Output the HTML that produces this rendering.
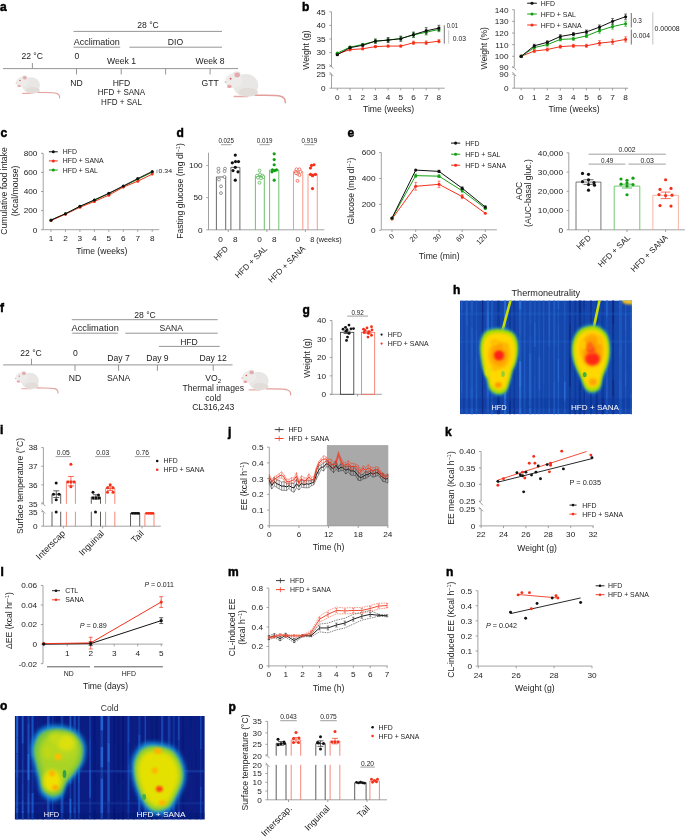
<!DOCTYPE html>
<html><head><meta charset="utf-8"><style>
html,body{margin:0;padding:0;background:#fff;}
svg{display:block;will-change:transform;filter:blur(0.3px);}
text{font-family:"Liberation Sans",sans-serif;}
</style></head><body>
<svg width="685" height="840" viewBox="0 0 685 840" fill="#222">
<defs><filter id="b06" x="-20%" y="-20%" width="140%" height="140%"><feGaussianBlur stdDeviation="0.6"/></filter><filter id="b1" x="-30%" y="-30%" width="160%" height="160%"><feGaussianBlur stdDeviation="1"/></filter><filter id="b15" x="-30%" y="-30%" width="160%" height="160%"><feGaussianBlur stdDeviation="1.5"/></filter><filter id="b2" x="-40%" y="-40%" width="180%" height="180%"><feGaussianBlur stdDeviation="2"/></filter><filter id="b3" x="-50%" y="-50%" width="200%" height="200%"><feGaussianBlur stdDeviation="3"/></filter><clipPath id="cph"><rect x="460.0" y="300.4" width="172.0" height="113.8"/></clipPath><clipPath id="cpo"><rect x="14.7" y="716.0" width="190.1" height="103.6"/></clipPath></defs>
<text x="0.00" y="10.60" font-size="12" font-weight="bold" fill="#000" stroke="#000" stroke-width="0.5">a</text>
<g transform="translate(15.8,75.1) scale(1.0,1.0)">
<path d="M22,17.4 C30,17.6 37,17.2 40.5,18.2 C43,19 44,20.8 43.8,22.8" fill="none" stroke="#e39e9a" stroke-width="1.1" stroke-linecap="round"/>
<path d="M6.8,18.3 L16.5,18.3" stroke="#e6aaa6" stroke-width="1.1" stroke-linecap="round"/>
<ellipse cx="15.2" cy="10.2" rx="9" ry="8.1" fill="#e9e7e5"/>
<ellipse cx="17" cy="15.2" rx="7" ry="3.2" fill="#e2ddd9"/>
<ellipse cx="6.6" cy="6.8" rx="6.4" ry="5.3" fill="#eeecea" transform="rotate(-12 6.6 6.8)"/>
<ellipse cx="8.6" cy="2.5" rx="2.9" ry="2.4" fill="#ecebea"/>
<ellipse cx="9.0" cy="2.7" rx="2.0" ry="1.7" fill="#e3acac"/>
<circle cx="4.2" cy="5.4" r="0.65" fill="#d04848"/>
<circle cx="0.4" cy="7.9" r="0.6" fill="#e8a8a8"/>
<ellipse cx="3.3" cy="11.0" rx="1.7" ry="1.1" fill="#e9a4a4"/>
</g>
<g transform="translate(224.8,71.2) scale(1.38,1.38)">
<path d="M22,17.4 C30,17.6 37,17.2 40.5,18.2 C43,19 44,20.8 43.8,22.8" fill="none" stroke="#e39e9a" stroke-width="1.1" stroke-linecap="round"/>
<path d="M6.8,18.3 L16.5,18.3" stroke="#e6aaa6" stroke-width="1.1" stroke-linecap="round"/>
<ellipse cx="15.2" cy="10.2" rx="9" ry="8.1" fill="#e9e7e5"/>
<ellipse cx="17" cy="15.2" rx="7" ry="3.2" fill="#e2ddd9"/>
<ellipse cx="6.6" cy="6.8" rx="6.4" ry="5.3" fill="#eeecea" transform="rotate(-12 6.6 6.8)"/>
<ellipse cx="8.6" cy="2.5" rx="2.9" ry="2.4" fill="#ecebea"/>
<ellipse cx="9.0" cy="2.7" rx="2.0" ry="1.7" fill="#e3acac"/>
<circle cx="4.2" cy="5.4" r="0.65" fill="#d04848"/>
<circle cx="0.4" cy="7.9" r="0.6" fill="#e8a8a8"/>
<ellipse cx="3.3" cy="11.0" rx="1.7" ry="1.1" fill="#e9a4a4"/>
</g>
<line x1="3.00" y1="68.60" x2="238.00" y2="68.60" stroke="#8a8a8a" stroke-width="0.9"/>
<line x1="32.40" y1="63.00" x2="32.40" y2="68.60" stroke="#8a8a8a" stroke-width="0.9"/>
<line x1="76.50" y1="68.60" x2="76.50" y2="74.50" stroke="#8a8a8a" stroke-width="0.9"/>
<line x1="121.20" y1="68.60" x2="121.20" y2="74.50" stroke="#8a8a8a" stroke-width="0.9"/>
<line x1="165.60" y1="68.60" x2="165.60" y2="74.50" stroke="#8a8a8a" stroke-width="0.9"/>
<line x1="210.10" y1="68.60" x2="210.10" y2="74.50" stroke="#8a8a8a" stroke-width="0.9"/>
<line x1="73.50" y1="31.40" x2="222.00" y2="31.40" stroke="#8a8a8a" stroke-width="0.9"/>
<line x1="73.50" y1="47.20" x2="120.20" y2="47.20" stroke="#8a8a8a" stroke-width="0.9"/>
<line x1="129.40" y1="47.20" x2="222.00" y2="47.20" stroke="#8a8a8a" stroke-width="0.9"/>
<text x="148.00" y="27.80" font-size="8.6" text-anchor="middle">28 °C</text>
<text x="73.80" y="44.50" font-size="8.6" textLength="46" lengthAdjust="spacingAndGlyphs">Acclimation</text>
<text x="175.50" y="44.50" font-size="8.6" text-anchor="middle">DIO</text>
<text x="32.20" y="59.30" font-size="8.6" text-anchor="middle">22 °C</text>
<text x="76.80" y="59.30" font-size="8.6" text-anchor="middle">0</text>
<text x="121.50" y="64.30" font-size="8.6" text-anchor="middle">Week 1</text>
<text x="210.10" y="64.30" font-size="8.6" text-anchor="middle">Week 8</text>
<text x="76.50" y="85.60" font-size="8.6" text-anchor="middle">ND</text>
<text x="121.50" y="85.60" font-size="8.6" text-anchor="middle">HFD</text>
<text x="121.50" y="95.40" font-size="8.6" text-anchor="middle" textLength="47.4" lengthAdjust="spacingAndGlyphs">HFD + SANA</text>
<text x="121.50" y="105.20" font-size="8.6" text-anchor="middle" textLength="40.8" lengthAdjust="spacingAndGlyphs">HFD + SAL</text>
<text x="210.10" y="85.60" font-size="8.6" text-anchor="middle">GTT</text>
<text x="302.00" y="10.90" font-size="12" font-weight="bold" fill="#000" stroke="#000" stroke-width="0.5">b</text>
<line x1="331.50" y1="11.80" x2="331.50" y2="66.80" stroke="#8c8c8c" stroke-width="0.8"/>
<line x1="331.50" y1="74.80" x2="331.50" y2="88.20" stroke="#8c8c8c" stroke-width="0.8"/>
<line x1="329.60" y1="64.50" x2="333.40" y2="68.70" stroke="#8c8c8c" stroke-width="0.8"/>
<line x1="329.60" y1="72.00" x2="333.40" y2="76.20" stroke="#8c8c8c" stroke-width="0.8"/>
<line x1="329.30" y1="11.80" x2="331.50" y2="11.80" stroke="#8c8c8c" stroke-width="0.8"/>
<text x="325.70" y="14.68" font-size="8.0" text-anchor="end" textLength="9.16" lengthAdjust="spacingAndGlyphs">45</text>
<line x1="329.30" y1="25.40" x2="331.50" y2="25.40" stroke="#8c8c8c" stroke-width="0.8"/>
<text x="325.70" y="28.28" font-size="8.0" text-anchor="end" textLength="9.16" lengthAdjust="spacingAndGlyphs">40</text>
<line x1="329.30" y1="39.00" x2="331.50" y2="39.00" stroke="#8c8c8c" stroke-width="0.8"/>
<text x="325.70" y="41.88" font-size="8.0" text-anchor="end" textLength="9.16" lengthAdjust="spacingAndGlyphs">35</text>
<line x1="329.30" y1="52.60" x2="331.50" y2="52.60" stroke="#8c8c8c" stroke-width="0.8"/>
<text x="325.70" y="55.48" font-size="8.0" text-anchor="end" textLength="9.16" lengthAdjust="spacingAndGlyphs">30</text>
<line x1="329.30" y1="66.20" x2="331.50" y2="66.20" stroke="#8c8c8c" stroke-width="0.8"/>
<text x="325.70" y="69.08" font-size="8.0" text-anchor="end" textLength="9.16" lengthAdjust="spacingAndGlyphs">25</text>
<line x1="329.30" y1="74.20" x2="331.50" y2="74.20" stroke="#8c8c8c" stroke-width="0.8"/>
<text x="325.70" y="77.08" font-size="8.0" text-anchor="end" textLength="9.16" lengthAdjust="spacingAndGlyphs">25</text>
<line x1="329.30" y1="88.20" x2="331.50" y2="88.20" stroke="#8c8c8c" stroke-width="0.8"/>
<text x="325.70" y="91.08" font-size="8.0" text-anchor="end" textLength="4.58" lengthAdjust="spacingAndGlyphs">0</text>
<line x1="331.50" y1="88.20" x2="444.70" y2="88.20" stroke="#8c8c8c" stroke-width="0.8"/>
<line x1="337.30" y1="88.20" x2="337.30" y2="90.40" stroke="#8c8c8c" stroke-width="0.8"/>
<text x="337.30" y="99.66" font-size="8.0" text-anchor="middle" textLength="4.58" lengthAdjust="spacingAndGlyphs">0</text>
<line x1="350.00" y1="88.20" x2="350.00" y2="90.40" stroke="#8c8c8c" stroke-width="0.8"/>
<text x="350.00" y="99.66" font-size="8.0" text-anchor="middle" textLength="4.58" lengthAdjust="spacingAndGlyphs">1</text>
<line x1="362.70" y1="88.20" x2="362.70" y2="90.40" stroke="#8c8c8c" stroke-width="0.8"/>
<text x="362.70" y="99.66" font-size="8.0" text-anchor="middle" textLength="4.58" lengthAdjust="spacingAndGlyphs">2</text>
<line x1="375.40" y1="88.20" x2="375.40" y2="90.40" stroke="#8c8c8c" stroke-width="0.8"/>
<text x="375.40" y="99.66" font-size="8.0" text-anchor="middle" textLength="4.58" lengthAdjust="spacingAndGlyphs">3</text>
<line x1="388.10" y1="88.20" x2="388.10" y2="90.40" stroke="#8c8c8c" stroke-width="0.8"/>
<text x="388.10" y="99.66" font-size="8.0" text-anchor="middle" textLength="4.58" lengthAdjust="spacingAndGlyphs">4</text>
<line x1="400.80" y1="88.20" x2="400.80" y2="90.40" stroke="#8c8c8c" stroke-width="0.8"/>
<text x="400.80" y="99.66" font-size="8.0" text-anchor="middle" textLength="4.58" lengthAdjust="spacingAndGlyphs">5</text>
<line x1="413.50" y1="88.20" x2="413.50" y2="90.40" stroke="#8c8c8c" stroke-width="0.8"/>
<text x="413.50" y="99.66" font-size="8.0" text-anchor="middle" textLength="4.58" lengthAdjust="spacingAndGlyphs">6</text>
<line x1="426.20" y1="88.20" x2="426.20" y2="90.40" stroke="#8c8c8c" stroke-width="0.8"/>
<text x="426.20" y="99.66" font-size="8.0" text-anchor="middle" textLength="4.58" lengthAdjust="spacingAndGlyphs">7</text>
<line x1="438.90" y1="88.20" x2="438.90" y2="90.40" stroke="#8c8c8c" stroke-width="0.8"/>
<text x="438.90" y="99.66" font-size="8.0" text-anchor="middle" textLength="4.58" lengthAdjust="spacingAndGlyphs">8</text>
<text x="388.60" y="112.00" font-size="8.6" text-anchor="middle">Time (weeks)</text>
<text x="308.60" y="50.00" font-size="8.6" text-anchor="middle" transform="rotate(-90 308.60 50.00)">Weight (g)</text>
<line x1="337.30" y1="53.16" x2="337.30" y2="54.76" stroke="#f4301a" stroke-width="0.6"/>
<line x1="335.90" y1="53.16" x2="338.70" y2="53.16" stroke="#f4301a" stroke-width="0.6"/>
<line x1="335.90" y1="54.76" x2="338.70" y2="54.76" stroke="#f4301a" stroke-width="0.6"/>
<line x1="350.00" y1="48.41" x2="350.00" y2="50.81" stroke="#f4301a" stroke-width="0.6"/>
<line x1="348.60" y1="48.41" x2="351.40" y2="48.41" stroke="#f4301a" stroke-width="0.6"/>
<line x1="348.60" y1="50.81" x2="351.40" y2="50.81" stroke="#f4301a" stroke-width="0.6"/>
<line x1="362.70" y1="47.79" x2="362.70" y2="49.79" stroke="#f4301a" stroke-width="0.6"/>
<line x1="361.30" y1="47.79" x2="364.10" y2="47.79" stroke="#f4301a" stroke-width="0.6"/>
<line x1="361.30" y1="49.79" x2="364.10" y2="49.79" stroke="#f4301a" stroke-width="0.6"/>
<line x1="375.40" y1="45.62" x2="375.40" y2="47.62" stroke="#f4301a" stroke-width="0.6"/>
<line x1="374.00" y1="45.62" x2="376.80" y2="45.62" stroke="#f4301a" stroke-width="0.6"/>
<line x1="374.00" y1="47.62" x2="376.80" y2="47.62" stroke="#f4301a" stroke-width="0.6"/>
<line x1="388.10" y1="45.07" x2="388.10" y2="47.07" stroke="#f4301a" stroke-width="0.6"/>
<line x1="386.70" y1="45.07" x2="389.50" y2="45.07" stroke="#f4301a" stroke-width="0.6"/>
<line x1="386.70" y1="47.07" x2="389.50" y2="47.07" stroke="#f4301a" stroke-width="0.6"/>
<line x1="400.80" y1="45.07" x2="400.80" y2="47.07" stroke="#f4301a" stroke-width="0.6"/>
<line x1="399.40" y1="45.07" x2="402.20" y2="45.07" stroke="#f4301a" stroke-width="0.6"/>
<line x1="399.40" y1="47.07" x2="402.20" y2="47.07" stroke="#f4301a" stroke-width="0.6"/>
<line x1="413.50" y1="41.21" x2="413.50" y2="44.41" stroke="#f4301a" stroke-width="0.6"/>
<line x1="412.10" y1="41.21" x2="414.90" y2="41.21" stroke="#f4301a" stroke-width="0.6"/>
<line x1="412.10" y1="44.41" x2="414.90" y2="44.41" stroke="#f4301a" stroke-width="0.6"/>
<line x1="426.20" y1="41.01" x2="426.20" y2="44.61" stroke="#f4301a" stroke-width="0.6"/>
<line x1="424.80" y1="41.01" x2="427.60" y2="41.01" stroke="#f4301a" stroke-width="0.6"/>
<line x1="424.80" y1="44.61" x2="427.60" y2="44.61" stroke="#f4301a" stroke-width="0.6"/>
<line x1="438.90" y1="39.58" x2="438.90" y2="42.78" stroke="#f4301a" stroke-width="0.6"/>
<line x1="437.50" y1="39.58" x2="440.30" y2="39.58" stroke="#f4301a" stroke-width="0.6"/>
<line x1="437.50" y1="42.78" x2="440.30" y2="42.78" stroke="#f4301a" stroke-width="0.6"/>
<polyline points="337.30,53.96 350.00,49.61 362.70,48.79 375.40,46.62 388.10,46.07 400.80,46.07 413.50,42.81 426.20,42.81 438.90,41.18" fill="none" stroke="#f4301a" stroke-width="1.0" stroke-linejoin="round"/>
<circle cx="337.30" cy="53.96" r="1.55" fill="#f4301a"/>
<circle cx="350.00" cy="49.61" r="1.55" fill="#f4301a"/>
<circle cx="362.70" cy="48.79" r="1.55" fill="#f4301a"/>
<circle cx="375.40" cy="46.62" r="1.55" fill="#f4301a"/>
<circle cx="388.10" cy="46.07" r="1.55" fill="#f4301a"/>
<circle cx="400.80" cy="46.07" r="1.55" fill="#f4301a"/>
<circle cx="413.50" cy="42.81" r="1.55" fill="#f4301a"/>
<circle cx="426.20" cy="42.81" r="1.55" fill="#f4301a"/>
<circle cx="438.90" cy="41.18" r="1.55" fill="#f4301a"/>
<line x1="337.30" y1="52.54" x2="337.30" y2="53.74" stroke="#13a013" stroke-width="0.6"/>
<line x1="335.90" y1="52.54" x2="338.70" y2="52.54" stroke="#13a013" stroke-width="0.6"/>
<line x1="335.90" y1="53.74" x2="338.70" y2="53.74" stroke="#13a013" stroke-width="0.6"/>
<line x1="350.00" y1="46.16" x2="350.00" y2="48.16" stroke="#13a013" stroke-width="0.6"/>
<line x1="348.60" y1="46.16" x2="351.40" y2="46.16" stroke="#13a013" stroke-width="0.6"/>
<line x1="348.60" y1="48.16" x2="351.40" y2="48.16" stroke="#13a013" stroke-width="0.6"/>
<line x1="362.70" y1="43.44" x2="362.70" y2="45.44" stroke="#13a013" stroke-width="0.6"/>
<line x1="361.30" y1="43.44" x2="364.10" y2="43.44" stroke="#13a013" stroke-width="0.6"/>
<line x1="361.30" y1="45.44" x2="364.10" y2="45.44" stroke="#13a013" stroke-width="0.6"/>
<line x1="375.40" y1="39.68" x2="375.40" y2="42.68" stroke="#13a013" stroke-width="0.6"/>
<line x1="374.00" y1="39.68" x2="376.80" y2="39.68" stroke="#13a013" stroke-width="0.6"/>
<line x1="374.00" y1="42.68" x2="376.80" y2="42.68" stroke="#13a013" stroke-width="0.6"/>
<line x1="388.10" y1="38.29" x2="388.10" y2="41.89" stroke="#13a013" stroke-width="0.6"/>
<line x1="386.70" y1="38.29" x2="389.50" y2="38.29" stroke="#13a013" stroke-width="0.6"/>
<line x1="386.70" y1="41.89" x2="389.50" y2="41.89" stroke="#13a013" stroke-width="0.6"/>
<line x1="400.80" y1="36.66" x2="400.80" y2="40.26" stroke="#13a013" stroke-width="0.6"/>
<line x1="399.40" y1="36.66" x2="402.20" y2="36.66" stroke="#13a013" stroke-width="0.6"/>
<line x1="399.40" y1="40.26" x2="402.20" y2="40.26" stroke="#13a013" stroke-width="0.6"/>
<line x1="413.50" y1="32.72" x2="413.50" y2="37.12" stroke="#13a013" stroke-width="0.6"/>
<line x1="412.10" y1="32.72" x2="414.90" y2="32.72" stroke="#13a013" stroke-width="0.6"/>
<line x1="412.10" y1="37.12" x2="414.90" y2="37.12" stroke="#13a013" stroke-width="0.6"/>
<line x1="426.20" y1="29.40" x2="426.20" y2="35.00" stroke="#13a013" stroke-width="0.6"/>
<line x1="424.80" y1="29.40" x2="427.60" y2="29.40" stroke="#13a013" stroke-width="0.6"/>
<line x1="424.80" y1="35.00" x2="427.60" y2="35.00" stroke="#13a013" stroke-width="0.6"/>
<line x1="438.90" y1="27.28" x2="438.90" y2="31.68" stroke="#13a013" stroke-width="0.6"/>
<line x1="437.50" y1="27.28" x2="440.30" y2="27.28" stroke="#13a013" stroke-width="0.6"/>
<line x1="437.50" y1="31.68" x2="440.30" y2="31.68" stroke="#13a013" stroke-width="0.6"/>
<polyline points="337.30,53.14 350.00,47.16 362.70,44.44 375.40,41.18 388.10,40.09 400.80,38.46 413.50,34.92 426.20,32.20 438.90,29.48" fill="none" stroke="#13a013" stroke-width="1.0" stroke-linejoin="round"/>
<circle cx="337.30" cy="53.14" r="1.55" fill="#13a013"/>
<circle cx="350.00" cy="47.16" r="1.55" fill="#13a013"/>
<circle cx="362.70" cy="44.44" r="1.55" fill="#13a013"/>
<circle cx="375.40" cy="41.18" r="1.55" fill="#13a013"/>
<circle cx="388.10" cy="40.09" r="1.55" fill="#13a013"/>
<circle cx="400.80" cy="38.46" r="1.55" fill="#13a013"/>
<circle cx="413.50" cy="34.92" r="1.55" fill="#13a013"/>
<circle cx="426.20" cy="32.20" r="1.55" fill="#13a013"/>
<circle cx="438.90" cy="29.48" r="1.55" fill="#13a013"/>
<line x1="337.30" y1="54.18" x2="337.30" y2="55.38" stroke="#111" stroke-width="0.6"/>
<line x1="335.90" y1="54.18" x2="338.70" y2="54.18" stroke="#111" stroke-width="0.6"/>
<line x1="335.90" y1="55.38" x2="338.70" y2="55.38" stroke="#111" stroke-width="0.6"/>
<line x1="350.00" y1="46.70" x2="350.00" y2="48.70" stroke="#111" stroke-width="0.6"/>
<line x1="348.60" y1="46.70" x2="351.40" y2="46.70" stroke="#111" stroke-width="0.6"/>
<line x1="348.60" y1="48.70" x2="351.40" y2="48.70" stroke="#111" stroke-width="0.6"/>
<line x1="362.70" y1="44.06" x2="362.70" y2="46.46" stroke="#111" stroke-width="0.6"/>
<line x1="361.30" y1="44.06" x2="364.10" y2="44.06" stroke="#111" stroke-width="0.6"/>
<line x1="361.30" y1="46.46" x2="364.10" y2="46.46" stroke="#111" stroke-width="0.6"/>
<line x1="375.40" y1="38.98" x2="375.40" y2="43.38" stroke="#111" stroke-width="0.6"/>
<line x1="374.00" y1="38.98" x2="376.80" y2="38.98" stroke="#111" stroke-width="0.6"/>
<line x1="374.00" y1="43.38" x2="376.80" y2="43.38" stroke="#111" stroke-width="0.6"/>
<line x1="388.10" y1="37.59" x2="388.10" y2="42.59" stroke="#111" stroke-width="0.6"/>
<line x1="386.70" y1="37.59" x2="389.50" y2="37.59" stroke="#111" stroke-width="0.6"/>
<line x1="386.70" y1="42.59" x2="389.50" y2="42.59" stroke="#111" stroke-width="0.6"/>
<line x1="400.80" y1="36.13" x2="400.80" y2="41.33" stroke="#111" stroke-width="0.6"/>
<line x1="399.40" y1="36.13" x2="402.20" y2="36.13" stroke="#111" stroke-width="0.6"/>
<line x1="399.40" y1="41.33" x2="402.20" y2="41.33" stroke="#111" stroke-width="0.6"/>
<line x1="413.50" y1="32.05" x2="413.50" y2="37.25" stroke="#111" stroke-width="0.6"/>
<line x1="412.10" y1="32.05" x2="414.90" y2="32.05" stroke="#111" stroke-width="0.6"/>
<line x1="412.10" y1="37.25" x2="414.90" y2="37.25" stroke="#111" stroke-width="0.6"/>
<line x1="426.20" y1="27.64" x2="426.20" y2="34.04" stroke="#111" stroke-width="0.6"/>
<line x1="424.80" y1="27.64" x2="427.60" y2="27.64" stroke="#111" stroke-width="0.6"/>
<line x1="424.80" y1="34.04" x2="427.60" y2="34.04" stroke="#111" stroke-width="0.6"/>
<line x1="438.90" y1="25.32" x2="438.90" y2="30.92" stroke="#111" stroke-width="0.6"/>
<line x1="437.50" y1="25.32" x2="440.30" y2="25.32" stroke="#111" stroke-width="0.6"/>
<line x1="437.50" y1="30.92" x2="440.30" y2="30.92" stroke="#111" stroke-width="0.6"/>
<polyline points="337.30,54.78 350.00,47.70 362.70,45.26 375.40,41.18 388.10,40.09 400.80,38.73 413.50,34.65 426.20,30.84 438.90,28.12" fill="none" stroke="#111" stroke-width="1.0" stroke-linejoin="round"/>
<circle cx="337.30" cy="54.78" r="1.55" fill="#111"/>
<circle cx="350.00" cy="47.70" r="1.55" fill="#111"/>
<circle cx="362.70" cy="45.26" r="1.55" fill="#111"/>
<circle cx="375.40" cy="41.18" r="1.55" fill="#111"/>
<circle cx="388.10" cy="40.09" r="1.55" fill="#111"/>
<circle cx="400.80" cy="38.73" r="1.55" fill="#111"/>
<circle cx="413.50" cy="34.65" r="1.55" fill="#111"/>
<circle cx="426.20" cy="30.84" r="1.55" fill="#111"/>
<circle cx="438.90" cy="28.12" r="1.55" fill="#111"/>
<line x1="444.30" y1="25.30" x2="444.30" y2="43.70" stroke="#555" stroke-width="0.8"/>
<line x1="448.70" y1="30.30" x2="448.70" y2="43.70" stroke="#bbb" stroke-width="0.8"/>
<text x="446.70" y="27.60" font-size="6.4" textLength="11.4" lengthAdjust="spacingAndGlyphs">0.01</text>
<text x="452.80" y="41.40" font-size="6.4" textLength="13.2" lengthAdjust="spacingAndGlyphs">0.03</text>
<line x1="514.30" y1="9.70" x2="514.30" y2="66.80" stroke="#8c8c8c" stroke-width="0.8"/>
<line x1="514.30" y1="75.00" x2="514.30" y2="88.20" stroke="#8c8c8c" stroke-width="0.8"/>
<line x1="512.40" y1="66.00" x2="516.20" y2="70.20" stroke="#8c8c8c" stroke-width="0.8"/>
<line x1="512.40" y1="72.00" x2="516.20" y2="76.20" stroke="#8c8c8c" stroke-width="0.8"/>
<line x1="512.10" y1="9.70" x2="514.30" y2="9.70" stroke="#8c8c8c" stroke-width="0.8"/>
<text x="508.50" y="12.58" font-size="8.0" text-anchor="end" textLength="13.75" lengthAdjust="spacingAndGlyphs">140</text>
<line x1="512.10" y1="21.35" x2="514.30" y2="21.35" stroke="#8c8c8c" stroke-width="0.8"/>
<text x="508.50" y="24.23" font-size="8.0" text-anchor="end" textLength="13.75" lengthAdjust="spacingAndGlyphs">130</text>
<line x1="512.10" y1="33.00" x2="514.30" y2="33.00" stroke="#8c8c8c" stroke-width="0.8"/>
<text x="508.50" y="35.88" font-size="8.0" text-anchor="end" textLength="13.75" lengthAdjust="spacingAndGlyphs">120</text>
<line x1="512.10" y1="44.65" x2="514.30" y2="44.65" stroke="#8c8c8c" stroke-width="0.8"/>
<text x="508.50" y="47.53" font-size="8.0" text-anchor="end" textLength="13.14" lengthAdjust="spacingAndGlyphs">110</text>
<line x1="512.10" y1="56.30" x2="514.30" y2="56.30" stroke="#8c8c8c" stroke-width="0.8"/>
<text x="508.50" y="59.18" font-size="8.0" text-anchor="end" textLength="13.75" lengthAdjust="spacingAndGlyphs">100</text>
<line x1="512.10" y1="67.40" x2="514.30" y2="67.40" stroke="#8c8c8c" stroke-width="0.8"/>
<text x="508.50" y="70.28" font-size="8.0" text-anchor="end" textLength="9.16" lengthAdjust="spacingAndGlyphs">90</text>
<line x1="512.10" y1="74.20" x2="514.30" y2="74.20" stroke="#8c8c8c" stroke-width="0.8"/>
<text x="508.50" y="77.08" font-size="8.0" text-anchor="end" textLength="9.16" lengthAdjust="spacingAndGlyphs">90</text>
<line x1="512.10" y1="88.20" x2="514.30" y2="88.20" stroke="#8c8c8c" stroke-width="0.8"/>
<text x="508.50" y="91.08" font-size="8.0" text-anchor="end" textLength="4.58" lengthAdjust="spacingAndGlyphs">0</text>
<line x1="514.30" y1="88.20" x2="628.20" y2="88.20" stroke="#8c8c8c" stroke-width="0.8"/>
<line x1="521.20" y1="88.20" x2="521.20" y2="90.40" stroke="#8c8c8c" stroke-width="0.8"/>
<text x="521.20" y="99.66" font-size="8.0" text-anchor="middle" textLength="4.58" lengthAdjust="spacingAndGlyphs">0</text>
<line x1="534.25" y1="88.20" x2="534.25" y2="90.40" stroke="#8c8c8c" stroke-width="0.8"/>
<text x="534.25" y="99.66" font-size="8.0" text-anchor="middle" textLength="4.58" lengthAdjust="spacingAndGlyphs">1</text>
<line x1="547.30" y1="88.20" x2="547.30" y2="90.40" stroke="#8c8c8c" stroke-width="0.8"/>
<text x="547.30" y="99.66" font-size="8.0" text-anchor="middle" textLength="4.58" lengthAdjust="spacingAndGlyphs">2</text>
<line x1="560.35" y1="88.20" x2="560.35" y2="90.40" stroke="#8c8c8c" stroke-width="0.8"/>
<text x="560.35" y="99.66" font-size="8.0" text-anchor="middle" textLength="4.58" lengthAdjust="spacingAndGlyphs">3</text>
<line x1="573.40" y1="88.20" x2="573.40" y2="90.40" stroke="#8c8c8c" stroke-width="0.8"/>
<text x="573.40" y="99.66" font-size="8.0" text-anchor="middle" textLength="4.58" lengthAdjust="spacingAndGlyphs">4</text>
<line x1="586.45" y1="88.20" x2="586.45" y2="90.40" stroke="#8c8c8c" stroke-width="0.8"/>
<text x="586.45" y="99.66" font-size="8.0" text-anchor="middle" textLength="4.58" lengthAdjust="spacingAndGlyphs">5</text>
<line x1="599.50" y1="88.20" x2="599.50" y2="90.40" stroke="#8c8c8c" stroke-width="0.8"/>
<text x="599.50" y="99.66" font-size="8.0" text-anchor="middle" textLength="4.58" lengthAdjust="spacingAndGlyphs">6</text>
<line x1="612.55" y1="88.20" x2="612.55" y2="90.40" stroke="#8c8c8c" stroke-width="0.8"/>
<text x="612.55" y="99.66" font-size="8.0" text-anchor="middle" textLength="4.58" lengthAdjust="spacingAndGlyphs">7</text>
<line x1="625.60" y1="88.20" x2="625.60" y2="90.40" stroke="#8c8c8c" stroke-width="0.8"/>
<text x="625.60" y="99.66" font-size="8.0" text-anchor="middle" textLength="4.58" lengthAdjust="spacingAndGlyphs">8</text>
<text x="574.00" y="112.00" font-size="8.6" text-anchor="middle">Time (weeks)</text>
<text x="486.80" y="48.20" font-size="8.6" text-anchor="middle" transform="rotate(-90 486.80 48.20)">Weight (%)</text>
<line x1="521.20" y1="55.30" x2="521.20" y2="57.30" stroke="#f4301a" stroke-width="0.6"/>
<line x1="519.80" y1="55.30" x2="522.60" y2="55.30" stroke="#f4301a" stroke-width="0.6"/>
<line x1="519.80" y1="57.30" x2="522.60" y2="57.30" stroke="#f4301a" stroke-width="0.6"/>
<line x1="534.25" y1="49.56" x2="534.25" y2="52.56" stroke="#f4301a" stroke-width="0.6"/>
<line x1="532.85" y1="49.56" x2="535.65" y2="49.56" stroke="#f4301a" stroke-width="0.6"/>
<line x1="532.85" y1="52.56" x2="535.65" y2="52.56" stroke="#f4301a" stroke-width="0.6"/>
<line x1="547.30" y1="48.04" x2="547.30" y2="51.04" stroke="#f4301a" stroke-width="0.6"/>
<line x1="545.90" y1="48.04" x2="548.70" y2="48.04" stroke="#f4301a" stroke-width="0.6"/>
<line x1="545.90" y1="51.04" x2="548.70" y2="51.04" stroke="#f4301a" stroke-width="0.6"/>
<line x1="560.35" y1="45.13" x2="560.35" y2="48.13" stroke="#f4301a" stroke-width="0.6"/>
<line x1="558.95" y1="45.13" x2="561.75" y2="45.13" stroke="#f4301a" stroke-width="0.6"/>
<line x1="558.95" y1="48.13" x2="561.75" y2="48.13" stroke="#f4301a" stroke-width="0.6"/>
<line x1="573.40" y1="44.31" x2="573.40" y2="47.31" stroke="#f4301a" stroke-width="0.6"/>
<line x1="572.00" y1="44.31" x2="574.80" y2="44.31" stroke="#f4301a" stroke-width="0.6"/>
<line x1="572.00" y1="47.31" x2="574.80" y2="47.31" stroke="#f4301a" stroke-width="0.6"/>
<line x1="586.45" y1="44.31" x2="586.45" y2="47.31" stroke="#f4301a" stroke-width="0.6"/>
<line x1="585.05" y1="44.31" x2="587.85" y2="44.31" stroke="#f4301a" stroke-width="0.6"/>
<line x1="585.05" y1="47.31" x2="587.85" y2="47.31" stroke="#f4301a" stroke-width="0.6"/>
<line x1="599.50" y1="40.64" x2="599.50" y2="45.64" stroke="#f4301a" stroke-width="0.6"/>
<line x1="598.10" y1="40.64" x2="600.90" y2="40.64" stroke="#f4301a" stroke-width="0.6"/>
<line x1="598.10" y1="45.64" x2="600.90" y2="45.64" stroke="#f4301a" stroke-width="0.6"/>
<line x1="612.55" y1="39.24" x2="612.55" y2="44.24" stroke="#f4301a" stroke-width="0.6"/>
<line x1="611.15" y1="39.24" x2="613.95" y2="39.24" stroke="#f4301a" stroke-width="0.6"/>
<line x1="611.15" y1="44.24" x2="613.95" y2="44.24" stroke="#f4301a" stroke-width="0.6"/>
<line x1="625.60" y1="36.81" x2="625.60" y2="42.01" stroke="#f4301a" stroke-width="0.6"/>
<line x1="624.20" y1="36.81" x2="627.00" y2="36.81" stroke="#f4301a" stroke-width="0.6"/>
<line x1="624.20" y1="42.01" x2="627.00" y2="42.01" stroke="#f4301a" stroke-width="0.6"/>
<polyline points="521.20,56.30 534.25,51.06 547.30,49.54 560.35,46.63 573.40,45.81 586.45,45.81 599.50,43.14 612.55,41.74 625.60,39.41" fill="none" stroke="#f4301a" stroke-width="1.0" stroke-linejoin="round"/>
<circle cx="521.20" cy="56.30" r="1.55" fill="#f4301a"/>
<circle cx="534.25" cy="51.06" r="1.55" fill="#f4301a"/>
<circle cx="547.30" cy="49.54" r="1.55" fill="#f4301a"/>
<circle cx="560.35" cy="46.63" r="1.55" fill="#f4301a"/>
<circle cx="573.40" cy="45.81" r="1.55" fill="#f4301a"/>
<circle cx="586.45" cy="45.81" r="1.55" fill="#f4301a"/>
<circle cx="599.50" cy="43.14" r="1.55" fill="#f4301a"/>
<circle cx="612.55" cy="41.74" r="1.55" fill="#f4301a"/>
<circle cx="625.60" cy="39.41" r="1.55" fill="#f4301a"/>
<line x1="521.20" y1="55.30" x2="521.20" y2="57.30" stroke="#13a013" stroke-width="0.6"/>
<line x1="519.80" y1="55.30" x2="522.60" y2="55.30" stroke="#13a013" stroke-width="0.6"/>
<line x1="519.80" y1="57.30" x2="522.60" y2="57.30" stroke="#13a013" stroke-width="0.6"/>
<line x1="534.25" y1="46.06" x2="534.25" y2="49.06" stroke="#13a013" stroke-width="0.6"/>
<line x1="532.85" y1="46.06" x2="535.65" y2="46.06" stroke="#13a013" stroke-width="0.6"/>
<line x1="532.85" y1="49.06" x2="535.65" y2="49.06" stroke="#13a013" stroke-width="0.6"/>
<line x1="547.30" y1="43.15" x2="547.30" y2="46.15" stroke="#13a013" stroke-width="0.6"/>
<line x1="545.90" y1="43.15" x2="548.70" y2="43.15" stroke="#13a013" stroke-width="0.6"/>
<line x1="545.90" y1="46.15" x2="548.70" y2="46.15" stroke="#13a013" stroke-width="0.6"/>
<line x1="560.35" y1="37.91" x2="560.35" y2="40.91" stroke="#13a013" stroke-width="0.6"/>
<line x1="558.95" y1="37.91" x2="561.75" y2="37.91" stroke="#13a013" stroke-width="0.6"/>
<line x1="558.95" y1="40.91" x2="561.75" y2="40.91" stroke="#13a013" stroke-width="0.6"/>
<line x1="573.40" y1="37.32" x2="573.40" y2="40.32" stroke="#13a013" stroke-width="0.6"/>
<line x1="572.00" y1="37.32" x2="574.80" y2="37.32" stroke="#13a013" stroke-width="0.6"/>
<line x1="572.00" y1="40.32" x2="574.80" y2="40.32" stroke="#13a013" stroke-width="0.6"/>
<line x1="586.45" y1="34.41" x2="586.45" y2="37.41" stroke="#13a013" stroke-width="0.6"/>
<line x1="585.05" y1="34.41" x2="587.85" y2="34.41" stroke="#13a013" stroke-width="0.6"/>
<line x1="585.05" y1="37.41" x2="587.85" y2="37.41" stroke="#13a013" stroke-width="0.6"/>
<line x1="599.50" y1="28.17" x2="599.50" y2="33.17" stroke="#13a013" stroke-width="0.6"/>
<line x1="598.10" y1="28.17" x2="600.90" y2="28.17" stroke="#13a013" stroke-width="0.6"/>
<line x1="598.10" y1="33.17" x2="600.90" y2="33.17" stroke="#13a013" stroke-width="0.6"/>
<line x1="612.55" y1="24.09" x2="612.55" y2="29.09" stroke="#13a013" stroke-width="0.6"/>
<line x1="611.15" y1="24.09" x2="613.95" y2="24.09" stroke="#13a013" stroke-width="0.6"/>
<line x1="611.15" y1="29.09" x2="613.95" y2="29.09" stroke="#13a013" stroke-width="0.6"/>
<line x1="625.60" y1="21.08" x2="625.60" y2="26.28" stroke="#13a013" stroke-width="0.6"/>
<line x1="624.20" y1="21.08" x2="627.00" y2="21.08" stroke="#13a013" stroke-width="0.6"/>
<line x1="624.20" y1="26.28" x2="627.00" y2="26.28" stroke="#13a013" stroke-width="0.6"/>
<polyline points="521.20,56.30 534.25,47.56 547.30,44.65 560.35,39.41 573.40,38.82 586.45,35.91 599.50,30.67 612.55,26.59 625.60,23.68" fill="none" stroke="#13a013" stroke-width="1.0" stroke-linejoin="round"/>
<circle cx="521.20" cy="56.30" r="1.55" fill="#13a013"/>
<circle cx="534.25" cy="47.56" r="1.55" fill="#13a013"/>
<circle cx="547.30" cy="44.65" r="1.55" fill="#13a013"/>
<circle cx="560.35" cy="39.41" r="1.55" fill="#13a013"/>
<circle cx="573.40" cy="38.82" r="1.55" fill="#13a013"/>
<circle cx="586.45" cy="35.91" r="1.55" fill="#13a013"/>
<circle cx="599.50" cy="30.67" r="1.55" fill="#13a013"/>
<circle cx="612.55" cy="26.59" r="1.55" fill="#13a013"/>
<circle cx="625.60" cy="23.68" r="1.55" fill="#13a013"/>
<line x1="521.20" y1="55.30" x2="521.20" y2="57.30" stroke="#111" stroke-width="0.6"/>
<line x1="519.80" y1="55.30" x2="522.60" y2="55.30" stroke="#111" stroke-width="0.6"/>
<line x1="519.80" y1="57.30" x2="522.60" y2="57.30" stroke="#111" stroke-width="0.6"/>
<line x1="534.25" y1="44.31" x2="534.25" y2="47.31" stroke="#111" stroke-width="0.6"/>
<line x1="532.85" y1="44.31" x2="535.65" y2="44.31" stroke="#111" stroke-width="0.6"/>
<line x1="532.85" y1="47.31" x2="535.65" y2="47.31" stroke="#111" stroke-width="0.6"/>
<line x1="547.30" y1="40.82" x2="547.30" y2="43.82" stroke="#111" stroke-width="0.6"/>
<line x1="545.90" y1="40.82" x2="548.70" y2="40.82" stroke="#111" stroke-width="0.6"/>
<line x1="545.90" y1="43.82" x2="548.70" y2="43.82" stroke="#111" stroke-width="0.6"/>
<line x1="560.35" y1="34.70" x2="560.35" y2="38.29" stroke="#111" stroke-width="0.6"/>
<line x1="558.95" y1="34.70" x2="561.75" y2="34.70" stroke="#111" stroke-width="0.6"/>
<line x1="558.95" y1="38.29" x2="561.75" y2="38.29" stroke="#111" stroke-width="0.6"/>
<line x1="573.40" y1="32.66" x2="573.40" y2="35.66" stroke="#111" stroke-width="0.6"/>
<line x1="572.00" y1="32.66" x2="574.80" y2="32.66" stroke="#111" stroke-width="0.6"/>
<line x1="572.00" y1="35.66" x2="574.80" y2="35.66" stroke="#111" stroke-width="0.6"/>
<line x1="586.45" y1="30.03" x2="586.45" y2="33.63" stroke="#111" stroke-width="0.6"/>
<line x1="585.05" y1="30.03" x2="587.85" y2="30.03" stroke="#111" stroke-width="0.6"/>
<line x1="585.05" y1="33.63" x2="587.85" y2="33.63" stroke="#111" stroke-width="0.6"/>
<line x1="599.50" y1="24.97" x2="599.50" y2="29.37" stroke="#111" stroke-width="0.6"/>
<line x1="598.10" y1="24.97" x2="600.90" y2="24.97" stroke="#111" stroke-width="0.6"/>
<line x1="598.10" y1="29.37" x2="600.90" y2="29.37" stroke="#111" stroke-width="0.6"/>
<line x1="612.55" y1="18.55" x2="612.55" y2="24.15" stroke="#111" stroke-width="0.6"/>
<line x1="611.15" y1="18.55" x2="613.95" y2="18.55" stroke="#111" stroke-width="0.6"/>
<line x1="611.15" y1="24.15" x2="613.95" y2="24.15" stroke="#111" stroke-width="0.6"/>
<line x1="625.60" y1="14.09" x2="625.60" y2="19.29" stroke="#111" stroke-width="0.6"/>
<line x1="624.20" y1="14.09" x2="627.00" y2="14.09" stroke="#111" stroke-width="0.6"/>
<line x1="624.20" y1="19.29" x2="627.00" y2="19.29" stroke="#111" stroke-width="0.6"/>
<polyline points="521.20,56.30 534.25,45.81 547.30,42.32 560.35,36.49 573.40,34.16 586.45,31.83 599.50,27.17 612.55,21.35 625.60,16.69" fill="none" stroke="#111" stroke-width="1.0" stroke-linejoin="round"/>
<circle cx="521.20" cy="56.30" r="1.55" fill="#111"/>
<circle cx="534.25" cy="45.81" r="1.55" fill="#111"/>
<circle cx="547.30" cy="42.32" r="1.55" fill="#111"/>
<circle cx="560.35" cy="36.49" r="1.55" fill="#111"/>
<circle cx="573.40" cy="34.16" r="1.55" fill="#111"/>
<circle cx="586.45" cy="31.83" r="1.55" fill="#111"/>
<circle cx="599.50" cy="27.17" r="1.55" fill="#111"/>
<circle cx="612.55" cy="21.35" r="1.55" fill="#111"/>
<circle cx="625.60" cy="16.69" r="1.55" fill="#111"/>
<line x1="527.20" y1="3.20" x2="536.80" y2="3.20" stroke="#111" stroke-width="1.0"/>
<circle cx="532.00" cy="3.20" r="1.55" fill="#111"/>
<text x="540.80" y="5.70" font-size="6.9">HFD</text>
<line x1="527.20" y1="14.00" x2="536.80" y2="14.00" stroke="#13a013" stroke-width="1.0"/>
<circle cx="532.00" cy="14.00" r="1.55" fill="#13a013"/>
<text x="540.80" y="16.50" font-size="6.9">HFD + SAL</text>
<line x1="527.20" y1="25.00" x2="536.80" y2="25.00" stroke="#f4301a" stroke-width="1.0"/>
<circle cx="532.00" cy="25.00" r="1.55" fill="#f4301a"/>
<text x="540.80" y="27.50" font-size="6.9">HFD + SANA</text>
<line x1="631.30" y1="13.00" x2="631.30" y2="27.50" stroke="#333" stroke-width="0.7"/>
<line x1="631.30" y1="29.50" x2="631.30" y2="44.50" stroke="#333" stroke-width="0.7"/>
<line x1="652.80" y1="12.30" x2="652.80" y2="44.50" stroke="#aaa" stroke-width="0.7"/>
<text x="632.90" y="22.70" font-size="6.4" textLength="9" lengthAdjust="spacingAndGlyphs">0.3</text>
<text x="633.00" y="38.00" font-size="6.4" textLength="17" lengthAdjust="spacingAndGlyphs">0.004</text>
<text x="654.60" y="31.00" font-size="6.4" textLength="25" lengthAdjust="spacingAndGlyphs">0.00008</text>
<text x="0.50" y="136.80" font-size="12" font-weight="bold" fill="#000" stroke="#000" stroke-width="0.5">c</text>
<line x1="43.20" y1="153.30" x2="43.20" y2="229.70" stroke="#8c8c8c" stroke-width="0.8"/>
<line x1="41.00" y1="153.30" x2="43.20" y2="153.30" stroke="#8c8c8c" stroke-width="0.8"/>
<text x="37.40" y="156.18" font-size="8.0" text-anchor="end" textLength="13.75" lengthAdjust="spacingAndGlyphs">800</text>
<line x1="41.00" y1="172.40" x2="43.20" y2="172.40" stroke="#8c8c8c" stroke-width="0.8"/>
<text x="37.40" y="175.28" font-size="8.0" text-anchor="end" textLength="13.75" lengthAdjust="spacingAndGlyphs">600</text>
<line x1="41.00" y1="191.50" x2="43.20" y2="191.50" stroke="#8c8c8c" stroke-width="0.8"/>
<text x="37.40" y="194.38" font-size="8.0" text-anchor="end" textLength="13.75" lengthAdjust="spacingAndGlyphs">400</text>
<line x1="41.00" y1="210.60" x2="43.20" y2="210.60" stroke="#8c8c8c" stroke-width="0.8"/>
<text x="37.40" y="213.48" font-size="8.0" text-anchor="end" textLength="13.75" lengthAdjust="spacingAndGlyphs">200</text>
<line x1="41.00" y1="229.70" x2="43.20" y2="229.70" stroke="#8c8c8c" stroke-width="0.8"/>
<text x="37.40" y="232.58" font-size="8.0" text-anchor="end" textLength="4.58" lengthAdjust="spacingAndGlyphs">0</text>
<line x1="43.20" y1="229.70" x2="159.20" y2="229.70" stroke="#8c8c8c" stroke-width="0.8"/>
<line x1="51.00" y1="229.70" x2="51.00" y2="231.90" stroke="#8c8c8c" stroke-width="0.8"/>
<text x="51.00" y="241.16" font-size="8.0" text-anchor="middle" textLength="4.58" lengthAdjust="spacingAndGlyphs">1</text>
<line x1="65.46" y1="229.70" x2="65.46" y2="231.90" stroke="#8c8c8c" stroke-width="0.8"/>
<text x="65.46" y="241.16" font-size="8.0" text-anchor="middle" textLength="4.58" lengthAdjust="spacingAndGlyphs">2</text>
<line x1="79.92" y1="229.70" x2="79.92" y2="231.90" stroke="#8c8c8c" stroke-width="0.8"/>
<text x="79.92" y="241.16" font-size="8.0" text-anchor="middle" textLength="4.58" lengthAdjust="spacingAndGlyphs">3</text>
<line x1="94.38" y1="229.70" x2="94.38" y2="231.90" stroke="#8c8c8c" stroke-width="0.8"/>
<text x="94.38" y="241.16" font-size="8.0" text-anchor="middle" textLength="4.58" lengthAdjust="spacingAndGlyphs">4</text>
<line x1="108.84" y1="229.70" x2="108.84" y2="231.90" stroke="#8c8c8c" stroke-width="0.8"/>
<text x="108.84" y="241.16" font-size="8.0" text-anchor="middle" textLength="4.58" lengthAdjust="spacingAndGlyphs">5</text>
<line x1="123.30" y1="229.70" x2="123.30" y2="231.90" stroke="#8c8c8c" stroke-width="0.8"/>
<text x="123.30" y="241.16" font-size="8.0" text-anchor="middle" textLength="4.58" lengthAdjust="spacingAndGlyphs">6</text>
<line x1="137.76" y1="229.70" x2="137.76" y2="231.90" stroke="#8c8c8c" stroke-width="0.8"/>
<text x="137.76" y="241.16" font-size="8.0" text-anchor="middle" textLength="4.58" lengthAdjust="spacingAndGlyphs">7</text>
<line x1="152.22" y1="229.70" x2="152.22" y2="231.90" stroke="#8c8c8c" stroke-width="0.8"/>
<text x="152.22" y="241.16" font-size="8.0" text-anchor="middle" textLength="4.58" lengthAdjust="spacingAndGlyphs">8</text>
<text x="101.80" y="254.30" font-size="8.6" text-anchor="middle">Time (weeks)</text>
<text x="7.00" y="191.00" font-size="8.6" text-anchor="middle" transform="rotate(-90 7.00 191.00)">Cumulative food intake</text>
<text x="17.80" y="191.00" font-size="8.6" text-anchor="middle" transform="rotate(-90 17.80 191.00)">(Kcal/mouse)</text>
<polyline points="51.00,219.96 65.46,213.85 79.92,206.49 94.38,200.29 108.84,193.60 123.30,186.53 137.76,179.28 152.22,172.21" fill="none" stroke="#13a013" stroke-width="1.0" stroke-linejoin="round"/>
<circle cx="51.00" cy="219.96" r="1.5" fill="#13a013"/>
<circle cx="65.46" cy="213.85" r="1.5" fill="#13a013"/>
<circle cx="79.92" cy="206.49" r="1.5" fill="#13a013"/>
<circle cx="94.38" cy="200.29" r="1.5" fill="#13a013"/>
<circle cx="108.84" cy="193.60" r="1.5" fill="#13a013"/>
<circle cx="123.30" cy="186.53" r="1.5" fill="#13a013"/>
<circle cx="137.76" cy="179.28" r="1.5" fill="#13a013"/>
<circle cx="152.22" cy="172.21" r="1.5" fill="#13a013"/>
<polyline points="51.00,220.53 65.46,214.23 79.92,207.26 94.38,201.43 108.84,195.13 123.30,187.11 137.76,181.19 152.22,174.12" fill="none" stroke="#f4301a" stroke-width="1.0" stroke-linejoin="round"/>
<circle cx="51.00" cy="220.53" r="1.5" fill="#f4301a"/>
<circle cx="65.46" cy="214.23" r="1.5" fill="#f4301a"/>
<circle cx="79.92" cy="207.26" r="1.5" fill="#f4301a"/>
<circle cx="94.38" cy="201.43" r="1.5" fill="#f4301a"/>
<circle cx="108.84" cy="195.13" r="1.5" fill="#f4301a"/>
<circle cx="123.30" cy="187.11" r="1.5" fill="#f4301a"/>
<circle cx="137.76" cy="181.19" r="1.5" fill="#f4301a"/>
<circle cx="152.22" cy="174.12" r="1.5" fill="#f4301a"/>
<polyline points="51.00,220.15 65.46,213.66 79.92,206.30 94.38,199.90 108.84,193.22 123.30,185.96 137.76,178.61 152.22,171.44" fill="none" stroke="#111" stroke-width="1.0" stroke-linejoin="round"/>
<circle cx="51.00" cy="220.15" r="1.5" fill="#111"/>
<circle cx="65.46" cy="213.66" r="1.5" fill="#111"/>
<circle cx="79.92" cy="206.30" r="1.5" fill="#111"/>
<circle cx="94.38" cy="199.90" r="1.5" fill="#111"/>
<circle cx="108.84" cy="193.22" r="1.5" fill="#111"/>
<circle cx="123.30" cy="185.96" r="1.5" fill="#111"/>
<circle cx="137.76" cy="178.61" r="1.5" fill="#111"/>
<circle cx="152.22" cy="171.44" r="1.5" fill="#111"/>
<line x1="48.90" y1="151.80" x2="57.70" y2="151.80" stroke="#111" stroke-width="1.0"/>
<circle cx="53.30" cy="151.80" r="1.5" fill="#111"/>
<text x="62.80" y="154.30" font-size="6.9">HFD</text>
<line x1="48.90" y1="160.90" x2="57.70" y2="160.90" stroke="#f4301a" stroke-width="1.0"/>
<circle cx="53.30" cy="160.90" r="1.5" fill="#f4301a"/>
<text x="62.80" y="163.40" font-size="6.9">HFD + SANA</text>
<line x1="48.90" y1="170.00" x2="57.70" y2="170.00" stroke="#13a013" stroke-width="1.0"/>
<circle cx="53.30" cy="170.00" r="1.5" fill="#13a013"/>
<text x="62.80" y="172.50" font-size="6.9">HFD + SAL</text>
<line x1="157.00" y1="169.60" x2="157.00" y2="173.40" stroke="#555" stroke-width="0.6"/>
<text x="158.50" y="173.30" font-size="5.8" textLength="13.6" lengthAdjust="spacingAndGlyphs">0.34</text>
<text x="176.40" y="137.40" font-size="12" font-weight="bold" fill="#000" stroke="#000" stroke-width="0.5">d</text>
<line x1="208.50" y1="152.70" x2="208.50" y2="229.80" stroke="#8c8c8c" stroke-width="0.8"/>
<line x1="206.30" y1="165.40" x2="208.50" y2="165.40" stroke="#8c8c8c" stroke-width="0.8"/>
<text x="202.70" y="168.28" font-size="8.0" text-anchor="end" textLength="13.75" lengthAdjust="spacingAndGlyphs">100</text>
<line x1="206.30" y1="197.60" x2="208.50" y2="197.60" stroke="#8c8c8c" stroke-width="0.8"/>
<text x="202.70" y="200.48" font-size="8.0" text-anchor="end" textLength="9.16" lengthAdjust="spacingAndGlyphs">50</text>
<line x1="206.30" y1="229.80" x2="208.50" y2="229.80" stroke="#8c8c8c" stroke-width="0.8"/>
<text x="202.70" y="232.68" font-size="8.0" text-anchor="end" textLength="4.58" lengthAdjust="spacingAndGlyphs">0</text>
<line x1="208.50" y1="229.80" x2="324.30" y2="229.80" stroke="#8c8c8c" stroke-width="0.8"/>
<line x1="228.30" y1="229.80" x2="228.30" y2="232.00" stroke="#8c8c8c" stroke-width="0.8"/>
<line x1="266.90" y1="229.80" x2="266.90" y2="232.00" stroke="#8c8c8c" stroke-width="0.8"/>
<line x1="305.40" y1="229.80" x2="305.40" y2="232.00" stroke="#8c8c8c" stroke-width="0.8"/>
<path d="M216.40,229.80 V176.99 H225.70 V229.8" fill="none" stroke="#444" stroke-width="0.8"/>
<path d="M230.90,229.80 V167.33 H239.90 V229.8" fill="none" stroke="#444" stroke-width="0.8"/>
<path d="M255.40,229.80 V176.35 H264.30 V229.8" fill="none" stroke="#48b248" stroke-width="0.8"/>
<path d="M269.60,229.80 V169.91 H278.80 V229.8" fill="none" stroke="#48b248" stroke-width="0.8"/>
<path d="M293.50,229.80 V171.84 H302.80 V229.8" fill="none" stroke="#f5806c" stroke-width="0.8"/>
<path d="M308.00,229.80 V174.42 H317.30 V229.8" fill="none" stroke="#f5806c" stroke-width="0.8"/>
<circle cx="218.50" cy="168.62" r="1.45" fill="#fff" stroke="#555" stroke-width="0.6"/>
<circle cx="225.00" cy="168.62" r="1.45" fill="#fff" stroke="#555" stroke-width="0.6"/>
<circle cx="218.50" cy="171.84" r="1.45" fill="#fff" stroke="#555" stroke-width="0.6"/>
<circle cx="224.50" cy="171.20" r="1.45" fill="#fff" stroke="#555" stroke-width="0.6"/>
<circle cx="224.50" cy="176.99" r="1.45" fill="#fff" stroke="#555" stroke-width="0.6"/>
<circle cx="219.00" cy="179.57" r="1.45" fill="#fff" stroke="#555" stroke-width="0.6"/>
<circle cx="221.00" cy="186.33" r="1.45" fill="#fff" stroke="#555" stroke-width="0.6"/>
<circle cx="221.00" cy="193.09" r="1.45" fill="#fff" stroke="#555" stroke-width="0.6"/>
<circle cx="235.30" cy="155.10" r="1.6" fill="#111"/>
<circle cx="232.30" cy="162.82" r="1.6" fill="#111"/>
<circle cx="235.50" cy="161.54" r="1.6" fill="#111"/>
<circle cx="238.50" cy="161.54" r="1.6" fill="#111"/>
<circle cx="235.30" cy="167.33" r="1.6" fill="#111"/>
<circle cx="233.00" cy="170.55" r="1.6" fill="#111"/>
<circle cx="238.00" cy="171.84" r="1.6" fill="#111"/>
<circle cx="235.30" cy="180.21" r="1.6" fill="#111"/>
<circle cx="259.50" cy="170.55" r="1.45" fill="#fff" stroke="#2aa52a" stroke-width="0.6"/>
<circle cx="257.00" cy="175.70" r="1.45" fill="#fff" stroke="#2aa52a" stroke-width="0.6"/>
<circle cx="260.00" cy="174.42" r="1.45" fill="#fff" stroke="#2aa52a" stroke-width="0.6"/>
<circle cx="262.50" cy="175.70" r="1.45" fill="#fff" stroke="#2aa52a" stroke-width="0.6"/>
<circle cx="258.00" cy="177.64" r="1.45" fill="#fff" stroke="#2aa52a" stroke-width="0.6"/>
<circle cx="261.00" cy="178.28" r="1.45" fill="#fff" stroke="#2aa52a" stroke-width="0.6"/>
<circle cx="263.50" cy="176.99" r="1.45" fill="#fff" stroke="#2aa52a" stroke-width="0.6"/>
<circle cx="259.50" cy="182.79" r="1.45" fill="#fff" stroke="#2aa52a" stroke-width="0.6"/>
<circle cx="274.20" cy="153.81" r="1.6" fill="#13a013"/>
<circle cx="274.20" cy="159.60" r="1.6" fill="#13a013"/>
<circle cx="274.20" cy="164.76" r="1.6" fill="#13a013"/>
<circle cx="272.50" cy="169.91" r="1.6" fill="#13a013"/>
<circle cx="274.50" cy="170.55" r="1.6" fill="#13a013"/>
<circle cx="276.50" cy="169.91" r="1.6" fill="#13a013"/>
<circle cx="274.20" cy="180.21" r="1.6" fill="#13a013"/>
<circle cx="272.00" cy="171.84" r="1.6" fill="#13a013"/>
<circle cx="296.50" cy="169.26" r="1.45" fill="#fff" stroke="#f4301a" stroke-width="0.6"/>
<circle cx="299.50" cy="169.26" r="1.45" fill="#fff" stroke="#f4301a" stroke-width="0.6"/>
<circle cx="295.50" cy="171.84" r="1.45" fill="#fff" stroke="#f4301a" stroke-width="0.6"/>
<circle cx="300.50" cy="171.84" r="1.45" fill="#fff" stroke="#f4301a" stroke-width="0.6"/>
<circle cx="297.50" cy="173.77" r="1.45" fill="#fff" stroke="#f4301a" stroke-width="0.6"/>
<circle cx="299.50" cy="175.06" r="1.45" fill="#fff" stroke="#f4301a" stroke-width="0.6"/>
<circle cx="297.50" cy="180.86" r="1.45" fill="#fff" stroke="#f4301a" stroke-width="0.6"/>
<circle cx="296.00" cy="173.13" r="1.45" fill="#fff" stroke="#f4301a" stroke-width="0.6"/>
<circle cx="311.50" cy="165.40" r="1.6" fill="#f4301a"/>
<circle cx="314.00" cy="164.76" r="1.6" fill="#f4301a"/>
<circle cx="310.50" cy="167.98" r="1.6" fill="#f4301a"/>
<circle cx="310.50" cy="174.42" r="1.6" fill="#f4301a"/>
<circle cx="313.00" cy="175.06" r="1.6" fill="#f4301a"/>
<circle cx="315.50" cy="174.42" r="1.6" fill="#f4301a"/>
<circle cx="312.50" cy="175.70" r="1.6" fill="#f4301a"/>
<circle cx="312.50" cy="188.58" r="1.6" fill="#f4301a"/>
<text x="226.20" y="142.50" font-size="6.4" text-anchor="middle" textLength="15.6" lengthAdjust="spacingAndGlyphs">0.025</text>
<line x1="221.00" y1="144.70" x2="231.40" y2="144.70" stroke="#777" stroke-width="0.7"/>
<text x="264.60" y="142.50" font-size="6.4" text-anchor="middle" textLength="15.6" lengthAdjust="spacingAndGlyphs">0.019</text>
<line x1="259.40" y1="144.70" x2="269.80" y2="144.70" stroke="#777" stroke-width="0.7"/>
<text x="309.30" y="142.50" font-size="6.4" text-anchor="middle" textLength="15.6" lengthAdjust="spacingAndGlyphs">0.919</text>
<line x1="304.10" y1="144.70" x2="314.50" y2="144.70" stroke="#777" stroke-width="0.7"/>
<text x="220.60" y="241.60" font-size="8.0" text-anchor="middle" textLength="4.58" lengthAdjust="spacingAndGlyphs">0</text>
<text x="235.20" y="241.60" font-size="8.0" text-anchor="middle" textLength="4.58" lengthAdjust="spacingAndGlyphs">8</text>
<text x="259.60" y="241.60" font-size="8.0" text-anchor="middle" textLength="4.58" lengthAdjust="spacingAndGlyphs">0</text>
<text x="274.30" y="241.60" font-size="8.0" text-anchor="middle" textLength="4.58" lengthAdjust="spacingAndGlyphs">8</text>
<text x="297.80" y="241.60" font-size="8.0" text-anchor="middle" textLength="4.58" lengthAdjust="spacingAndGlyphs">0</text>
<text x="310.30" y="241.60" font-size="8.0" textLength="31.5" lengthAdjust="spacingAndGlyphs">8 (weeks)</text>
<text x="228.80" y="249.20" font-size="8.2" text-anchor="end" transform="rotate(-45 228.80 249.20)">HFD</text>
<text x="267.80" y="249.20" font-size="8.2" text-anchor="end" transform="rotate(-45 267.80 249.20)">HFD + SAL</text>
<text x="305.90" y="249.00" font-size="8.2" text-anchor="end" transform="rotate(-45 305.90 249.00)">HFD + SANA</text>
<text x="183.30" y="191.00" font-size="8.6" text-anchor="middle" transform="rotate(-90 183.30 191.00)">Fasting glucose (mg dl<tspan dy="-3" font-size="5.5">−1</tspan><tspan dy="3">)</tspan></text>
<text x="347.60" y="137.40" font-size="12" font-weight="bold" fill="#000" stroke="#000" stroke-width="0.5">e</text>
<line x1="381.30" y1="152.60" x2="381.30" y2="229.80" stroke="#8c8c8c" stroke-width="0.8"/>
<line x1="379.10" y1="152.60" x2="381.30" y2="152.60" stroke="#8c8c8c" stroke-width="0.8"/>
<text x="375.50" y="155.48" font-size="8.0" text-anchor="end" textLength="13.75" lengthAdjust="spacingAndGlyphs">600</text>
<line x1="379.10" y1="178.50" x2="381.30" y2="178.50" stroke="#8c8c8c" stroke-width="0.8"/>
<text x="375.50" y="181.38" font-size="8.0" text-anchor="end" textLength="13.75" lengthAdjust="spacingAndGlyphs">400</text>
<line x1="379.10" y1="204.40" x2="381.30" y2="204.40" stroke="#8c8c8c" stroke-width="0.8"/>
<text x="375.50" y="207.28" font-size="8.0" text-anchor="end" textLength="13.75" lengthAdjust="spacingAndGlyphs">200</text>
<line x1="379.10" y1="230.30" x2="381.30" y2="230.30" stroke="#8c8c8c" stroke-width="0.8"/>
<text x="375.50" y="233.18" font-size="8.0" text-anchor="end" textLength="4.58" lengthAdjust="spacingAndGlyphs">0</text>
<line x1="381.30" y1="229.80" x2="496.90" y2="229.80" stroke="#8c8c8c" stroke-width="0.8"/>
<line x1="392.00" y1="229.80" x2="392.00" y2="232.00" stroke="#8c8c8c" stroke-width="0.8"/>
<line x1="415.70" y1="229.80" x2="415.70" y2="232.00" stroke="#8c8c8c" stroke-width="0.8"/>
<line x1="439.00" y1="229.80" x2="439.00" y2="232.00" stroke="#8c8c8c" stroke-width="0.8"/>
<line x1="462.20" y1="229.80" x2="462.20" y2="232.00" stroke="#8c8c8c" stroke-width="0.8"/>
<line x1="485.30" y1="229.80" x2="485.30" y2="232.00" stroke="#8c8c8c" stroke-width="0.8"/>
<text x="394.60" y="236.60" font-size="7.4" text-anchor="end" transform="rotate(-45 394.60 236.60)">0</text>
<text x="418.30" y="236.60" font-size="7.4" text-anchor="end" transform="rotate(-45 418.30 236.60)">20</text>
<text x="441.60" y="236.60" font-size="7.4" text-anchor="end" transform="rotate(-45 441.60 236.60)">30</text>
<text x="464.80" y="236.60" font-size="7.4" text-anchor="end" transform="rotate(-45 464.80 236.60)">60</text>
<text x="487.90" y="236.60" font-size="7.4" text-anchor="end" transform="rotate(-45 487.90 236.60)">120</text>
<text x="439.20" y="259.30" font-size="8.6" text-anchor="middle">Time (min)</text>
<text x="354.20" y="191.00" font-size="8.6" text-anchor="middle" transform="rotate(-90 354.20 191.00)">Glucose (mg dl<tspan dy="-3" font-size="5.5">−1</tspan><tspan dy="3">)</tspan></text>
<line x1="415.70" y1="182.39" x2="415.70" y2="190.16" stroke="#f4301a" stroke-width="0.6"/>
<line x1="414.30" y1="182.39" x2="417.10" y2="182.39" stroke="#f4301a" stroke-width="0.6"/>
<line x1="414.30" y1="190.16" x2="417.10" y2="190.16" stroke="#f4301a" stroke-width="0.6"/>
<line x1="439.00" y1="181.09" x2="439.00" y2="187.57" stroke="#f4301a" stroke-width="0.6"/>
<line x1="437.60" y1="181.09" x2="440.40" y2="181.09" stroke="#f4301a" stroke-width="0.6"/>
<line x1="437.60" y1="187.57" x2="440.40" y2="187.57" stroke="#f4301a" stroke-width="0.6"/>
<line x1="462.20" y1="194.69" x2="462.20" y2="198.57" stroke="#f4301a" stroke-width="0.6"/>
<line x1="460.80" y1="194.69" x2="463.60" y2="194.69" stroke="#f4301a" stroke-width="0.6"/>
<line x1="460.80" y1="198.57" x2="463.60" y2="198.57" stroke="#f4301a" stroke-width="0.6"/>
<polyline points="392.00,218.90 415.70,186.27 439.00,184.33 462.20,196.63 485.30,213.21" fill="none" stroke="#f4301a" stroke-width="1.0" stroke-linejoin="round"/>
<circle cx="392.00" cy="218.90" r="1.55" fill="#f4301a"/>
<circle cx="415.70" cy="186.27" r="1.55" fill="#f4301a"/>
<circle cx="439.00" cy="184.33" r="1.55" fill="#f4301a"/>
<circle cx="462.20" cy="196.63" r="1.55" fill="#f4301a"/>
<circle cx="485.30" cy="213.21" r="1.55" fill="#f4301a"/>
<line x1="415.70" y1="174.10" x2="415.70" y2="177.21" stroke="#13a013" stroke-width="0.6"/>
<line x1="414.30" y1="174.10" x2="417.10" y2="174.10" stroke="#13a013" stroke-width="0.6"/>
<line x1="414.30" y1="177.21" x2="417.10" y2="177.21" stroke="#13a013" stroke-width="0.6"/>
<line x1="439.00" y1="174.87" x2="439.00" y2="177.46" stroke="#13a013" stroke-width="0.6"/>
<line x1="437.60" y1="174.87" x2="440.40" y2="174.87" stroke="#13a013" stroke-width="0.6"/>
<line x1="437.60" y1="177.46" x2="440.40" y2="177.46" stroke="#13a013" stroke-width="0.6"/>
<line x1="462.20" y1="189.51" x2="462.20" y2="192.10" stroke="#13a013" stroke-width="0.6"/>
<line x1="460.80" y1="189.51" x2="463.60" y2="189.51" stroke="#13a013" stroke-width="0.6"/>
<line x1="460.80" y1="192.10" x2="463.60" y2="192.10" stroke="#13a013" stroke-width="0.6"/>
<line x1="485.30" y1="207.25" x2="485.30" y2="209.32" stroke="#13a013" stroke-width="0.6"/>
<line x1="483.90" y1="207.25" x2="486.70" y2="207.25" stroke="#13a013" stroke-width="0.6"/>
<line x1="483.90" y1="209.32" x2="486.70" y2="209.32" stroke="#13a013" stroke-width="0.6"/>
<polyline points="392.00,218.26 415.70,175.65 439.00,176.17 462.20,190.80 485.30,208.29" fill="none" stroke="#13a013" stroke-width="1.0" stroke-linejoin="round"/>
<circle cx="392.00" cy="218.26" r="1.55" fill="#13a013"/>
<circle cx="415.70" cy="175.65" r="1.55" fill="#13a013"/>
<circle cx="439.00" cy="176.17" r="1.55" fill="#13a013"/>
<circle cx="462.20" cy="190.80" r="1.55" fill="#13a013"/>
<circle cx="485.30" cy="208.29" r="1.55" fill="#13a013"/>
<line x1="439.00" y1="170.34" x2="439.00" y2="172.41" stroke="#111" stroke-width="0.6"/>
<line x1="437.60" y1="170.34" x2="440.40" y2="170.34" stroke="#111" stroke-width="0.6"/>
<line x1="437.60" y1="172.41" x2="440.40" y2="172.41" stroke="#111" stroke-width="0.6"/>
<line x1="462.20" y1="186.92" x2="462.20" y2="189.51" stroke="#111" stroke-width="0.6"/>
<line x1="460.80" y1="186.92" x2="463.60" y2="186.92" stroke="#111" stroke-width="0.6"/>
<line x1="460.80" y1="189.51" x2="463.60" y2="189.51" stroke="#111" stroke-width="0.6"/>
<line x1="485.30" y1="205.95" x2="485.30" y2="208.03" stroke="#111" stroke-width="0.6"/>
<line x1="483.90" y1="205.95" x2="486.70" y2="205.95" stroke="#111" stroke-width="0.6"/>
<line x1="483.90" y1="208.03" x2="486.70" y2="208.03" stroke="#111" stroke-width="0.6"/>
<polyline points="392.00,218.00 415.70,170.08 439.00,171.38 462.20,188.21 485.30,206.99" fill="none" stroke="#111" stroke-width="1.0" stroke-linejoin="round"/>
<circle cx="392.00" cy="218.00" r="1.55" fill="#111"/>
<circle cx="415.70" cy="170.08" r="1.55" fill="#111"/>
<circle cx="439.00" cy="171.38" r="1.55" fill="#111"/>
<circle cx="462.20" cy="188.21" r="1.55" fill="#111"/>
<circle cx="485.30" cy="206.99" r="1.55" fill="#111"/>
<line x1="451.00" y1="143.10" x2="460.20" y2="143.10" stroke="#111" stroke-width="1.0"/>
<circle cx="455.60" cy="143.10" r="1.55" fill="#111"/>
<text x="465.30" y="145.60" font-size="6.9">HFD</text>
<line x1="451.00" y1="154.20" x2="460.20" y2="154.20" stroke="#13a013" stroke-width="1.0"/>
<circle cx="455.60" cy="154.20" r="1.55" fill="#13a013"/>
<text x="465.30" y="156.70" font-size="6.9">HFD + SAL</text>
<line x1="451.00" y1="165.20" x2="460.20" y2="165.20" stroke="#f4301a" stroke-width="1.0"/>
<circle cx="455.60" cy="165.20" r="1.55" fill="#f4301a"/>
<text x="465.30" y="167.70" font-size="6.9">HFD + SANA</text>
<line x1="568.80" y1="152.80" x2="568.80" y2="229.80" stroke="#8c8c8c" stroke-width="0.8"/>
<line x1="566.60" y1="152.80" x2="568.80" y2="152.80" stroke="#8c8c8c" stroke-width="0.8"/>
<text x="563.00" y="155.68" font-size="8.0" text-anchor="end" textLength="25.2" lengthAdjust="spacingAndGlyphs">40,000</text>
<line x1="566.60" y1="172.05" x2="568.80" y2="172.05" stroke="#8c8c8c" stroke-width="0.8"/>
<text x="563.00" y="174.93" font-size="8.0" text-anchor="end" textLength="25.2" lengthAdjust="spacingAndGlyphs">30,000</text>
<line x1="566.60" y1="191.30" x2="568.80" y2="191.30" stroke="#8c8c8c" stroke-width="0.8"/>
<text x="563.00" y="194.18" font-size="8.0" text-anchor="end" textLength="25.2" lengthAdjust="spacingAndGlyphs">20,000</text>
<line x1="566.60" y1="210.55" x2="568.80" y2="210.55" stroke="#8c8c8c" stroke-width="0.8"/>
<text x="563.00" y="213.43" font-size="8.0" text-anchor="end" textLength="25.2" lengthAdjust="spacingAndGlyphs">10,000</text>
<line x1="566.60" y1="229.80" x2="568.80" y2="229.80" stroke="#8c8c8c" stroke-width="0.8"/>
<text x="563.00" y="232.68" font-size="8.0" text-anchor="end" textLength="4.58" lengthAdjust="spacingAndGlyphs">0</text>
<line x1="568.80" y1="229.80" x2="685.00" y2="229.80" stroke="#8c8c8c" stroke-width="0.8"/>
<line x1="588.50" y1="229.80" x2="588.50" y2="232.00" stroke="#8c8c8c" stroke-width="0.8"/>
<line x1="627.00" y1="229.80" x2="627.00" y2="232.00" stroke="#8c8c8c" stroke-width="0.8"/>
<line x1="665.60" y1="229.80" x2="665.60" y2="232.00" stroke="#8c8c8c" stroke-width="0.8"/>
<path d="M576.00,229.8 V182.06 H600.90 V229.8" fill="none" stroke="#555" stroke-width="0.8"/>
<path d="M614.20,229.8 V186.10 H639.80 V229.8" fill="none" stroke="#4cbc4c" stroke-width="0.8"/>
<path d="M652.90,229.8 V195.34 H678.40 V229.8" fill="none" stroke="#f7a090" stroke-width="0.8"/>
<line x1="588.50" y1="179.75" x2="588.50" y2="184.37" stroke="#222" stroke-width="0.7"/>
<line x1="583.50" y1="179.75" x2="593.50" y2="179.75" stroke="#222" stroke-width="0.7"/>
<line x1="583.50" y1="184.37" x2="593.50" y2="184.37" stroke="#222" stroke-width="0.7"/>
<line x1="627.00" y1="184.18" x2="627.00" y2="188.03" stroke="#13a013" stroke-width="0.7"/>
<line x1="622.00" y1="184.18" x2="632.00" y2="184.18" stroke="#13a013" stroke-width="0.7"/>
<line x1="622.00" y1="188.03" x2="632.00" y2="188.03" stroke="#13a013" stroke-width="0.7"/>
<line x1="665.60" y1="192.07" x2="665.60" y2="198.62" stroke="#f4301a" stroke-width="0.7"/>
<line x1="660.60" y1="192.07" x2="670.60" y2="192.07" stroke="#f4301a" stroke-width="0.7"/>
<line x1="660.60" y1="198.62" x2="670.60" y2="198.62" stroke="#f4301a" stroke-width="0.7"/>
<circle cx="582.50" cy="173.40" r="1.6" fill="#111"/>
<circle cx="588.50" cy="174.36" r="1.6" fill="#111"/>
<circle cx="588.50" cy="179.75" r="1.6" fill="#111"/>
<circle cx="582.50" cy="181.68" r="1.6" fill="#111"/>
<circle cx="594.00" cy="182.64" r="1.6" fill="#111"/>
<circle cx="588.50" cy="184.56" r="1.6" fill="#111"/>
<circle cx="594.50" cy="185.14" r="1.6" fill="#111"/>
<circle cx="588.50" cy="190.15" r="1.6" fill="#111"/>
<circle cx="621.00" cy="178.98" r="1.6" fill="#13a013"/>
<circle cx="627.00" cy="180.33" r="1.6" fill="#13a013"/>
<circle cx="633.00" cy="178.21" r="1.6" fill="#13a013"/>
<circle cx="621.00" cy="184.18" r="1.6" fill="#13a013"/>
<circle cx="627.00" cy="183.02" r="1.6" fill="#13a013"/>
<circle cx="633.00" cy="184.56" r="1.6" fill="#13a013"/>
<circle cx="627.00" cy="185.91" r="1.6" fill="#13a013"/>
<circle cx="627.00" cy="194.77" r="1.6" fill="#13a013"/>
<circle cx="665.60" cy="179.75" r="1.6" fill="#f4301a"/>
<circle cx="660.00" cy="189.38" r="1.6" fill="#f4301a"/>
<circle cx="671.00" cy="188.41" r="1.6" fill="#f4301a"/>
<circle cx="659.00" cy="194.57" r="1.6" fill="#f4301a"/>
<circle cx="665.60" cy="195.54" r="1.6" fill="#f4301a"/>
<circle cx="672.00" cy="195.15" r="1.6" fill="#f4301a"/>
<circle cx="660.00" cy="205.55" r="1.6" fill="#f4301a"/>
<circle cx="671.00" cy="206.12" r="1.6" fill="#f4301a"/>
<line x1="588.60" y1="154.20" x2="665.80" y2="154.20" stroke="#777" stroke-width="0.7"/>
<line x1="588.60" y1="164.10" x2="625.30" y2="164.10" stroke="#777" stroke-width="0.7"/>
<line x1="628.50" y1="164.10" x2="665.80" y2="164.10" stroke="#777" stroke-width="0.7"/>
<text x="627.00" y="152.00" font-size="6.4" text-anchor="middle" textLength="17" lengthAdjust="spacingAndGlyphs">0.002</text>
<text x="607.20" y="162.50" font-size="6.4" text-anchor="middle" textLength="12.4" lengthAdjust="spacingAndGlyphs">0.49</text>
<text x="647.20" y="162.50" font-size="6.4" text-anchor="middle" textLength="13.6" lengthAdjust="spacingAndGlyphs">0.03</text>
<text x="591.60" y="238.20" font-size="8.2" text-anchor="end" transform="rotate(-45 591.60 238.20)">HFD</text>
<text x="630.80" y="238.20" font-size="8.2" text-anchor="end" transform="rotate(-45 630.80 238.20)">HFD + SAL</text>
<text x="668.40" y="238.20" font-size="8.2" text-anchor="end" transform="rotate(-45 668.40 238.20)">HFD + SANA</text>
<text x="521.60" y="191.00" font-size="8.6" text-anchor="middle" transform="rotate(-90 521.60 191.00)">AOC</text>
<text x="530.60" y="193.00" font-size="8.6" text-anchor="middle" transform="rotate(-90 530.60 193.00)">(AUC-basal gluc.)</text>
<text x="0.00" y="311.90" font-size="12" font-weight="bold" fill="#000" stroke="#000" stroke-width="0.5">f</text>
<g transform="translate(15.1,370.8) scale(0.98,0.98)">
<path d="M22,17.4 C30,17.6 37,17.2 40.5,18.2 C43,19 44,20.8 43.8,22.8" fill="none" stroke="#e39e9a" stroke-width="1.1" stroke-linecap="round"/>
<path d="M6.8,18.3 L16.5,18.3" stroke="#e6aaa6" stroke-width="1.1" stroke-linecap="round"/>
<ellipse cx="15.2" cy="10.2" rx="9" ry="8.1" fill="#e9e7e5"/>
<ellipse cx="17" cy="15.2" rx="7" ry="3.2" fill="#e2ddd9"/>
<ellipse cx="6.6" cy="6.8" rx="6.4" ry="5.3" fill="#eeecea" transform="rotate(-12 6.6 6.8)"/>
<ellipse cx="8.6" cy="2.5" rx="2.9" ry="2.4" fill="#ecebea"/>
<ellipse cx="9.0" cy="2.7" rx="2.0" ry="1.7" fill="#e3acac"/>
<circle cx="4.2" cy="5.4" r="0.65" fill="#d04848"/>
<circle cx="0.4" cy="7.9" r="0.6" fill="#e8a8a8"/>
<ellipse cx="3.3" cy="11.0" rx="1.7" ry="1.1" fill="#e9a4a4"/>
</g>
<g transform="translate(241.6,369.4) scale(1.12,1.12)">
<path d="M22,17.4 C30,17.6 37,17.2 40.5,18.2 C43,19 44,20.8 43.8,22.8" fill="none" stroke="#e39e9a" stroke-width="1.1" stroke-linecap="round"/>
<path d="M6.8,18.3 L16.5,18.3" stroke="#e6aaa6" stroke-width="1.1" stroke-linecap="round"/>
<ellipse cx="15.2" cy="10.2" rx="9" ry="8.1" fill="#e9e7e5"/>
<ellipse cx="17" cy="15.2" rx="7" ry="3.2" fill="#e2ddd9"/>
<ellipse cx="6.6" cy="6.8" rx="6.4" ry="5.3" fill="#eeecea" transform="rotate(-12 6.6 6.8)"/>
<ellipse cx="8.6" cy="2.5" rx="2.9" ry="2.4" fill="#ecebea"/>
<ellipse cx="9.0" cy="2.7" rx="2.0" ry="1.7" fill="#e3acac"/>
<circle cx="4.2" cy="5.4" r="0.65" fill="#d04848"/>
<circle cx="0.4" cy="7.9" r="0.6" fill="#e8a8a8"/>
<ellipse cx="3.3" cy="11.0" rx="1.7" ry="1.1" fill="#e9a4a4"/>
</g>
<line x1="3.20" y1="364.90" x2="232.60" y2="364.90" stroke="#8a8a8a" stroke-width="0.9"/>
<line x1="31.50" y1="358.70" x2="31.50" y2="364.90" stroke="#8a8a8a" stroke-width="0.9"/>
<line x1="75.00" y1="364.90" x2="75.00" y2="370.80" stroke="#8a8a8a" stroke-width="0.9"/>
<line x1="118.60" y1="364.90" x2="118.60" y2="370.80" stroke="#8a8a8a" stroke-width="0.9"/>
<line x1="157.40" y1="364.90" x2="157.40" y2="370.80" stroke="#8a8a8a" stroke-width="0.9"/>
<line x1="213.20" y1="364.90" x2="213.20" y2="370.80" stroke="#8a8a8a" stroke-width="0.9"/>
<line x1="71.80" y1="319.70" x2="217.70" y2="319.70" stroke="#8a8a8a" stroke-width="0.9"/>
<line x1="72.20" y1="333.20" x2="117.80" y2="333.20" stroke="#8a8a8a" stroke-width="0.9"/>
<line x1="125.30" y1="333.20" x2="217.70" y2="333.20" stroke="#8a8a8a" stroke-width="0.9"/>
<line x1="159.00" y1="346.40" x2="219.70" y2="346.40" stroke="#8a8a8a" stroke-width="0.9"/>
<text x="145.00" y="318.00" font-size="8.6" text-anchor="middle">28 °C</text>
<text x="71.60" y="331.20" font-size="8.6" textLength="47.2" lengthAdjust="spacingAndGlyphs">Acclimation</text>
<text x="171.30" y="331.00" font-size="8.6" text-anchor="middle">SANA</text>
<text x="189.00" y="344.60" font-size="8.6" text-anchor="middle">HFD</text>
<text x="31.00" y="356.40" font-size="8.6" text-anchor="middle">22 °C</text>
<text x="75.30" y="356.40" font-size="8.6" text-anchor="middle">0</text>
<text x="118.60" y="360.90" font-size="8.6" text-anchor="middle">Day 7</text>
<text x="157.40" y="360.90" font-size="8.6" text-anchor="middle">Day 9</text>
<text x="213.20" y="360.90" font-size="8.6" text-anchor="middle">Day 12</text>
<text x="75.00" y="380.70" font-size="8.6" text-anchor="middle">ND</text>
<text x="118.60" y="380.70" font-size="8.6" text-anchor="middle">SANA</text>
<text x="213.20" y="380.70" font-size="8.6" text-anchor="middle">VO<tspan dy="2.2" font-size="6">2</tspan></text>
<text x="213.20" y="390.80" font-size="8.6" text-anchor="middle">Thermal images</text>
<text x="213.20" y="400.50" font-size="8.6" text-anchor="middle">cold</text>
<text x="213.20" y="409.90" font-size="8.6" text-anchor="middle">CL316,243</text>
<text x="302.60" y="314.20" font-size="12" font-weight="bold" fill="#000" stroke="#000" stroke-width="0.5">g</text>
<line x1="332.00" y1="320.50" x2="332.00" y2="394.30" stroke="#8c8c8c" stroke-width="0.8"/>
<line x1="329.80" y1="320.50" x2="332.00" y2="320.50" stroke="#8c8c8c" stroke-width="0.8"/>
<text x="326.20" y="323.38" font-size="8.0" text-anchor="end" textLength="9.16" lengthAdjust="spacingAndGlyphs">40</text>
<line x1="329.80" y1="338.95" x2="332.00" y2="338.95" stroke="#8c8c8c" stroke-width="0.8"/>
<text x="326.20" y="341.83" font-size="8.0" text-anchor="end" textLength="9.16" lengthAdjust="spacingAndGlyphs">30</text>
<line x1="329.80" y1="357.40" x2="332.00" y2="357.40" stroke="#8c8c8c" stroke-width="0.8"/>
<text x="326.20" y="360.28" font-size="8.0" text-anchor="end" textLength="9.16" lengthAdjust="spacingAndGlyphs">20</text>
<line x1="329.80" y1="375.85" x2="332.00" y2="375.85" stroke="#8c8c8c" stroke-width="0.8"/>
<text x="326.20" y="378.73" font-size="8.0" text-anchor="end" textLength="9.16" lengthAdjust="spacingAndGlyphs">10</text>
<line x1="329.80" y1="394.30" x2="332.00" y2="394.30" stroke="#8c8c8c" stroke-width="0.8"/>
<text x="326.20" y="397.18" font-size="8.0" text-anchor="end" textLength="4.58" lengthAdjust="spacingAndGlyphs">0</text>
<line x1="330.00" y1="394.30" x2="381.90" y2="394.30" stroke="#8c8c8c" stroke-width="0.8"/>
<line x1="357.60" y1="394.30" x2="357.60" y2="396.50" stroke="#8c8c8c" stroke-width="0.8"/>
<rect x="340.50" y="332.31" width="13.30" height="61.99" fill="none" stroke="#333" stroke-width="0.8"/>
<rect x="361.40" y="332.31" width="13.30" height="61.99" fill="none" stroke="#f46a58" stroke-width="0.8"/>
<line x1="347.10" y1="331.11" x2="347.10" y2="333.51" stroke="#222" stroke-width="0.7"/>
<line x1="343.60" y1="331.11" x2="350.60" y2="331.11" stroke="#222" stroke-width="0.7"/>
<line x1="343.60" y1="333.51" x2="350.60" y2="333.51" stroke="#222" stroke-width="0.7"/>
<line x1="368.00" y1="331.31" x2="368.00" y2="333.31" stroke="#f4301a" stroke-width="0.7"/>
<line x1="364.50" y1="331.31" x2="371.50" y2="331.31" stroke="#f4301a" stroke-width="0.7"/>
<line x1="364.50" y1="333.31" x2="371.50" y2="333.31" stroke="#f4301a" stroke-width="0.7"/>
<circle cx="345.50" cy="327.33" r="1.4" fill="#111"/>
<circle cx="349.00" cy="325.11" r="1.4" fill="#111"/>
<circle cx="343.00" cy="329.17" r="1.4" fill="#111"/>
<circle cx="347.00" cy="329.73" r="1.4" fill="#111"/>
<circle cx="351.00" cy="328.80" r="1.4" fill="#111"/>
<circle cx="353.50" cy="328.62" r="1.4" fill="#111"/>
<circle cx="346.00" cy="331.20" r="1.4" fill="#111"/>
<circle cx="349.00" cy="333.42" r="1.4" fill="#111"/>
<circle cx="347.50" cy="337.11" r="1.4" fill="#111"/>
<circle cx="346.50" cy="340.43" r="1.4" fill="#111"/>
<circle cx="363.50" cy="329.17" r="1.4" fill="#f4301a"/>
<circle cx="367.00" cy="327.88" r="1.4" fill="#f4301a"/>
<circle cx="371.50" cy="326.77" r="1.4" fill="#f4301a"/>
<circle cx="365.00" cy="330.28" r="1.4" fill="#f4301a"/>
<circle cx="369.00" cy="331.57" r="1.4" fill="#f4301a"/>
<circle cx="372.00" cy="329.91" r="1.4" fill="#f4301a"/>
<circle cx="364.00" cy="332.49" r="1.4" fill="#f4301a"/>
<circle cx="368.50" cy="333.42" r="1.4" fill="#f4301a"/>
<circle cx="371.50" cy="335.26" r="1.4" fill="#f4301a"/>
<circle cx="368.00" cy="337.11" r="1.4" fill="#f4301a"/>
<line x1="347.20" y1="316.10" x2="368.00" y2="316.10" stroke="#777" stroke-width="0.7"/>
<text x="357.60" y="314.60" font-size="6.4" text-anchor="middle" textLength="12.3" lengthAdjust="spacingAndGlyphs">0.92</text>
<circle cx="381.60" cy="334.60" r="1.1" fill="#111"/>
<text x="387.80" y="337.10" font-size="6.9">HFD</text>
<circle cx="381.60" cy="343.60" r="1.1" fill="#f4301a"/>
<text x="387.80" y="346.10" font-size="6.9">HFD + SANA</text>
<text x="309.60" y="358.00" font-size="8.6" text-anchor="middle" transform="rotate(-90 309.60 358.00)">Weight (g)</text>
<text x="453.00" y="294.00" font-size="12" font-weight="bold" fill="#000" stroke="#000" stroke-width="0.5">h</text>
<text x="545.80" y="296.00" font-size="8.4" text-anchor="middle" textLength="68.6" lengthAdjust="spacingAndGlyphs">Thermoneutrality</text>
<g clip-path="url(#cph)"><rect x="460.0" y="300.4" width="172.0" height="113.8" fill="#1546ac"/><g filter="url(#b06)"><rect x="461.0" y="298.4" width="1.4" height="12.2" fill="#2868d0" opacity="0.70"/><rect x="461.0" y="310.6" width="1.4" height="21.0" fill="#2868d0" opacity="0.39"/><rect x="461.0" y="331.5" width="1.4" height="25.2" fill="#2868d0" opacity="0.37"/><rect x="461.0" y="356.8" width="1.4" height="23.0" fill="#2868d0" opacity="0.40"/><rect x="461.0" y="379.8" width="1.4" height="12.7" fill="#2868d0" opacity="0.63"/><rect x="461.0" y="392.5" width="1.4" height="34.8" fill="#2868d0" opacity="0.43"/><rect x="465.6" y="298.4" width="2.2" height="27.3" fill="#2868d0" opacity="0.61"/><rect x="465.6" y="325.7" width="2.2" height="39.3" fill="#2868d0" opacity="0.38"/><rect x="465.6" y="365.0" width="2.2" height="35.8" fill="#2868d0" opacity="0.54"/><rect x="465.6" y="400.8" width="2.2" height="14.3" fill="#2868d0" opacity="0.43"/><rect x="470.6" y="298.4" width="2.5" height="13.1" fill="#2060c8" opacity="0.72"/><rect x="470.6" y="311.5" width="2.5" height="15.6" fill="#2060c8" opacity="0.41"/><rect x="470.6" y="327.1" width="2.5" height="31.4" fill="#2060c8" opacity="0.72"/><rect x="470.6" y="358.5" width="2.5" height="28.6" fill="#2060c8" opacity="0.67"/><rect x="470.6" y="387.1" width="2.5" height="26.0" fill="#2060c8" opacity="0.86"/><rect x="470.6" y="413.0" width="2.5" height="24.0" fill="#2060c8" opacity="0.95"/><rect x="475.7" y="298.4" width="1.6" height="31.0" fill="#2060c8" opacity="0.51"/><rect x="475.7" y="329.4" width="1.6" height="27.2" fill="#2060c8" opacity="0.69"/><rect x="475.7" y="356.6" width="1.6" height="36.3" fill="#2060c8" opacity="0.82"/><rect x="475.7" y="392.9" width="1.6" height="18.6" fill="#2060c8" opacity="0.99"/><rect x="475.7" y="411.5" width="1.6" height="13.5" fill="#2060c8" opacity="0.62"/><rect x="481.9" y="298.4" width="1.4" height="22.7" fill="#0a2a86" opacity="0.98"/><rect x="481.9" y="321.1" width="1.4" height="12.3" fill="#0a2a86" opacity="0.71"/><rect x="481.9" y="333.4" width="1.4" height="33.7" fill="#0a2a86" opacity="0.88"/><rect x="481.9" y="367.1" width="1.4" height="20.2" fill="#0a2a86" opacity="0.58"/><rect x="481.9" y="387.3" width="1.4" height="24.9" fill="#0a2a86" opacity="0.87"/><rect x="481.9" y="412.2" width="1.4" height="12.1" fill="#0a2a86" opacity="0.41"/><rect x="486.7" y="298.4" width="2.3" height="11.8" fill="#2868d0" opacity="0.81"/><rect x="486.7" y="310.2" width="2.3" height="29.4" fill="#2868d0" opacity="1.00"/><rect x="486.7" y="339.6" width="2.3" height="34.7" fill="#2868d0" opacity="0.53"/><rect x="486.7" y="374.3" width="2.3" height="21.6" fill="#2868d0" opacity="0.78"/><rect x="486.7" y="395.9" width="2.3" height="10.7" fill="#2868d0" opacity="0.65"/><rect x="486.7" y="406.5" width="2.3" height="15.0" fill="#2868d0" opacity="0.43"/><rect x="490.9" y="298.4" width="2.4" height="32.2" fill="#2060c8" opacity="0.61"/><rect x="490.9" y="330.6" width="2.4" height="37.5" fill="#2060c8" opacity="0.67"/><rect x="490.9" y="368.1" width="2.4" height="15.0" fill="#2060c8" opacity="0.61"/><rect x="490.9" y="383.0" width="2.4" height="18.3" fill="#2060c8" opacity="0.44"/><rect x="490.9" y="401.4" width="2.4" height="22.9" fill="#2060c8" opacity="0.71"/><rect x="497.0" y="298.4" width="2.8" height="38.7" fill="#0a2a86" opacity="0.45"/><rect x="497.0" y="337.1" width="2.8" height="15.3" fill="#0a2a86" opacity="0.50"/><rect x="497.0" y="352.4" width="2.8" height="17.0" fill="#0a2a86" opacity="0.67"/><rect x="497.0" y="369.4" width="2.8" height="27.7" fill="#0a2a86" opacity="0.52"/><rect x="497.0" y="397.1" width="2.8" height="10.1" fill="#0a2a86" opacity="0.62"/><rect x="497.0" y="407.2" width="2.8" height="21.1" fill="#0a2a86" opacity="0.72"/><rect x="503.9" y="298.4" width="2.3" height="38.5" fill="#2a70d8" opacity="0.78"/><rect x="503.9" y="336.9" width="2.3" height="32.2" fill="#2a70d8" opacity="0.65"/><rect x="503.9" y="369.1" width="2.3" height="36.1" fill="#2a70d8" opacity="0.97"/><rect x="503.9" y="405.2" width="2.3" height="30.4" fill="#2a70d8" opacity="0.71"/><rect x="509.1" y="298.4" width="1.8" height="29.0" fill="#0a2a86" opacity="0.39"/><rect x="509.1" y="327.4" width="1.8" height="12.0" fill="#0a2a86" opacity="0.49"/><rect x="509.1" y="339.4" width="1.8" height="14.9" fill="#0a2a86" opacity="0.57"/><rect x="509.1" y="354.3" width="1.8" height="11.6" fill="#0a2a86" opacity="0.35"/><rect x="509.1" y="365.9" width="1.8" height="14.5" fill="#0a2a86" opacity="0.42"/><rect x="509.1" y="380.4" width="1.8" height="20.9" fill="#0a2a86" opacity="0.37"/><rect x="509.1" y="401.3" width="1.8" height="36.2" fill="#0a2a86" opacity="0.75"/><rect x="513.5" y="298.4" width="1.6" height="28.1" fill="#0c2e90" opacity="0.66"/><rect x="513.5" y="326.5" width="1.6" height="13.5" fill="#0c2e90" opacity="0.67"/><rect x="513.5" y="339.9" width="1.6" height="39.3" fill="#0c2e90" opacity="0.66"/><rect x="513.5" y="379.3" width="1.6" height="19.4" fill="#0c2e90" opacity="0.44"/><rect x="513.5" y="398.6" width="1.6" height="32.5" fill="#0c2e90" opacity="0.83"/><rect x="519.0" y="298.4" width="2.3" height="10.7" fill="#2a70d8" opacity="0.97"/><rect x="519.0" y="309.1" width="2.3" height="25.8" fill="#2a70d8" opacity="0.45"/><rect x="519.0" y="334.9" width="2.3" height="26.3" fill="#2a70d8" opacity="0.37"/><rect x="519.0" y="361.2" width="2.3" height="25.8" fill="#2a70d8" opacity="0.99"/><rect x="519.0" y="387.1" width="2.3" height="35.9" fill="#2a70d8" opacity="0.80"/><rect x="523.7" y="298.4" width="1.8" height="20.7" fill="#2060c8" opacity="0.49"/><rect x="523.7" y="319.1" width="1.8" height="26.2" fill="#2060c8" opacity="0.68"/><rect x="523.7" y="345.3" width="1.8" height="29.1" fill="#2060c8" opacity="0.75"/><rect x="523.7" y="374.4" width="1.8" height="33.7" fill="#2060c8" opacity="0.84"/><rect x="523.7" y="408.1" width="1.8" height="15.9" fill="#2060c8" opacity="0.51"/><rect x="528.9" y="298.4" width="2.5" height="25.5" fill="#2060c8" opacity="0.58"/><rect x="528.9" y="323.9" width="2.5" height="10.9" fill="#2060c8" opacity="0.37"/><rect x="528.9" y="334.8" width="2.5" height="18.4" fill="#2060c8" opacity="0.52"/><rect x="528.9" y="353.2" width="2.5" height="30.8" fill="#2060c8" opacity="0.97"/><rect x="528.9" y="384.0" width="2.5" height="23.4" fill="#2060c8" opacity="0.96"/><rect x="528.9" y="407.4" width="2.5" height="39.6" fill="#2060c8" opacity="0.97"/><rect x="534.0" y="298.4" width="1.6" height="24.1" fill="#2060c8" opacity="0.57"/><rect x="534.0" y="322.5" width="1.6" height="24.5" fill="#2060c8" opacity="0.99"/><rect x="534.0" y="347.0" width="1.6" height="28.3" fill="#2060c8" opacity="0.35"/><rect x="534.0" y="375.3" width="1.6" height="37.3" fill="#2060c8" opacity="0.57"/><rect x="534.0" y="412.6" width="1.6" height="29.3" fill="#2060c8" opacity="0.89"/><rect x="538.4" y="298.4" width="1.8" height="24.3" fill="#2060c8" opacity="0.47"/><rect x="538.4" y="322.7" width="1.8" height="33.7" fill="#2060c8" opacity="0.57"/><rect x="538.4" y="356.4" width="1.8" height="34.0" fill="#2060c8" opacity="0.98"/><rect x="538.4" y="390.4" width="1.8" height="21.9" fill="#2060c8" opacity="0.61"/><rect x="538.4" y="412.3" width="1.8" height="38.4" fill="#2060c8" opacity="0.82"/><rect x="542.9" y="298.4" width="1.4" height="27.7" fill="#2060c8" opacity="0.65"/><rect x="542.9" y="326.1" width="1.4" height="29.7" fill="#2060c8" opacity="0.75"/><rect x="542.9" y="355.8" width="1.4" height="27.9" fill="#2060c8" opacity="0.66"/><rect x="542.9" y="383.7" width="1.4" height="38.1" fill="#2060c8" opacity="0.45"/><rect x="548.6" y="298.4" width="1.2" height="25.8" fill="#2868d0" opacity="0.96"/><rect x="548.6" y="324.2" width="1.2" height="23.0" fill="#2868d0" opacity="0.92"/><rect x="548.6" y="347.2" width="1.2" height="34.8" fill="#2868d0" opacity="0.49"/><rect x="548.6" y="382.0" width="1.2" height="17.6" fill="#2868d0" opacity="0.54"/><rect x="548.6" y="399.6" width="1.2" height="17.2" fill="#2868d0" opacity="0.73"/><rect x="553.3" y="298.4" width="1.9" height="11.8" fill="#2060c8" opacity="0.83"/><rect x="553.3" y="310.2" width="1.9" height="36.9" fill="#2060c8" opacity="0.78"/><rect x="553.3" y="347.2" width="1.9" height="34.5" fill="#2060c8" opacity="0.69"/><rect x="553.3" y="381.6" width="1.9" height="34.8" fill="#2060c8" opacity="0.92"/><rect x="557.7" y="298.4" width="1.4" height="10.6" fill="#2a70d8" opacity="0.64"/><rect x="557.7" y="309.0" width="1.4" height="15.5" fill="#2a70d8" opacity="0.35"/><rect x="557.7" y="324.5" width="1.4" height="34.0" fill="#2a70d8" opacity="0.46"/><rect x="557.7" y="358.4" width="1.4" height="24.2" fill="#2a70d8" opacity="0.82"/><rect x="557.7" y="382.6" width="1.4" height="26.7" fill="#2a70d8" opacity="0.56"/><rect x="557.7" y="409.3" width="1.4" height="25.6" fill="#2a70d8" opacity="0.71"/><rect x="564.1" y="298.4" width="1.4" height="11.7" fill="#2a70d8" opacity="0.47"/><rect x="564.1" y="310.1" width="1.4" height="11.3" fill="#2a70d8" opacity="0.41"/><rect x="564.1" y="321.4" width="1.4" height="23.6" fill="#2a70d8" opacity="0.37"/><rect x="564.1" y="344.9" width="1.4" height="36.8" fill="#2a70d8" opacity="0.39"/><rect x="564.1" y="381.8" width="1.4" height="19.8" fill="#2a70d8" opacity="0.98"/><rect x="564.1" y="401.5" width="1.4" height="28.2" fill="#2a70d8" opacity="0.48"/><rect x="568.9" y="298.4" width="2.0" height="25.2" fill="#0a2a86" opacity="0.51"/><rect x="568.9" y="323.6" width="2.0" height="25.7" fill="#0a2a86" opacity="0.92"/><rect x="568.9" y="349.3" width="2.0" height="37.8" fill="#0a2a86" opacity="0.95"/><rect x="568.9" y="387.2" width="2.0" height="36.8" fill="#0a2a86" opacity="0.48"/><rect x="574.3" y="298.4" width="1.9" height="23.3" fill="#0a2a86" opacity="0.40"/><rect x="574.3" y="321.7" width="1.9" height="17.2" fill="#0a2a86" opacity="0.40"/><rect x="574.3" y="338.9" width="1.9" height="30.1" fill="#0a2a86" opacity="0.86"/><rect x="574.3" y="369.0" width="1.9" height="36.9" fill="#0a2a86" opacity="0.45"/><rect x="574.3" y="405.9" width="1.9" height="31.5" fill="#0a2a86" opacity="0.78"/><rect x="578.7" y="298.4" width="2.6" height="16.6" fill="#0a2a86" opacity="0.97"/><rect x="578.7" y="315.0" width="2.6" height="21.9" fill="#0a2a86" opacity="0.67"/><rect x="578.7" y="336.9" width="2.6" height="39.7" fill="#0a2a86" opacity="0.89"/><rect x="578.7" y="376.6" width="2.6" height="14.8" fill="#0a2a86" opacity="0.63"/><rect x="578.7" y="391.5" width="2.6" height="25.5" fill="#0a2a86" opacity="0.57"/><rect x="583.3" y="298.4" width="1.7" height="10.6" fill="#0c2e90" opacity="0.71"/><rect x="583.3" y="309.0" width="1.7" height="23.2" fill="#0c2e90" opacity="0.36"/><rect x="583.3" y="332.2" width="1.7" height="19.9" fill="#0c2e90" opacity="0.76"/><rect x="583.3" y="352.1" width="1.7" height="25.4" fill="#0c2e90" opacity="0.39"/><rect x="583.3" y="377.5" width="1.7" height="39.6" fill="#0c2e90" opacity="0.86"/><rect x="590.2" y="298.4" width="1.4" height="18.2" fill="#0c2e90" opacity="0.94"/><rect x="590.2" y="316.6" width="1.4" height="15.4" fill="#0c2e90" opacity="0.84"/><rect x="590.2" y="332.0" width="1.4" height="34.6" fill="#0c2e90" opacity="0.90"/><rect x="590.2" y="366.6" width="1.4" height="30.3" fill="#0c2e90" opacity="0.96"/><rect x="590.2" y="396.9" width="1.4" height="22.2" fill="#0c2e90" opacity="0.70"/><rect x="595.7" y="298.4" width="2.0" height="12.7" fill="#0c2e90" opacity="0.39"/><rect x="595.7" y="311.1" width="2.0" height="30.6" fill="#0c2e90" opacity="0.63"/><rect x="595.7" y="341.7" width="2.0" height="12.2" fill="#0c2e90" opacity="0.96"/><rect x="595.7" y="353.9" width="2.0" height="29.0" fill="#0c2e90" opacity="0.87"/><rect x="595.7" y="382.9" width="2.0" height="12.5" fill="#0c2e90" opacity="0.91"/><rect x="595.7" y="395.4" width="2.0" height="12.0" fill="#0c2e90" opacity="0.91"/><rect x="595.7" y="407.4" width="2.0" height="23.6" fill="#0c2e90" opacity="0.57"/><rect x="601.4" y="298.4" width="2.7" height="28.7" fill="#0c2e90" opacity="0.38"/><rect x="601.4" y="327.1" width="2.7" height="31.3" fill="#0c2e90" opacity="0.96"/><rect x="601.4" y="358.3" width="2.7" height="39.1" fill="#0c2e90" opacity="0.52"/><rect x="601.4" y="397.4" width="2.7" height="15.4" fill="#0c2e90" opacity="0.96"/><rect x="601.4" y="412.8" width="2.7" height="28.9" fill="#0c2e90" opacity="0.70"/><rect x="606.0" y="298.4" width="1.9" height="18.1" fill="#2060c8" opacity="0.87"/><rect x="606.0" y="316.5" width="1.9" height="39.8" fill="#2060c8" opacity="0.37"/><rect x="606.0" y="356.4" width="1.9" height="10.6" fill="#2060c8" opacity="0.68"/><rect x="606.0" y="366.9" width="1.9" height="39.3" fill="#2060c8" opacity="0.68"/><rect x="606.0" y="406.2" width="1.9" height="17.4" fill="#2060c8" opacity="0.64"/><rect x="612.0" y="298.4" width="2.2" height="26.4" fill="#0a2a86" opacity="0.93"/><rect x="612.0" y="324.8" width="2.2" height="39.1" fill="#0a2a86" opacity="0.55"/><rect x="612.0" y="363.9" width="2.2" height="16.5" fill="#0a2a86" opacity="0.50"/><rect x="612.0" y="380.3" width="2.2" height="16.0" fill="#0a2a86" opacity="0.92"/><rect x="612.0" y="396.3" width="2.2" height="31.9" fill="#0a2a86" opacity="0.44"/><rect x="619.0" y="298.4" width="2.8" height="10.4" fill="#2060c8" opacity="0.76"/><rect x="619.0" y="308.8" width="2.8" height="36.4" fill="#2060c8" opacity="0.63"/><rect x="619.0" y="345.2" width="2.8" height="11.7" fill="#2060c8" opacity="0.78"/><rect x="619.0" y="356.9" width="2.8" height="21.4" fill="#2060c8" opacity="0.68"/><rect x="619.0" y="378.3" width="2.8" height="39.1" fill="#2060c8" opacity="0.74"/><rect x="625.0" y="298.4" width="1.3" height="14.7" fill="#2060c8" opacity="0.64"/><rect x="625.0" y="313.1" width="1.3" height="17.9" fill="#2060c8" opacity="0.98"/><rect x="625.0" y="331.0" width="1.3" height="39.2" fill="#2060c8" opacity="0.71"/><rect x="625.0" y="370.2" width="1.3" height="17.3" fill="#2060c8" opacity="0.98"/><rect x="625.0" y="387.5" width="1.3" height="19.3" fill="#2060c8" opacity="0.58"/><rect x="625.0" y="406.8" width="1.3" height="10.0" fill="#2060c8" opacity="0.60"/><rect x="630.5" y="298.4" width="2.0" height="17.4" fill="#2060c8" opacity="0.85"/><rect x="630.5" y="315.8" width="2.0" height="12.7" fill="#2060c8" opacity="0.88"/><rect x="630.5" y="328.6" width="2.0" height="14.3" fill="#2060c8" opacity="0.73"/><rect x="630.5" y="342.9" width="2.0" height="21.8" fill="#2060c8" opacity="0.54"/><rect x="630.5" y="364.7" width="2.0" height="28.9" fill="#2060c8" opacity="0.40"/><rect x="630.5" y="393.6" width="2.0" height="38.7" fill="#2060c8" opacity="0.90"/><rect x="460.0" y="312.4" width="172.0" height="3" fill="#2a6cd0" opacity="0.2"/><rect x="460.0" y="340.4" width="172.0" height="2.5" fill="#2a6cd0" opacity="0.2"/><rect x="460.0" y="398.4" width="172.0" height="10" fill="#0c2a8a" opacity="0.2"/></g><ellipse cx="630" cy="301" rx="8" ry="3.5" fill="#f0c020" filter="url(#b1)"/><path d="M511.2,298 L502,332" stroke="#c8e000" stroke-width="2.6" filter="url(#b06)"/><path d="M600,298 L593.5,329" stroke="#c8e000" stroke-width="2.6" filter="url(#b06)"/><path d="M501.12,327.56 C505.24,327.92 509.99,329.12 512.78,331.17 C515.57,333.22 516.90,336.47 517.87,339.86 C518.84,343.25 518.86,347.63 518.61,351.52 C518.36,355.41 517.36,359.79 516.38,363.18 C515.41,366.57 513.86,368.52 512.78,371.87 C511.70,375.23 511.12,379.70 509.92,383.32 C508.72,386.94 507.75,391.52 505.57,393.60 C503.40,395.69 499.57,396.31 496.88,395.83 C494.19,395.35 491.16,393.28 489.46,390.74 C487.76,388.20 487.76,383.71 486.70,380.56 C485.64,377.42 484.07,375.02 483.10,371.87 C482.13,368.73 481.49,365.79 480.87,361.70 C480.26,357.60 479.27,351.63 479.39,347.28 C479.51,342.93 480.17,338.66 481.62,335.62 C483.06,332.58 484.83,330.39 488.08,329.05 C491.33,327.71 497.00,327.21 501.12,327.56 Z" fill="#20a0c0" filter="url(#b15)" opacity="0.75"/><path d="M501.00,329.40 C504.88,329.73 509.37,330.87 512.00,332.80 C514.63,334.73 515.88,337.80 516.80,341.00 C517.72,344.20 517.73,348.33 517.50,352.00 C517.27,355.67 516.32,359.80 515.40,363.00 C514.48,366.20 513.02,368.03 512.00,371.20 C510.98,374.37 510.43,378.58 509.30,382.00 C508.17,385.42 507.25,389.73 505.20,391.70 C503.15,393.67 499.53,394.25 497.00,393.80 C494.47,393.35 491.60,391.40 490.00,389.00 C488.40,386.60 488.40,382.37 487.40,379.40 C486.40,376.43 484.92,374.17 484.00,371.20 C483.08,368.23 482.48,365.47 481.90,361.60 C481.32,357.73 480.38,352.10 480.50,348.00 C480.62,343.90 481.23,339.87 482.60,337.00 C483.97,334.13 485.63,332.07 488.70,330.80 C491.77,329.53 497.12,329.07 501.00,329.40 Z" fill="#a8dc00" filter="url(#b1)"/><path d="M500.76,333.07 C504.18,333.37 508.12,334.36 510.44,336.06 C512.76,337.77 513.86,340.46 514.66,343.28 C515.47,346.10 515.49,349.73 515.28,352.96 C515.07,356.19 514.24,359.82 513.43,362.64 C512.63,365.46 511.33,367.07 510.44,369.86 C509.55,372.64 509.06,376.35 508.06,379.36 C507.07,382.37 506.26,386.17 504.46,387.90 C502.65,389.63 499.47,390.14 497.24,389.74 C495.01,389.35 492.49,387.63 491.08,385.52 C489.67,383.41 489.67,379.68 488.79,377.07 C487.91,374.46 486.61,372.47 485.80,369.86 C484.99,367.25 484.47,364.81 483.95,361.41 C483.44,358.01 482.62,353.05 482.72,349.44 C482.82,345.83 483.37,342.28 484.57,339.76 C485.77,337.24 487.24,335.42 489.94,334.30 C492.63,333.19 497.34,332.78 500.76,333.07 Z" fill="#ffd800" filter="url(#b15)"/><path d="M593.12,324.08 C596.99,324.17 600.54,326.13 603.19,328.32 C605.84,330.51 607.80,333.34 609.02,337.22 C610.24,341.11 610.63,347.05 610.50,351.64 C610.38,356.23 609.50,360.42 608.28,364.78 C607.06,369.15 604.52,373.71 603.19,377.82 C601.87,381.94 602.01,386.81 600.33,389.48 C598.65,392.15 595.56,393.60 593.12,393.83 C590.68,394.06 587.89,393.53 585.70,390.86 C583.51,388.19 581.92,382.17 579.98,377.82 C578.03,373.48 575.49,369.15 574.04,364.78 C572.59,360.42 571.50,356.00 571.28,351.64 C571.07,347.28 571.32,342.58 572.77,338.60 C574.22,334.63 576.58,330.21 579.98,327.79 C583.37,325.37 589.25,323.99 593.12,324.08 Z" fill="#20a0c0" filter="url(#b15)" opacity="0.75"/><path d="M593.00,326.00 C596.65,326.08 600.00,327.93 602.50,330.00 C605.00,332.07 606.85,334.73 608.00,338.40 C609.15,342.07 609.52,347.67 609.40,352.00 C609.28,356.33 608.45,360.28 607.30,364.40 C606.15,368.52 603.75,372.82 602.50,376.70 C601.25,380.58 601.38,385.18 599.80,387.70 C598.22,390.22 595.30,391.58 593.00,391.80 C590.70,392.02 588.07,391.52 586.00,389.00 C583.93,386.48 582.43,380.80 580.60,376.70 C578.77,372.60 576.37,368.52 575.00,364.40 C573.63,360.28 572.60,356.12 572.40,352.00 C572.20,347.88 572.43,343.45 573.80,339.70 C575.17,335.95 577.40,331.78 580.60,329.50 C583.80,327.22 589.35,325.92 593.00,326.00 Z" fill="#a8dc00" filter="url(#b1)"/><path d="M592.76,329.84 C595.97,329.91 598.92,331.54 601.12,333.36 C603.32,335.18 604.95,337.53 605.96,340.75 C606.97,343.98 607.29,348.91 607.19,352.72 C607.09,356.53 606.36,360.01 605.34,363.63 C604.33,367.25 602.22,371.04 601.12,374.46 C600.02,377.87 600.14,381.92 598.74,384.14 C597.35,386.35 594.78,387.55 592.76,387.74 C590.74,387.93 588.42,387.49 586.60,385.28 C584.78,383.07 583.46,378.06 581.85,374.46 C580.23,370.85 578.12,367.25 576.92,363.63 C575.72,360.01 574.81,356.34 574.63,352.72 C574.46,349.10 574.66,345.20 575.86,341.90 C577.07,338.60 579.03,334.93 581.85,332.92 C584.66,330.91 589.55,329.77 592.76,329.84 Z" fill="#ffd800" filter="url(#b15)"/><ellipse cx="499" cy="355" rx="10" ry="13" fill="#ffa000" filter="url(#b2)"/><ellipse cx="499" cy="355.4" rx="5" ry="5" fill="#ff2418" filter="url(#b1)"/><ellipse cx="498.3" cy="385" rx="3.5" ry="2.8" fill="#ff9800" filter="url(#b1)"/><ellipse cx="503" cy="374" rx="1.8" ry="3" fill="#90d030" filter="url(#b06)"/><ellipse cx="494" cy="342" rx="4" ry="3" fill="#ffc000" filter="url(#b1)"/><ellipse cx="506" cy="347" rx="3" ry="4" fill="#ffb800" filter="url(#b1)"/><ellipse cx="488" cy="372" rx="3" ry="5" fill="#e8e000" filter="url(#b1)"/><ellipse cx="495" cy="368" rx="3" ry="3" fill="#ffbc00" filter="url(#b1)"/><ellipse cx="592" cy="350" rx="11" ry="16" fill="#ffa000" filter="url(#b2)"/><ellipse cx="600" cy="340" rx="3" ry="4" fill="#ffc000" filter="url(#b1)"/><ellipse cx="583" cy="345" rx="3" ry="5" fill="#ffc800" filter="url(#b1)"/><ellipse cx="592.5" cy="359" rx="7.5" ry="6.5" fill="#ff2818" filter="url(#b15)"/><ellipse cx="591" cy="350" rx="4" ry="4" fill="#ff4a14" filter="url(#b15)"/><ellipse cx="590" cy="346" rx="3" ry="4" fill="#ff6a10" filter="url(#b1)"/><ellipse cx="593" cy="382" rx="4" ry="3.5" fill="#ffa000" filter="url(#b15)"/><ellipse cx="584.7" cy="374.7" rx="2" ry="2.6" fill="#40b040" filter="url(#b06)"/></g>
<text x="499.00" y="410.20" font-size="7.4" text-anchor="middle" fill="#fff">HFD</text>
<text x="595.00" y="410.30" font-size="7.4" text-anchor="middle" textLength="48" lengthAdjust="spacingAndGlyphs" fill="#fff">HFD + SANA</text>
<text x="0.00" y="709.60" font-size="12" font-weight="bold" fill="#000" stroke="#000" stroke-width="0.5">o</text>
<text x="109.60" y="710.60" font-size="8.6" text-anchor="middle" fill="#333">Cold</text>
<g clip-path="url(#cpo)"><rect x="14.7" y="716.0" width="190.1" height="103.6" fill="#0b1d82"/><g filter="url(#b06)"><rect x="16.1" y="714.0" width="2.1" height="23.6" fill="#2266d4" opacity="0.91"/><rect x="16.1" y="737.6" width="2.1" height="15.7" fill="#2266d4" opacity="0.87"/><rect x="16.1" y="753.3" width="2.1" height="24.3" fill="#2266d4" opacity="0.75"/><rect x="16.1" y="777.5" width="2.1" height="15.6" fill="#2266d4" opacity="0.64"/><rect x="16.1" y="793.1" width="2.1" height="14.3" fill="#2266d4" opacity="0.70"/><rect x="16.1" y="807.4" width="2.1" height="36.7" fill="#2266d4" opacity="0.76"/><rect x="21.8" y="714.0" width="1.8" height="29.6" fill="#2266d4" opacity="0.75"/><rect x="21.8" y="743.6" width="1.8" height="14.7" fill="#2266d4" opacity="0.36"/><rect x="21.8" y="758.3" width="1.8" height="25.9" fill="#2266d4" opacity="0.39"/><rect x="21.8" y="784.2" width="1.8" height="15.7" fill="#2266d4" opacity="0.51"/><rect x="21.8" y="799.9" width="1.8" height="10.9" fill="#2266d4" opacity="0.65"/><rect x="21.8" y="810.8" width="1.8" height="23.2" fill="#2266d4" opacity="0.90"/><rect x="27.4" y="714.0" width="2.2" height="10.1" fill="#2266d4" opacity="0.41"/><rect x="27.4" y="724.1" width="2.2" height="29.6" fill="#2266d4" opacity="0.61"/><rect x="27.4" y="753.8" width="2.2" height="26.5" fill="#2266d4" opacity="0.96"/><rect x="27.4" y="780.3" width="2.2" height="12.5" fill="#2266d4" opacity="0.52"/><rect x="27.4" y="792.8" width="2.2" height="32.7" fill="#2266d4" opacity="0.68"/><rect x="31.5" y="714.0" width="2.1" height="22.0" fill="#1a56c8" opacity="0.90"/><rect x="31.5" y="736.0" width="2.1" height="21.6" fill="#1a56c8" opacity="0.97"/><rect x="31.5" y="757.6" width="2.1" height="35.4" fill="#1a56c8" opacity="0.35"/><rect x="31.5" y="793.0" width="2.1" height="16.3" fill="#1a56c8" opacity="0.94"/><rect x="31.5" y="809.3" width="2.1" height="24.1" fill="#1a56c8" opacity="0.99"/><rect x="36.7" y="714.0" width="1.3" height="16.0" fill="#0a1e84" opacity="0.79"/><rect x="36.7" y="730.0" width="1.3" height="20.1" fill="#0a1e84" opacity="0.55"/><rect x="36.7" y="750.1" width="1.3" height="10.5" fill="#0a1e84" opacity="0.62"/><rect x="36.7" y="760.5" width="1.3" height="37.7" fill="#0a1e84" opacity="0.44"/><rect x="36.7" y="798.2" width="1.3" height="31.2" fill="#0a1e84" opacity="0.36"/><rect x="42.1" y="714.0" width="2.0" height="26.8" fill="#0a1e84" opacity="0.64"/><rect x="42.1" y="740.8" width="2.0" height="15.7" fill="#0a1e84" opacity="0.83"/><rect x="42.1" y="756.5" width="2.0" height="13.9" fill="#0a1e84" opacity="0.77"/><rect x="42.1" y="770.4" width="2.0" height="13.5" fill="#0a1e84" opacity="0.62"/><rect x="42.1" y="783.9" width="2.0" height="16.4" fill="#0a1e84" opacity="0.53"/><rect x="42.1" y="800.3" width="2.0" height="39.1" fill="#0a1e84" opacity="0.87"/><rect x="47.0" y="714.0" width="2.6" height="15.6" fill="#1448b8" opacity="1.00"/><rect x="47.0" y="729.6" width="2.6" height="28.1" fill="#1448b8" opacity="0.73"/><rect x="47.0" y="757.7" width="2.6" height="11.3" fill="#1448b8" opacity="0.45"/><rect x="47.0" y="768.9" width="2.6" height="23.2" fill="#1448b8" opacity="0.36"/><rect x="47.0" y="792.2" width="2.6" height="28.3" fill="#1448b8" opacity="0.89"/><rect x="52.1" y="714.0" width="1.3" height="27.5" fill="#1448b8" opacity="0.51"/><rect x="52.1" y="741.5" width="1.3" height="28.0" fill="#1448b8" opacity="0.59"/><rect x="52.1" y="769.5" width="1.3" height="23.6" fill="#1448b8" opacity="0.97"/><rect x="52.1" y="793.1" width="1.3" height="24.5" fill="#1448b8" opacity="0.72"/><rect x="52.1" y="817.6" width="1.3" height="36.0" fill="#1448b8" opacity="0.47"/><rect x="56.6" y="714.0" width="2.7" height="17.5" fill="#08186e" opacity="0.47"/><rect x="56.6" y="731.5" width="2.7" height="32.2" fill="#08186e" opacity="0.96"/><rect x="56.6" y="763.7" width="2.7" height="15.9" fill="#08186e" opacity="0.97"/><rect x="56.6" y="779.6" width="2.7" height="36.5" fill="#08186e" opacity="0.74"/><rect x="56.6" y="816.0" width="2.7" height="22.6" fill="#08186e" opacity="0.42"/><rect x="60.7" y="714.0" width="2.7" height="32.2" fill="#1448b8" opacity="0.60"/><rect x="60.7" y="746.2" width="2.7" height="22.6" fill="#1448b8" opacity="0.94"/><rect x="60.7" y="768.8" width="2.7" height="24.7" fill="#1448b8" opacity="0.69"/><rect x="60.7" y="793.5" width="2.7" height="37.9" fill="#1448b8" opacity="0.99"/><rect x="65.1" y="714.0" width="2.0" height="35.6" fill="#0a1e84" opacity="0.75"/><rect x="65.1" y="749.6" width="2.0" height="18.4" fill="#0a1e84" opacity="0.95"/><rect x="65.1" y="768.0" width="2.0" height="16.1" fill="#0a1e84" opacity="0.36"/><rect x="65.1" y="784.1" width="2.0" height="18.1" fill="#0a1e84" opacity="0.64"/><rect x="65.1" y="802.2" width="2.0" height="11.8" fill="#0a1e84" opacity="0.46"/><rect x="65.1" y="814.0" width="2.0" height="21.1" fill="#0a1e84" opacity="0.72"/><rect x="69.5" y="714.0" width="1.8" height="39.4" fill="#2266d4" opacity="0.78"/><rect x="69.5" y="753.4" width="1.8" height="30.7" fill="#2266d4" opacity="0.73"/><rect x="69.5" y="784.2" width="1.8" height="14.2" fill="#2266d4" opacity="0.37"/><rect x="69.5" y="798.4" width="1.8" height="10.5" fill="#2266d4" opacity="0.94"/><rect x="69.5" y="808.9" width="1.8" height="31.0" fill="#2266d4" opacity="0.98"/><rect x="73.6" y="714.0" width="2.2" height="12.0" fill="#2266d4" opacity="0.55"/><rect x="73.6" y="726.0" width="2.2" height="14.1" fill="#2266d4" opacity="0.40"/><rect x="73.6" y="740.1" width="2.2" height="23.6" fill="#2266d4" opacity="0.59"/><rect x="73.6" y="763.7" width="2.2" height="11.3" fill="#2266d4" opacity="0.96"/><rect x="73.6" y="775.0" width="2.2" height="32.1" fill="#2266d4" opacity="0.43"/><rect x="73.6" y="807.2" width="2.2" height="38.9" fill="#2266d4" opacity="0.57"/><rect x="77.8" y="714.0" width="2.0" height="36.1" fill="#1a56c8" opacity="0.62"/><rect x="77.8" y="750.1" width="2.0" height="33.7" fill="#1a56c8" opacity="0.91"/><rect x="77.8" y="783.8" width="2.0" height="27.2" fill="#1a56c8" opacity="0.76"/><rect x="77.8" y="811.0" width="2.0" height="21.5" fill="#1a56c8" opacity="0.73"/><rect x="83.6" y="714.0" width="1.3" height="13.5" fill="#0a1e84" opacity="0.52"/><rect x="83.6" y="727.5" width="1.3" height="22.5" fill="#0a1e84" opacity="0.56"/><rect x="83.6" y="750.0" width="1.3" height="38.0" fill="#0a1e84" opacity="0.80"/><rect x="83.6" y="788.0" width="1.3" height="23.7" fill="#0a1e84" opacity="0.65"/><rect x="83.6" y="811.7" width="1.3" height="26.2" fill="#0a1e84" opacity="0.69"/><rect x="89.2" y="714.0" width="1.7" height="24.4" fill="#1a56c8" opacity="0.50"/><rect x="89.2" y="738.4" width="1.7" height="31.0" fill="#1a56c8" opacity="0.67"/><rect x="89.2" y="769.4" width="1.7" height="28.4" fill="#1a56c8" opacity="0.95"/><rect x="89.2" y="797.8" width="1.7" height="17.7" fill="#1a56c8" opacity="0.36"/><rect x="89.2" y="815.5" width="1.7" height="19.0" fill="#1a56c8" opacity="0.79"/><rect x="93.8" y="714.0" width="1.5" height="29.8" fill="#06167a" opacity="0.64"/><rect x="93.8" y="743.8" width="1.5" height="36.8" fill="#06167a" opacity="0.56"/><rect x="93.8" y="780.6" width="1.5" height="30.0" fill="#06167a" opacity="0.48"/><rect x="93.8" y="810.5" width="1.5" height="22.9" fill="#06167a" opacity="0.87"/><rect x="100.5" y="714.0" width="2.6" height="16.6" fill="#2266d4" opacity="0.95"/><rect x="100.5" y="730.6" width="2.6" height="16.3" fill="#2266d4" opacity="0.44"/><rect x="100.5" y="746.9" width="2.6" height="20.5" fill="#2266d4" opacity="0.93"/><rect x="100.5" y="767.4" width="2.6" height="11.2" fill="#2266d4" opacity="0.39"/><rect x="100.5" y="778.6" width="2.6" height="39.4" fill="#2266d4" opacity="0.88"/><rect x="100.5" y="818.0" width="2.6" height="13.4" fill="#2266d4" opacity="0.66"/><rect x="107.3" y="714.0" width="2.5" height="28.8" fill="#2266d4" opacity="0.67"/><rect x="107.3" y="742.8" width="2.5" height="19.5" fill="#2266d4" opacity="0.90"/><rect x="107.3" y="762.2" width="2.5" height="39.5" fill="#2266d4" opacity="0.64"/><rect x="107.3" y="801.7" width="2.5" height="12.2" fill="#2266d4" opacity="0.37"/><rect x="107.3" y="813.9" width="2.5" height="36.2" fill="#2266d4" opacity="0.38"/><rect x="113.4" y="714.0" width="2.1" height="29.5" fill="#06167a" opacity="0.72"/><rect x="113.4" y="743.5" width="2.1" height="29.2" fill="#06167a" opacity="0.61"/><rect x="113.4" y="772.7" width="2.1" height="15.7" fill="#06167a" opacity="0.85"/><rect x="113.4" y="788.4" width="2.1" height="18.0" fill="#06167a" opacity="0.86"/><rect x="113.4" y="806.4" width="2.1" height="33.9" fill="#06167a" opacity="0.99"/><rect x="117.8" y="714.0" width="1.4" height="29.7" fill="#08186e" opacity="0.87"/><rect x="117.8" y="743.7" width="1.4" height="38.8" fill="#08186e" opacity="0.79"/><rect x="117.8" y="782.4" width="1.4" height="16.0" fill="#08186e" opacity="0.66"/><rect x="117.8" y="798.4" width="1.4" height="15.4" fill="#08186e" opacity="0.36"/><rect x="117.8" y="813.7" width="1.4" height="24.2" fill="#08186e" opacity="0.81"/><rect x="122.3" y="714.0" width="1.6" height="26.2" fill="#06167a" opacity="0.97"/><rect x="122.3" y="740.2" width="1.6" height="25.0" fill="#06167a" opacity="1.00"/><rect x="122.3" y="765.2" width="1.6" height="14.8" fill="#06167a" opacity="0.90"/><rect x="122.3" y="780.0" width="1.6" height="31.0" fill="#06167a" opacity="0.50"/><rect x="122.3" y="811.0" width="1.6" height="22.3" fill="#06167a" opacity="0.93"/><rect x="127.5" y="714.0" width="1.9" height="28.8" fill="#1448b8" opacity="0.94"/><rect x="127.5" y="742.8" width="1.9" height="21.3" fill="#1448b8" opacity="0.72"/><rect x="127.5" y="764.1" width="1.9" height="36.4" fill="#1448b8" opacity="0.87"/><rect x="127.5" y="800.5" width="1.9" height="38.3" fill="#1448b8" opacity="0.65"/><rect x="133.4" y="714.0" width="1.5" height="36.0" fill="#0a1e84" opacity="0.87"/><rect x="133.4" y="750.0" width="1.5" height="37.7" fill="#0a1e84" opacity="0.43"/><rect x="133.4" y="787.7" width="1.5" height="17.3" fill="#0a1e84" opacity="0.60"/><rect x="133.4" y="805.0" width="1.5" height="12.6" fill="#0a1e84" opacity="0.55"/><rect x="133.4" y="817.6" width="1.5" height="39.3" fill="#0a1e84" opacity="0.96"/><rect x="138.2" y="714.0" width="2.3" height="20.5" fill="#1a56c8" opacity="0.40"/><rect x="138.2" y="734.5" width="2.3" height="23.2" fill="#1a56c8" opacity="0.71"/><rect x="138.2" y="757.7" width="2.3" height="33.0" fill="#1a56c8" opacity="0.67"/><rect x="138.2" y="790.7" width="2.3" height="10.9" fill="#1a56c8" opacity="0.88"/><rect x="138.2" y="801.6" width="2.3" height="11.9" fill="#1a56c8" opacity="0.87"/><rect x="138.2" y="813.5" width="2.3" height="15.2" fill="#1a56c8" opacity="0.57"/><rect x="144.6" y="714.0" width="1.4" height="40.0" fill="#1448b8" opacity="0.94"/><rect x="144.6" y="754.0" width="1.4" height="25.5" fill="#1448b8" opacity="0.79"/><rect x="144.6" y="779.5" width="1.4" height="23.2" fill="#1448b8" opacity="0.92"/><rect x="144.6" y="802.7" width="1.4" height="27.4" fill="#1448b8" opacity="0.80"/><rect x="150.9" y="714.0" width="1.9" height="18.7" fill="#08186e" opacity="0.82"/><rect x="150.9" y="732.7" width="1.9" height="29.2" fill="#08186e" opacity="0.69"/><rect x="150.9" y="761.9" width="1.9" height="35.3" fill="#08186e" opacity="0.71"/><rect x="150.9" y="797.2" width="1.9" height="19.4" fill="#08186e" opacity="0.60"/><rect x="150.9" y="816.5" width="1.9" height="35.4" fill="#08186e" opacity="0.94"/><rect x="155.5" y="714.0" width="2.6" height="25.7" fill="#08186e" opacity="0.72"/><rect x="155.5" y="739.7" width="2.6" height="16.0" fill="#08186e" opacity="0.70"/><rect x="155.5" y="755.8" width="2.6" height="25.1" fill="#08186e" opacity="0.74"/><rect x="155.5" y="780.9" width="2.6" height="10.8" fill="#08186e" opacity="0.98"/><rect x="155.5" y="791.7" width="2.6" height="25.5" fill="#08186e" opacity="0.61"/><rect x="155.5" y="817.2" width="2.6" height="34.0" fill="#08186e" opacity="0.72"/><rect x="161.0" y="714.0" width="2.3" height="37.9" fill="#1a56c8" opacity="0.65"/><rect x="161.0" y="751.9" width="2.3" height="37.6" fill="#1a56c8" opacity="0.87"/><rect x="161.0" y="789.5" width="2.3" height="22.1" fill="#1a56c8" opacity="0.51"/><rect x="161.0" y="811.7" width="2.3" height="24.8" fill="#1a56c8" opacity="0.57"/><rect x="167.7" y="714.0" width="2.7" height="25.7" fill="#2266d4" opacity="0.42"/><rect x="167.7" y="739.7" width="2.7" height="22.6" fill="#2266d4" opacity="0.37"/><rect x="167.7" y="762.3" width="2.7" height="17.8" fill="#2266d4" opacity="0.81"/><rect x="167.7" y="780.1" width="2.7" height="39.3" fill="#2266d4" opacity="0.37"/><rect x="167.7" y="819.5" width="2.7" height="14.7" fill="#2266d4" opacity="0.36"/><rect x="172.5" y="714.0" width="2.4" height="28.6" fill="#1448b8" opacity="0.42"/><rect x="172.5" y="742.6" width="2.4" height="31.9" fill="#1448b8" opacity="0.43"/><rect x="172.5" y="774.5" width="2.4" height="25.3" fill="#1448b8" opacity="0.51"/><rect x="172.5" y="799.8" width="2.4" height="15.9" fill="#1448b8" opacity="0.69"/><rect x="172.5" y="815.8" width="2.4" height="23.1" fill="#1448b8" opacity="0.59"/><rect x="177.8" y="714.0" width="2.0" height="26.1" fill="#1448b8" opacity="0.91"/><rect x="177.8" y="740.1" width="2.0" height="26.0" fill="#1448b8" opacity="0.49"/><rect x="177.8" y="766.2" width="2.0" height="16.5" fill="#1448b8" opacity="0.70"/><rect x="177.8" y="782.7" width="2.0" height="27.6" fill="#1448b8" opacity="0.44"/><rect x="177.8" y="810.3" width="2.0" height="37.4" fill="#1448b8" opacity="0.76"/><rect x="182.8" y="714.0" width="1.5" height="19.4" fill="#08186e" opacity="0.95"/><rect x="182.8" y="733.4" width="1.5" height="16.5" fill="#08186e" opacity="1.00"/><rect x="182.8" y="750.0" width="1.5" height="36.6" fill="#08186e" opacity="0.44"/><rect x="182.8" y="786.6" width="1.5" height="17.2" fill="#08186e" opacity="0.82"/><rect x="182.8" y="803.8" width="1.5" height="17.8" fill="#08186e" opacity="0.41"/><rect x="189.3" y="714.0" width="1.9" height="13.8" fill="#0a1e84" opacity="0.61"/><rect x="189.3" y="727.8" width="1.9" height="30.6" fill="#0a1e84" opacity="0.36"/><rect x="189.3" y="758.3" width="1.9" height="16.0" fill="#0a1e84" opacity="0.79"/><rect x="189.3" y="774.4" width="1.9" height="37.3" fill="#0a1e84" opacity="0.98"/><rect x="189.3" y="811.7" width="1.9" height="13.5" fill="#0a1e84" opacity="0.68"/><rect x="195.6" y="714.0" width="2.0" height="35.0" fill="#0a1e84" opacity="0.87"/><rect x="195.6" y="749.0" width="2.0" height="24.5" fill="#0a1e84" opacity="0.37"/><rect x="195.6" y="773.5" width="2.0" height="32.9" fill="#0a1e84" opacity="0.75"/><rect x="195.6" y="806.3" width="2.0" height="37.2" fill="#0a1e84" opacity="0.66"/><rect x="200.1" y="714.0" width="1.4" height="35.2" fill="#1448b8" opacity="0.99"/><rect x="200.1" y="749.2" width="1.4" height="37.8" fill="#1448b8" opacity="0.41"/><rect x="200.1" y="787.0" width="1.4" height="11.9" fill="#1448b8" opacity="0.97"/><rect x="200.1" y="798.9" width="1.4" height="23.9" fill="#1448b8" opacity="0.85"/><rect x="14.7" y="770.0" width="190.1" height="2.5" fill="#2a6ed8" opacity="0.25"/><rect x="14.7" y="802.0" width="190.1" height="2.5" fill="#2a6ed8" opacity="0.15"/><rect x="14.7" y="813.0" width="190.1" height="7" fill="#061472" opacity="0.4"/></g><path d="M58.22,725.15 C63.38,725.71 70.99,727.15 75.47,730.30 C79.95,733.46 83.69,738.93 85.10,744.08 C86.52,749.23 85.59,756.06 83.98,761.22 C82.38,766.37 78.33,770.98 75.47,774.99 C72.62,779.01 69.14,781.58 66.85,785.30 C64.55,789.01 64.27,794.70 61.70,797.28 C59.12,799.86 54.83,801.33 51.39,800.75 C47.96,800.17 43.37,797.24 41.09,793.81 C38.81,790.37 38.87,784.72 37.73,780.14 C36.59,775.57 35.41,771.52 34.26,766.37 C33.10,761.22 30.50,754.66 30.78,749.23 C31.06,743.80 33.64,737.49 35.94,733.78 C38.23,730.06 40.85,728.38 44.56,726.94 C48.27,725.51 53.07,724.59 58.22,725.15 Z" fill="#1290e0" filter="url(#b2)"/><path d="M58.20,729.10 C62.80,729.60 69.60,730.88 73.60,733.70 C77.60,736.52 80.93,741.40 82.20,746.00 C83.47,750.60 82.63,756.70 81.20,761.30 C79.77,765.90 76.15,770.02 73.60,773.60 C71.05,777.18 67.95,779.48 65.90,782.80 C63.85,786.12 63.60,791.20 61.30,793.50 C59.00,795.80 55.17,797.12 52.10,796.60 C49.03,796.08 44.93,793.47 42.90,790.40 C40.87,787.33 40.92,782.28 39.90,778.20 C38.88,774.12 37.83,770.50 36.80,765.90 C35.77,761.30 33.45,755.45 33.70,750.60 C33.95,745.75 36.25,740.12 38.30,736.80 C40.35,733.48 42.68,731.98 46.00,730.70 C49.32,729.42 53.60,728.60 58.20,729.10 Z" fill="#78c440" filter="url(#b15)"/><path d="M58.52,734.66 C62.30,735.07 67.87,736.12 71.15,738.43 C74.43,740.74 77.17,744.75 78.20,748.52 C79.24,752.29 78.56,757.29 77.38,761.07 C76.21,764.84 73.24,768.21 71.15,771.15 C69.06,774.09 66.52,775.98 64.84,778.70 C63.16,781.42 62.95,785.58 61.07,787.47 C59.18,789.36 56.04,790.44 53.52,790.01 C51.01,789.59 47.65,787.44 45.98,784.93 C44.31,782.41 44.35,778.27 43.52,774.92 C42.68,771.58 41.82,768.61 40.98,764.84 C40.13,761.07 38.23,756.27 38.43,752.29 C38.64,748.32 40.53,743.70 42.21,740.98 C43.89,738.26 45.80,737.03 48.52,735.97 C51.24,734.92 54.75,734.25 58.52,734.66 Z" fill="#a8d428" filter="url(#b2)"/><path d="M154.42,742.16 C159.87,742.46 168.47,743.88 173.34,747.31 C178.22,750.75 181.65,757.34 183.65,762.77 C185.65,768.20 186.19,774.19 185.33,779.90 C184.47,785.62 181.07,791.89 178.50,797.04 C175.92,802.19 173.61,807.83 169.87,810.82 C166.14,813.80 160.11,815.24 156.10,814.96 C152.08,814.68 148.93,812.68 145.79,809.14 C142.66,805.59 139.56,799.13 137.28,793.68 C135.00,788.23 132.99,782.16 132.13,776.43 C131.27,770.70 130.71,764.45 132.13,759.30 C133.55,754.14 136.93,748.38 140.64,745.52 C144.35,742.66 148.97,741.86 154.42,742.16 Z" fill="#1290e0" filter="url(#b2)"/><path d="M154.80,746.00 C159.67,746.27 167.35,747.53 171.70,750.60 C176.05,753.67 179.12,759.55 180.90,764.40 C182.68,769.25 183.17,774.60 182.40,779.70 C181.63,784.80 178.60,790.40 176.30,795.00 C174.00,799.60 171.93,804.63 168.60,807.30 C165.27,809.97 159.88,811.25 156.30,811.00 C152.72,810.75 149.90,808.97 147.10,805.80 C144.30,802.63 141.53,796.87 139.50,792.00 C137.47,787.13 135.67,781.72 134.90,776.60 C134.13,771.48 133.63,765.90 134.90,761.30 C136.17,756.70 139.18,751.55 142.50,749.00 C145.82,746.45 149.93,745.73 154.80,746.00 Z" fill="#88cc38" filter="url(#b15)"/><path d="M155.25,750.48 C159.43,750.71 166.04,751.80 169.78,754.44 C173.52,757.07 176.16,762.13 177.69,766.30 C179.23,770.47 179.64,775.08 178.98,779.46 C178.32,783.85 175.72,788.66 173.74,792.62 C171.76,796.58 169.98,800.90 167.12,803.20 C164.25,805.49 159.62,806.60 156.54,806.38 C153.46,806.16 151.03,804.63 148.63,801.91 C146.22,799.18 143.84,794.23 142.09,790.04 C140.34,785.85 138.79,781.20 138.13,776.80 C137.47,772.40 137.04,767.59 138.13,763.64 C139.22,759.68 141.82,755.25 144.67,753.06 C147.52,750.87 151.06,750.25 155.25,750.48 Z" fill="#e4e000" filter="url(#b2)"/><ellipse cx="62" cy="747" rx="16" ry="14" fill="#b4d820" filter="url(#b3)"/><ellipse cx="66" cy="743" rx="9" ry="8" fill="#dce010" filter="url(#b2)"/><ellipse cx="55" cy="738" rx="6" ry="5" fill="#c8dc18" filter="url(#b2)"/><ellipse cx="48" cy="752" rx="5" ry="7" fill="#c0d818" filter="url(#b2)"/><ellipse cx="52" cy="781" rx="9" ry="11" fill="#f0e000" filter="url(#b2)"/><ellipse cx="58.2" cy="756.7" rx="3.5" ry="3.5" fill="#f8c000" filter="url(#b1)"/><ellipse cx="52" cy="773.6" rx="3" ry="3" fill="#ffb400" filter="url(#b1)"/><ellipse cx="55.2" cy="787.4" rx="3" ry="2.5" fill="#ffa800" filter="url(#b1)"/><ellipse cx="64.5" cy="774" rx="1.8" ry="4" fill="#30a050" filter="url(#b06)"/><ellipse cx="157.9" cy="751" rx="4" ry="3" fill="#ffb000" filter="url(#b1)"/><ellipse cx="154.8" cy="770.5" rx="3" ry="3" fill="#ffb400" filter="url(#b1)"/><ellipse cx="159.4" cy="788.9" rx="3.5" ry="3" fill="#ff4810" filter="url(#b1)"/><ellipse cx="162.5" cy="802.7" rx="3.5" ry="2.5" fill="#ffb000" filter="url(#b1)"/><ellipse cx="144" cy="797" rx="2" ry="3" fill="#40b050" filter="url(#b06)"/></g>
<text x="51.40" y="817.00" font-size="7.4" text-anchor="middle" fill="#fff">HFD</text>
<text x="161.00" y="817.00" font-size="7.4" text-anchor="middle" textLength="49" lengthAdjust="spacingAndGlyphs" fill="#fff">HFD + SANA</text>
<text x="0.00" y="433.70" font-size="12" font-weight="bold" fill="#000" stroke="#000" stroke-width="0.5">i</text>
<line x1="43.40" y1="447.60" x2="43.40" y2="503.80" stroke="#8c8c8c" stroke-width="0.8"/>
<line x1="43.40" y1="512.60" x2="43.40" y2="526.20" stroke="#8c8c8c" stroke-width="0.8"/>
<line x1="41.50" y1="501.90" x2="45.30" y2="506.10" stroke="#8c8c8c" stroke-width="0.8"/>
<line x1="41.50" y1="509.50" x2="45.30" y2="513.70" stroke="#8c8c8c" stroke-width="0.8"/>
<line x1="41.20" y1="447.60" x2="43.40" y2="447.60" stroke="#8c8c8c" stroke-width="0.8"/>
<text x="37.60" y="450.48" font-size="8.0" text-anchor="end" textLength="9.16" lengthAdjust="spacingAndGlyphs">38</text>
<line x1="41.20" y1="466.23" x2="43.40" y2="466.23" stroke="#8c8c8c" stroke-width="0.8"/>
<text x="37.60" y="469.11" font-size="8.0" text-anchor="end" textLength="9.16" lengthAdjust="spacingAndGlyphs">37</text>
<line x1="41.20" y1="484.86" x2="43.40" y2="484.86" stroke="#8c8c8c" stroke-width="0.8"/>
<text x="37.60" y="487.74" font-size="8.0" text-anchor="end" textLength="9.16" lengthAdjust="spacingAndGlyphs">36</text>
<line x1="41.20" y1="503.80" x2="43.40" y2="503.80" stroke="#8c8c8c" stroke-width="0.8"/>
<text x="37.60" y="506.68" font-size="8.0" text-anchor="end" textLength="9.16" lengthAdjust="spacingAndGlyphs">35</text>
<line x1="41.20" y1="511.70" x2="43.40" y2="511.70" stroke="#8c8c8c" stroke-width="0.8"/>
<text x="37.60" y="514.58" font-size="8.0" text-anchor="end" textLength="9.16" lengthAdjust="spacingAndGlyphs">35</text>
<line x1="41.20" y1="526.20" x2="43.40" y2="526.20" stroke="#8c8c8c" stroke-width="0.8"/>
<text x="37.60" y="529.08" font-size="8.0" text-anchor="end" textLength="4.58" lengthAdjust="spacingAndGlyphs">0</text>
<line x1="43.40" y1="526.20" x2="160.80" y2="526.20" stroke="#8c8c8c" stroke-width="0.8"/>
<line x1="63.30" y1="526.20" x2="63.30" y2="528.40" stroke="#8c8c8c" stroke-width="0.8"/>
<line x1="102.60" y1="526.20" x2="102.60" y2="528.40" stroke="#8c8c8c" stroke-width="0.8"/>
<line x1="142.00" y1="526.20" x2="142.00" y2="528.40" stroke="#8c8c8c" stroke-width="0.8"/>
<path d="M52.00,503.8 V494.18 H60.70 V503.8" fill="none" stroke="#333" stroke-width="0.8"/>
<line x1="52.00" y1="511.70" x2="52.00" y2="526.20" stroke="#333" stroke-width="0.8"/>
<line x1="60.70" y1="511.70" x2="60.70" y2="526.20" stroke="#333" stroke-width="0.8"/>
<path d="M66.40,503.8 V481.13 H75.40 V503.8" fill="none" stroke="#f46a58" stroke-width="0.8"/>
<line x1="66.40" y1="511.70" x2="66.40" y2="526.20" stroke="#f46a58" stroke-width="0.8"/>
<line x1="75.40" y1="511.70" x2="75.40" y2="526.20" stroke="#f46a58" stroke-width="0.8"/>
<path d="M91.30,503.8 V496.97 H100.50 V503.8" fill="none" stroke="#333" stroke-width="0.8"/>
<line x1="91.30" y1="511.70" x2="91.30" y2="526.20" stroke="#333" stroke-width="0.8"/>
<line x1="100.50" y1="511.70" x2="100.50" y2="526.20" stroke="#333" stroke-width="0.8"/>
<path d="M105.60,503.8 V488.59 H114.80 V503.8" fill="none" stroke="#f46a58" stroke-width="0.8"/>
<line x1="105.60" y1="511.70" x2="105.60" y2="526.20" stroke="#f46a58" stroke-width="0.8"/>
<line x1="114.80" y1="511.70" x2="114.80" y2="526.20" stroke="#f46a58" stroke-width="0.8"/>
<path d="M130.5,526.2 V513.3 H139.7 V526.2" fill="none" stroke="#333" stroke-width="0.8"/>
<path d="M144.9,526.2 V513.3 H154.0 V526.2" fill="none" stroke="#f46a58" stroke-width="0.8"/>
<line x1="56.30" y1="490.82" x2="56.30" y2="497.53" stroke="#222" stroke-width="0.7"/>
<line x1="53.30" y1="490.82" x2="59.30" y2="490.82" stroke="#222" stroke-width="0.7"/>
<line x1="53.30" y1="497.53" x2="59.30" y2="497.53" stroke="#222" stroke-width="0.7"/>
<line x1="70.90" y1="476.48" x2="70.90" y2="485.79" stroke="#f4301a" stroke-width="0.7"/>
<line x1="67.90" y1="476.48" x2="73.90" y2="476.48" stroke="#f4301a" stroke-width="0.7"/>
<line x1="67.90" y1="485.79" x2="73.90" y2="485.79" stroke="#f4301a" stroke-width="0.7"/>
<line x1="95.90" y1="494.73" x2="95.90" y2="499.21" stroke="#222" stroke-width="0.7"/>
<line x1="92.90" y1="494.73" x2="98.90" y2="494.73" stroke="#222" stroke-width="0.7"/>
<line x1="92.90" y1="499.21" x2="98.90" y2="499.21" stroke="#222" stroke-width="0.7"/>
<line x1="110.20" y1="486.72" x2="110.20" y2="490.45" stroke="#f4301a" stroke-width="0.7"/>
<line x1="107.20" y1="486.72" x2="113.20" y2="486.72" stroke="#f4301a" stroke-width="0.7"/>
<line x1="107.20" y1="490.45" x2="113.20" y2="490.45" stroke="#f4301a" stroke-width="0.7"/>
<circle cx="56.20" cy="483.00" r="1.5" fill="#111"/>
<circle cx="53.50" cy="494.18" r="1.5" fill="#111"/>
<circle cx="59.00" cy="494.18" r="1.5" fill="#111"/>
<circle cx="56.20" cy="499.76" r="1.5" fill="#111"/>
<circle cx="56.20" cy="512.00" r="1.5" fill="#111"/>
<circle cx="70.90" cy="464.37" r="1.5" fill="#f4301a"/>
<circle cx="68.00" cy="482.07" r="1.5" fill="#f4301a"/>
<circle cx="71.00" cy="482.07" r="1.5" fill="#f4301a"/>
<circle cx="74.00" cy="482.07" r="1.5" fill="#f4301a"/>
<circle cx="70.90" cy="486.72" r="1.5" fill="#f4301a"/>
<circle cx="93.00" cy="492.31" r="1.5" fill="#111"/>
<circle cx="98.50" cy="495.11" r="1.5" fill="#111"/>
<circle cx="93.00" cy="497.90" r="1.5" fill="#111"/>
<circle cx="96.00" cy="497.90" r="1.5" fill="#111"/>
<circle cx="99.00" cy="497.90" r="1.5" fill="#111"/>
<circle cx="95.50" cy="511.90" r="1.5" fill="#111"/>
<circle cx="110.20" cy="484.86" r="1.5" fill="#f4301a"/>
<circle cx="107.50" cy="487.65" r="1.5" fill="#f4301a"/>
<circle cx="113.00" cy="487.65" r="1.5" fill="#f4301a"/>
<circle cx="107.50" cy="492.31" r="1.5" fill="#f4301a"/>
<circle cx="113.00" cy="492.31" r="1.5" fill="#f4301a"/>
<circle cx="132.20" cy="513.30" r="1.35" fill="#111"/>
<circle cx="134.00" cy="513.30" r="1.35" fill="#111"/>
<circle cx="135.60" cy="513.30" r="1.35" fill="#111"/>
<circle cx="137.20" cy="513.30" r="1.35" fill="#111"/>
<circle cx="138.60" cy="513.30" r="1.35" fill="#111"/>
<circle cx="146.60" cy="513.30" r="1.35" fill="#f4301a"/>
<circle cx="148.40" cy="513.30" r="1.35" fill="#f4301a"/>
<circle cx="150.00" cy="513.30" r="1.35" fill="#f4301a"/>
<circle cx="151.60" cy="513.30" r="1.35" fill="#f4301a"/>
<circle cx="153.00" cy="513.30" r="1.35" fill="#f4301a"/>
<text x="63.20" y="455.00" font-size="6.4" text-anchor="middle" textLength="13" lengthAdjust="spacingAndGlyphs">0.05</text>
<line x1="55.60" y1="456.60" x2="70.80" y2="456.60" stroke="#777" stroke-width="0.7"/>
<text x="102.80" y="455.00" font-size="6.4" text-anchor="middle" textLength="13" lengthAdjust="spacingAndGlyphs">0.03</text>
<line x1="95.20" y1="456.60" x2="110.40" y2="456.60" stroke="#777" stroke-width="0.7"/>
<text x="142.40" y="455.00" font-size="6.4" text-anchor="middle" textLength="13" lengthAdjust="spacingAndGlyphs">0.76</text>
<line x1="134.80" y1="456.60" x2="150.00" y2="456.60" stroke="#777" stroke-width="0.7"/>
<circle cx="157.20" cy="461.00" r="1.3" fill="#111"/>
<text x="163.50" y="463.40" font-size="6.9">HFD</text>
<circle cx="157.20" cy="469.70" r="1.3" fill="#f4301a"/>
<text x="163.50" y="472.10" font-size="6.9">HFD + SANA</text>
<text x="65.80" y="534.00" font-size="9.0" text-anchor="end" transform="rotate(-45 65.80 534.00)">Interscap</text>
<text x="104.70" y="534.00" font-size="9.0" text-anchor="end" transform="rotate(-45 104.70 534.00)">Inguinal</text>
<text x="144.40" y="534.00" font-size="9.0" text-anchor="end" transform="rotate(-45 144.40 534.00)">Tail</text>
<text x="23.00" y="486.00" font-size="8.6" text-anchor="middle" transform="rotate(-90 23.00 486.00)">Surface temperature (°C)</text>
<text x="228.00" y="436.00" font-size="12" font-weight="bold" fill="#000" stroke="#000" stroke-width="0.5">j</text>
<rect x="326.9" y="445.1" width="61.4" height="80.7" fill="#a9a9a9"/>
<line x1="269.30" y1="447.20" x2="269.30" y2="525.80" stroke="#8c8c8c" stroke-width="0.8"/>
<line x1="267.10" y1="447.20" x2="269.30" y2="447.20" stroke="#8c8c8c" stroke-width="0.8"/>
<text x="263.50" y="450.08" font-size="8.0" text-anchor="end" textLength="11.45" lengthAdjust="spacingAndGlyphs">0.5</text>
<line x1="267.10" y1="462.92" x2="269.30" y2="462.92" stroke="#8c8c8c" stroke-width="0.8"/>
<text x="263.50" y="465.80" font-size="8.0" text-anchor="end" textLength="11.45" lengthAdjust="spacingAndGlyphs">0.4</text>
<line x1="267.10" y1="478.64" x2="269.30" y2="478.64" stroke="#8c8c8c" stroke-width="0.8"/>
<text x="263.50" y="481.52" font-size="8.0" text-anchor="end" textLength="11.45" lengthAdjust="spacingAndGlyphs">0.3</text>
<line x1="267.10" y1="494.36" x2="269.30" y2="494.36" stroke="#8c8c8c" stroke-width="0.8"/>
<text x="263.50" y="497.24" font-size="8.0" text-anchor="end" textLength="11.45" lengthAdjust="spacingAndGlyphs">0.2</text>
<line x1="267.10" y1="510.08" x2="269.30" y2="510.08" stroke="#8c8c8c" stroke-width="0.8"/>
<text x="263.50" y="512.96" font-size="8.0" text-anchor="end" textLength="11.45" lengthAdjust="spacingAndGlyphs">0.1</text>
<line x1="267.10" y1="525.80" x2="269.30" y2="525.80" stroke="#8c8c8c" stroke-width="0.8"/>
<text x="263.50" y="528.68" font-size="8.0" text-anchor="end" textLength="4.58" lengthAdjust="spacingAndGlyphs">0</text>
<line x1="269.30" y1="525.80" x2="388.30" y2="525.80" stroke="#8c8c8c" stroke-width="0.8"/>
<line x1="269.30" y1="525.80" x2="269.30" y2="528.00" stroke="#8c8c8c" stroke-width="0.8"/>
<text x="269.30" y="537.26" font-size="8.0" text-anchor="middle" textLength="4.58" lengthAdjust="spacingAndGlyphs">0</text>
<line x1="298.94" y1="525.80" x2="298.94" y2="528.00" stroke="#8c8c8c" stroke-width="0.8"/>
<text x="298.94" y="537.26" font-size="8.0" text-anchor="middle" textLength="4.58" lengthAdjust="spacingAndGlyphs">6</text>
<line x1="328.58" y1="525.80" x2="328.58" y2="528.00" stroke="#8c8c8c" stroke-width="0.8"/>
<text x="328.58" y="537.26" font-size="8.0" text-anchor="middle" textLength="9.16" lengthAdjust="spacingAndGlyphs">12</text>
<line x1="358.22" y1="525.80" x2="358.22" y2="528.00" stroke="#8c8c8c" stroke-width="0.8"/>
<text x="358.22" y="537.26" font-size="8.0" text-anchor="middle" textLength="9.16" lengthAdjust="spacingAndGlyphs">18</text>
<line x1="387.86" y1="525.80" x2="387.86" y2="528.00" stroke="#8c8c8c" stroke-width="0.8"/>
<text x="387.86" y="537.26" font-size="8.0" text-anchor="middle" textLength="9.16" lengthAdjust="spacingAndGlyphs">24</text>
<text x="328.50" y="550.40" font-size="8.6" text-anchor="middle">Time (h)</text>
<text x="246.50" y="486.00" font-size="8.6" text-anchor="middle" transform="rotate(-90 246.50 486.00)">EE (kcal h<tspan dy="-3" font-size="5.5">−1</tspan><tspan dy="3">)</tspan></text>
<polyline points="269.30,476.72 271.77,482.10 274.24,477.48 276.71,479.98 279.18,480.42 281.65,482.10 284.12,481.64 286.59,483.26 289.06,483.09 291.53,483.01 294.00,483.63 296.47,479.49 298.94,483.12 301.41,479.52 303.88,482.32 306.35,479.76 308.82,480.77 311.29,480.19 313.76,480.09 316.23,471.36 318.70,465.79 321.17,464.81 323.64,463.20 326.11,460.74 328.58,461.73 331.05,464.50 333.52,464.92 335.99,461.02 338.46,466.98 340.93,463.53 343.40,465.96 345.87,466.46 348.34,466.01 350.81,466.90 353.28,466.45 355.75,469.18 358.22,471.57 360.69,474.80 363.16,474.14 365.63,471.32 368.10,472.37 370.57,470.12 373.04,470.99 375.51,469.28 377.98,470.31 380.45,473.18 382.92,473.24 385.39,476.12 387.86,474.33" fill="none" stroke="#1a1a1a" stroke-width="0.45" stroke-linejoin="round"/>
<polyline points="269.30,483.70 271.77,489.07 274.24,485.86 276.71,487.38 279.18,488.91 281.65,490.27 284.12,490.40 286.59,490.62 289.06,488.21 291.53,491.20 294.00,492.28 296.47,487.87 298.94,490.03 301.41,487.07 303.88,487.65 306.35,487.82 308.82,487.70 311.29,485.84 313.76,484.77 316.23,479.52 318.70,474.55 321.17,469.60 323.64,471.12 326.11,466.95 328.58,466.80 331.05,470.20 333.52,472.71 335.99,469.27 338.46,471.57 340.93,470.64 343.40,470.55 345.87,474.02 348.34,471.86 350.81,475.18 353.28,475.17 355.75,475.80 358.22,480.37 360.69,480.57 363.16,478.88 365.63,478.36 368.10,476.91 370.57,475.39 373.04,477.18 375.51,476.36 377.98,475.40 380.45,477.77 382.92,481.47 385.39,481.91 387.86,482.95" fill="none" stroke="#1a1a1a" stroke-width="0.45" stroke-linejoin="round"/>
<line x1="269.30" y1="476.72" x2="269.30" y2="483.70" stroke="#1a1a1a" stroke-width="0.45"/>
<line x1="271.77" y1="482.10" x2="271.77" y2="489.07" stroke="#1a1a1a" stroke-width="0.45"/>
<line x1="274.24" y1="477.48" x2="274.24" y2="485.86" stroke="#1a1a1a" stroke-width="0.45"/>
<line x1="276.71" y1="479.98" x2="276.71" y2="487.38" stroke="#1a1a1a" stroke-width="0.45"/>
<line x1="279.18" y1="480.42" x2="279.18" y2="488.91" stroke="#1a1a1a" stroke-width="0.45"/>
<line x1="281.65" y1="482.10" x2="281.65" y2="490.27" stroke="#1a1a1a" stroke-width="0.45"/>
<line x1="284.12" y1="481.64" x2="284.12" y2="490.40" stroke="#1a1a1a" stroke-width="0.45"/>
<line x1="286.59" y1="483.26" x2="286.59" y2="490.62" stroke="#1a1a1a" stroke-width="0.45"/>
<line x1="289.06" y1="483.09" x2="289.06" y2="488.21" stroke="#1a1a1a" stroke-width="0.45"/>
<line x1="291.53" y1="483.01" x2="291.53" y2="491.20" stroke="#1a1a1a" stroke-width="0.45"/>
<line x1="294.00" y1="483.63" x2="294.00" y2="492.28" stroke="#1a1a1a" stroke-width="0.45"/>
<line x1="296.47" y1="479.49" x2="296.47" y2="487.87" stroke="#1a1a1a" stroke-width="0.45"/>
<line x1="298.94" y1="483.12" x2="298.94" y2="490.03" stroke="#1a1a1a" stroke-width="0.45"/>
<line x1="301.41" y1="479.52" x2="301.41" y2="487.07" stroke="#1a1a1a" stroke-width="0.45"/>
<line x1="303.88" y1="482.32" x2="303.88" y2="487.65" stroke="#1a1a1a" stroke-width="0.45"/>
<line x1="306.35" y1="479.76" x2="306.35" y2="487.82" stroke="#1a1a1a" stroke-width="0.45"/>
<line x1="308.82" y1="480.77" x2="308.82" y2="487.70" stroke="#1a1a1a" stroke-width="0.45"/>
<line x1="311.29" y1="480.19" x2="311.29" y2="485.84" stroke="#1a1a1a" stroke-width="0.45"/>
<line x1="313.76" y1="480.09" x2="313.76" y2="484.77" stroke="#1a1a1a" stroke-width="0.45"/>
<line x1="316.23" y1="471.36" x2="316.23" y2="479.52" stroke="#1a1a1a" stroke-width="0.45"/>
<line x1="318.70" y1="465.79" x2="318.70" y2="474.55" stroke="#1a1a1a" stroke-width="0.45"/>
<line x1="321.17" y1="464.81" x2="321.17" y2="469.60" stroke="#1a1a1a" stroke-width="0.45"/>
<line x1="323.64" y1="463.20" x2="323.64" y2="471.12" stroke="#1a1a1a" stroke-width="0.45"/>
<line x1="326.11" y1="460.74" x2="326.11" y2="466.95" stroke="#1a1a1a" stroke-width="0.45"/>
<line x1="328.58" y1="461.73" x2="328.58" y2="466.80" stroke="#1a1a1a" stroke-width="0.45"/>
<line x1="331.05" y1="464.50" x2="331.05" y2="470.20" stroke="#1a1a1a" stroke-width="0.45"/>
<line x1="333.52" y1="464.92" x2="333.52" y2="472.71" stroke="#1a1a1a" stroke-width="0.45"/>
<line x1="335.99" y1="461.02" x2="335.99" y2="469.27" stroke="#1a1a1a" stroke-width="0.45"/>
<line x1="338.46" y1="466.98" x2="338.46" y2="471.57" stroke="#1a1a1a" stroke-width="0.45"/>
<line x1="340.93" y1="463.53" x2="340.93" y2="470.64" stroke="#1a1a1a" stroke-width="0.45"/>
<line x1="343.40" y1="465.96" x2="343.40" y2="470.55" stroke="#1a1a1a" stroke-width="0.45"/>
<line x1="345.87" y1="466.46" x2="345.87" y2="474.02" stroke="#1a1a1a" stroke-width="0.45"/>
<line x1="348.34" y1="466.01" x2="348.34" y2="471.86" stroke="#1a1a1a" stroke-width="0.45"/>
<line x1="350.81" y1="466.90" x2="350.81" y2="475.18" stroke="#1a1a1a" stroke-width="0.45"/>
<line x1="353.28" y1="466.45" x2="353.28" y2="475.17" stroke="#1a1a1a" stroke-width="0.45"/>
<line x1="355.75" y1="469.18" x2="355.75" y2="475.80" stroke="#1a1a1a" stroke-width="0.45"/>
<line x1="358.22" y1="471.57" x2="358.22" y2="480.37" stroke="#1a1a1a" stroke-width="0.45"/>
<line x1="360.69" y1="474.80" x2="360.69" y2="480.57" stroke="#1a1a1a" stroke-width="0.45"/>
<line x1="363.16" y1="474.14" x2="363.16" y2="478.88" stroke="#1a1a1a" stroke-width="0.45"/>
<line x1="365.63" y1="471.32" x2="365.63" y2="478.36" stroke="#1a1a1a" stroke-width="0.45"/>
<line x1="368.10" y1="472.37" x2="368.10" y2="476.91" stroke="#1a1a1a" stroke-width="0.45"/>
<line x1="370.57" y1="470.12" x2="370.57" y2="475.39" stroke="#1a1a1a" stroke-width="0.45"/>
<line x1="373.04" y1="470.99" x2="373.04" y2="477.18" stroke="#1a1a1a" stroke-width="0.45"/>
<line x1="375.51" y1="469.28" x2="375.51" y2="476.36" stroke="#1a1a1a" stroke-width="0.45"/>
<line x1="377.98" y1="470.31" x2="377.98" y2="475.40" stroke="#1a1a1a" stroke-width="0.45"/>
<line x1="380.45" y1="473.18" x2="380.45" y2="477.77" stroke="#1a1a1a" stroke-width="0.45"/>
<line x1="382.92" y1="473.24" x2="382.92" y2="481.47" stroke="#1a1a1a" stroke-width="0.45"/>
<line x1="385.39" y1="476.12" x2="385.39" y2="481.91" stroke="#1a1a1a" stroke-width="0.45"/>
<line x1="387.86" y1="474.33" x2="387.86" y2="482.95" stroke="#1a1a1a" stroke-width="0.45"/>
<polyline points="269.30,480.21 271.77,485.59 274.24,481.67 276.71,483.68 279.18,484.67 281.65,486.18 284.12,486.02 286.59,486.94 289.06,485.65 291.53,487.11 294.00,487.95 296.47,483.68 298.94,486.57 301.41,483.30 303.88,484.99 306.35,483.79 308.82,484.23 311.29,483.02 313.76,482.43 316.23,475.44 318.70,470.17 321.17,467.20 323.64,467.16 326.11,463.84 328.58,464.26 331.05,467.35 333.52,468.82 335.99,465.14 338.46,469.28 340.93,467.09 343.40,468.26 345.87,470.24 348.34,468.93 350.81,471.04 353.28,470.81 355.75,472.49 358.22,475.97 360.69,477.69 363.16,476.51 365.63,474.84 368.10,474.64 370.57,472.75 373.04,474.08 375.51,472.82 377.98,472.85 380.45,475.48 382.92,477.36 385.39,479.01 387.86,478.64" fill="none" stroke="#1a1a1a" stroke-width="1.0" stroke-linejoin="round"/>
<polyline points="269.30,474.25 271.77,479.71 274.24,476.65 276.71,475.54 279.18,473.65 281.65,471.69 284.12,474.97 286.59,479.08 289.06,479.26 291.53,477.67 294.00,477.98 296.47,472.58 298.94,480.96 301.41,475.64 303.88,477.60 306.35,478.31 308.82,473.73 311.29,477.46 313.76,476.57 316.23,467.99 318.70,461.60 321.17,458.60 323.64,455.62 326.11,456.92 328.58,459.17 331.05,459.23 333.52,462.01 335.99,460.23 338.46,451.74 340.93,457.82 343.40,462.08 345.87,462.90 348.34,460.48 350.81,463.43 353.28,463.20 355.75,464.14 358.22,465.33 360.69,469.60 363.16,465.74 365.63,467.46 368.10,464.66 370.57,466.64 373.04,467.90 375.51,466.84 377.98,466.95 380.45,470.92 382.92,472.94 385.39,474.88 387.86,473.47" fill="none" stroke="#f03a22" stroke-width="0.45" stroke-linejoin="round"/>
<polyline points="269.30,479.89 271.77,483.24 274.24,482.56 276.71,480.25 279.18,478.26 281.65,478.09 284.12,480.18 286.59,483.71 289.06,484.48 291.53,483.67 294.00,481.70 296.47,479.54 298.94,484.56 301.41,481.80 303.88,484.10 306.35,481.89 308.82,480.03 311.29,482.27 313.76,482.13 316.23,471.54 318.70,465.29 321.17,462.76 323.64,462.50 326.11,461.14 328.58,465.35 331.05,466.02 333.52,468.85 335.99,464.97 338.46,456.51 340.93,463.19 343.40,468.33 345.87,466.80 348.34,466.63 350.81,469.76 353.28,469.75 355.75,467.79 358.22,472.19 360.69,473.44 363.16,470.46 365.63,473.14 368.10,471.41 370.57,471.36 373.04,474.67 375.51,472.28 377.98,471.57 380.45,475.56 382.92,477.09 385.39,478.68 387.86,477.52" fill="none" stroke="#f03a22" stroke-width="0.45" stroke-linejoin="round"/>
<line x1="269.30" y1="474.25" x2="269.30" y2="479.89" stroke="#f03a22" stroke-width="0.45"/>
<line x1="271.77" y1="479.71" x2="271.77" y2="483.24" stroke="#f03a22" stroke-width="0.45"/>
<line x1="274.24" y1="476.65" x2="274.24" y2="482.56" stroke="#f03a22" stroke-width="0.45"/>
<line x1="276.71" y1="475.54" x2="276.71" y2="480.25" stroke="#f03a22" stroke-width="0.45"/>
<line x1="279.18" y1="473.65" x2="279.18" y2="478.26" stroke="#f03a22" stroke-width="0.45"/>
<line x1="281.65" y1="471.69" x2="281.65" y2="478.09" stroke="#f03a22" stroke-width="0.45"/>
<line x1="284.12" y1="474.97" x2="284.12" y2="480.18" stroke="#f03a22" stroke-width="0.45"/>
<line x1="286.59" y1="479.08" x2="286.59" y2="483.71" stroke="#f03a22" stroke-width="0.45"/>
<line x1="289.06" y1="479.26" x2="289.06" y2="484.48" stroke="#f03a22" stroke-width="0.45"/>
<line x1="291.53" y1="477.67" x2="291.53" y2="483.67" stroke="#f03a22" stroke-width="0.45"/>
<line x1="294.00" y1="477.98" x2="294.00" y2="481.70" stroke="#f03a22" stroke-width="0.45"/>
<line x1="296.47" y1="472.58" x2="296.47" y2="479.54" stroke="#f03a22" stroke-width="0.45"/>
<line x1="298.94" y1="480.96" x2="298.94" y2="484.56" stroke="#f03a22" stroke-width="0.45"/>
<line x1="301.41" y1="475.64" x2="301.41" y2="481.80" stroke="#f03a22" stroke-width="0.45"/>
<line x1="303.88" y1="477.60" x2="303.88" y2="484.10" stroke="#f03a22" stroke-width="0.45"/>
<line x1="306.35" y1="478.31" x2="306.35" y2="481.89" stroke="#f03a22" stroke-width="0.45"/>
<line x1="308.82" y1="473.73" x2="308.82" y2="480.03" stroke="#f03a22" stroke-width="0.45"/>
<line x1="311.29" y1="477.46" x2="311.29" y2="482.27" stroke="#f03a22" stroke-width="0.45"/>
<line x1="313.76" y1="476.57" x2="313.76" y2="482.13" stroke="#f03a22" stroke-width="0.45"/>
<line x1="316.23" y1="467.99" x2="316.23" y2="471.54" stroke="#f03a22" stroke-width="0.45"/>
<line x1="318.70" y1="461.60" x2="318.70" y2="465.29" stroke="#f03a22" stroke-width="0.45"/>
<line x1="321.17" y1="458.60" x2="321.17" y2="462.76" stroke="#f03a22" stroke-width="0.45"/>
<line x1="323.64" y1="455.62" x2="323.64" y2="462.50" stroke="#f03a22" stroke-width="0.45"/>
<line x1="326.11" y1="456.92" x2="326.11" y2="461.14" stroke="#f03a22" stroke-width="0.45"/>
<line x1="328.58" y1="459.17" x2="328.58" y2="465.35" stroke="#f03a22" stroke-width="0.45"/>
<line x1="331.05" y1="459.23" x2="331.05" y2="466.02" stroke="#f03a22" stroke-width="0.45"/>
<line x1="333.52" y1="462.01" x2="333.52" y2="468.85" stroke="#f03a22" stroke-width="0.45"/>
<line x1="335.99" y1="460.23" x2="335.99" y2="464.97" stroke="#f03a22" stroke-width="0.45"/>
<line x1="338.46" y1="451.74" x2="338.46" y2="456.51" stroke="#f03a22" stroke-width="0.45"/>
<line x1="340.93" y1="457.82" x2="340.93" y2="463.19" stroke="#f03a22" stroke-width="0.45"/>
<line x1="343.40" y1="462.08" x2="343.40" y2="468.33" stroke="#f03a22" stroke-width="0.45"/>
<line x1="345.87" y1="462.90" x2="345.87" y2="466.80" stroke="#f03a22" stroke-width="0.45"/>
<line x1="348.34" y1="460.48" x2="348.34" y2="466.63" stroke="#f03a22" stroke-width="0.45"/>
<line x1="350.81" y1="463.43" x2="350.81" y2="469.76" stroke="#f03a22" stroke-width="0.45"/>
<line x1="353.28" y1="463.20" x2="353.28" y2="469.75" stroke="#f03a22" stroke-width="0.45"/>
<line x1="355.75" y1="464.14" x2="355.75" y2="467.79" stroke="#f03a22" stroke-width="0.45"/>
<line x1="358.22" y1="465.33" x2="358.22" y2="472.19" stroke="#f03a22" stroke-width="0.45"/>
<line x1="360.69" y1="469.60" x2="360.69" y2="473.44" stroke="#f03a22" stroke-width="0.45"/>
<line x1="363.16" y1="465.74" x2="363.16" y2="470.46" stroke="#f03a22" stroke-width="0.45"/>
<line x1="365.63" y1="467.46" x2="365.63" y2="473.14" stroke="#f03a22" stroke-width="0.45"/>
<line x1="368.10" y1="464.66" x2="368.10" y2="471.41" stroke="#f03a22" stroke-width="0.45"/>
<line x1="370.57" y1="466.64" x2="370.57" y2="471.36" stroke="#f03a22" stroke-width="0.45"/>
<line x1="373.04" y1="467.90" x2="373.04" y2="474.67" stroke="#f03a22" stroke-width="0.45"/>
<line x1="375.51" y1="466.84" x2="375.51" y2="472.28" stroke="#f03a22" stroke-width="0.45"/>
<line x1="377.98" y1="466.95" x2="377.98" y2="471.57" stroke="#f03a22" stroke-width="0.45"/>
<line x1="380.45" y1="470.92" x2="380.45" y2="475.56" stroke="#f03a22" stroke-width="0.45"/>
<line x1="382.92" y1="472.94" x2="382.92" y2="477.09" stroke="#f03a22" stroke-width="0.45"/>
<line x1="385.39" y1="474.88" x2="385.39" y2="478.68" stroke="#f03a22" stroke-width="0.45"/>
<line x1="387.86" y1="473.47" x2="387.86" y2="477.52" stroke="#f03a22" stroke-width="0.45"/>
<polyline points="269.30,477.07 271.77,481.47 274.24,479.60 276.71,477.90 279.18,475.96 281.65,474.89 284.12,477.58 286.59,481.40 289.06,481.87 291.53,480.67 294.00,479.84 296.47,476.06 298.94,482.76 301.41,478.72 303.88,480.85 306.35,480.10 308.82,476.88 311.29,479.86 313.76,479.35 316.23,469.76 318.70,463.44 321.17,460.68 323.64,459.06 326.11,459.03 328.58,462.26 331.05,462.62 333.52,465.43 335.99,462.60 338.46,454.13 340.93,460.51 343.40,465.21 345.87,464.85 348.34,463.56 350.81,466.59 353.28,466.48 355.75,465.97 358.22,468.76 360.69,471.52 363.16,468.10 365.63,470.30 368.10,468.03 370.57,469.00 373.04,471.29 375.51,469.56 377.98,469.26 380.45,473.24 382.92,475.02 385.39,476.78 387.86,475.50" fill="none" stroke="#f03a22" stroke-width="1.0" stroke-linejoin="round"/>
<line x1="274.80" y1="429.60" x2="283.60" y2="429.60" stroke="#222" stroke-width="0.9"/>
<line x1="279.20" y1="427.00" x2="279.20" y2="432.20" stroke="#222" stroke-width="0.7"/>
<text x="288.40" y="432.10" font-size="6.9">HFD</text>
<line x1="274.80" y1="438.50" x2="283.60" y2="438.50" stroke="#f4301a" stroke-width="0.9"/>
<line x1="279.20" y1="435.90" x2="279.20" y2="441.10" stroke="#f4301a" stroke-width="0.7"/>
<text x="288.40" y="441.00" font-size="6.9">HFD + SANA</text>
<text x="445.00" y="435.80" font-size="12" font-weight="bold" fill="#000" stroke="#000" stroke-width="0.5">k</text>
<line x1="481.10" y1="451.50" x2="481.10" y2="501.20" stroke="#8c8c8c" stroke-width="0.8"/>
<line x1="481.10" y1="509.60" x2="481.10" y2="525.90" stroke="#8c8c8c" stroke-width="0.8"/>
<line x1="479.20" y1="501.20" x2="483.00" y2="505.40" stroke="#8c8c8c" stroke-width="0.8"/>
<line x1="479.20" y1="507.20" x2="483.00" y2="511.40" stroke="#8c8c8c" stroke-width="0.8"/>
<line x1="478.90" y1="451.50" x2="481.10" y2="451.50" stroke="#8c8c8c" stroke-width="0.8"/>
<text x="475.30" y="454.38" font-size="8.0" text-anchor="end" textLength="16.04" lengthAdjust="spacingAndGlyphs">0.40</text>
<line x1="478.90" y1="467.90" x2="481.10" y2="467.90" stroke="#8c8c8c" stroke-width="0.8"/>
<text x="475.30" y="470.78" font-size="8.0" text-anchor="end" textLength="16.04" lengthAdjust="spacingAndGlyphs">0.35</text>
<line x1="478.90" y1="484.30" x2="481.10" y2="484.30" stroke="#8c8c8c" stroke-width="0.8"/>
<text x="475.30" y="487.18" font-size="8.0" text-anchor="end" textLength="16.04" lengthAdjust="spacingAndGlyphs">0.30</text>
<line x1="478.90" y1="501.20" x2="481.10" y2="501.20" stroke="#8c8c8c" stroke-width="0.8"/>
<text x="475.30" y="504.08" font-size="8.0" text-anchor="end" textLength="16.04" lengthAdjust="spacingAndGlyphs">0.25</text>
<line x1="478.90" y1="508.70" x2="481.10" y2="508.70" stroke="#8c8c8c" stroke-width="0.8"/>
<text x="475.30" y="511.58" font-size="8.0" text-anchor="end" textLength="16.04" lengthAdjust="spacingAndGlyphs">0.25</text>
<line x1="478.90" y1="525.90" x2="481.10" y2="525.90" stroke="#8c8c8c" stroke-width="0.8"/>
<text x="475.30" y="528.78" font-size="8.0" text-anchor="end" textLength="4.58" lengthAdjust="spacingAndGlyphs">0</text>
<line x1="481.10" y1="525.90" x2="593.80" y2="525.90" stroke="#8c8c8c" stroke-width="0.8"/>
<line x1="481.10" y1="525.90" x2="481.10" y2="528.10" stroke="#8c8c8c" stroke-width="0.8"/>
<text x="481.10" y="537.36" font-size="8.0" text-anchor="middle" textLength="9.16" lengthAdjust="spacingAndGlyphs">22</text>
<line x1="503.50" y1="525.90" x2="503.50" y2="528.10" stroke="#8c8c8c" stroke-width="0.8"/>
<text x="503.50" y="537.36" font-size="8.0" text-anchor="middle" textLength="9.16" lengthAdjust="spacingAndGlyphs">24</text>
<line x1="525.90" y1="525.90" x2="525.90" y2="528.10" stroke="#8c8c8c" stroke-width="0.8"/>
<text x="525.90" y="537.36" font-size="8.0" text-anchor="middle" textLength="9.16" lengthAdjust="spacingAndGlyphs">26</text>
<line x1="548.30" y1="525.90" x2="548.30" y2="528.10" stroke="#8c8c8c" stroke-width="0.8"/>
<text x="548.30" y="537.36" font-size="8.0" text-anchor="middle" textLength="9.16" lengthAdjust="spacingAndGlyphs">28</text>
<line x1="570.70" y1="525.90" x2="570.70" y2="528.10" stroke="#8c8c8c" stroke-width="0.8"/>
<text x="570.70" y="537.36" font-size="8.0" text-anchor="middle" textLength="9.16" lengthAdjust="spacingAndGlyphs">30</text>
<line x1="593.10" y1="525.90" x2="593.10" y2="528.10" stroke="#8c8c8c" stroke-width="0.8"/>
<text x="593.10" y="537.36" font-size="8.0" text-anchor="middle" textLength="9.16" lengthAdjust="spacingAndGlyphs">32</text>
<text x="537.10" y="550.50" font-size="8.6" text-anchor="middle">Weight (g)</text>
<text x="453.60" y="488.00" font-size="8.6" text-anchor="middle" transform="rotate(-90 453.60 488.00)">EE mean (Kcal h<tspan dy="-3" font-size="5.5">−1</tspan><tspan dy="3">)</tspan></text>
<line x1="497.80" y1="482.20" x2="592.00" y2="458.60" stroke="#111" stroke-width="0.9"/>
<line x1="497.80" y1="480.10" x2="586.60" y2="451.50" stroke="#f03a22" stroke-width="0.9"/>
<circle cx="497.90" cy="485.28" r="1.45" fill="#f4301a"/>
<circle cx="503.50" cy="478.72" r="1.45" fill="#f4301a"/>
<circle cx="522.54" cy="472.16" r="1.45" fill="#f4301a"/>
<circle cx="524.78" cy="478.07" r="1.45" fill="#f4301a"/>
<circle cx="529.26" cy="463.31" r="1.45" fill="#f4301a"/>
<circle cx="533.74" cy="456.42" r="1.45" fill="#f4301a"/>
<circle cx="534.86" cy="463.31" r="1.45" fill="#f4301a"/>
<circle cx="549.42" cy="471.84" r="1.45" fill="#f4301a"/>
<circle cx="550.54" cy="465.28" r="1.45" fill="#f4301a"/>
<circle cx="550.54" cy="463.31" r="1.45" fill="#f4301a"/>
<circle cx="561.74" cy="451.17" r="1.45" fill="#f4301a"/>
<circle cx="590.86" cy="455.11" r="1.45" fill="#f4301a"/>
<circle cx="497.90" cy="481.35" r="1.45" fill="#111"/>
<circle cx="516.94" cy="472.82" r="1.45" fill="#111"/>
<circle cx="520.30" cy="474.79" r="1.45" fill="#111"/>
<circle cx="522.54" cy="475.77" r="1.45" fill="#111"/>
<circle cx="523.66" cy="491.84" r="1.45" fill="#111"/>
<circle cx="525.90" cy="472.16" r="1.45" fill="#111"/>
<circle cx="531.50" cy="475.12" r="1.45" fill="#111"/>
<circle cx="535.98" cy="472.16" r="1.45" fill="#111"/>
<circle cx="538.22" cy="465.93" r="1.45" fill="#111"/>
<circle cx="540.46" cy="478.72" r="1.45" fill="#111"/>
<circle cx="547.18" cy="464.62" r="1.45" fill="#111"/>
<circle cx="563.42" cy="468.88" r="1.45" fill="#111"/>
<circle cx="591.98" cy="457.73" r="1.45" fill="#111"/>
<text x="569.50" y="485.20" font-size="6.9" textLength="31.5" lengthAdjust="spacingAndGlyphs">P = 0.035</text>
<line x1="569.50" y1="505.10" x2="576.60" y2="505.10" stroke="#111" stroke-width="0.9"/>
<circle cx="573.00" cy="505.10" r="1.3" fill="#111"/>
<text x="582.30" y="507.60" font-size="6.9">HFD</text>
<line x1="569.50" y1="514.10" x2="576.60" y2="514.10" stroke="#f4301a" stroke-width="0.9"/>
<circle cx="573.00" cy="514.10" r="1.3" fill="#f4301a"/>
<text x="582.30" y="516.60" font-size="6.9">HFD + SANA</text>
<text x="0.50" y="575.80" font-size="12" font-weight="bold" fill="#000" stroke="#000" stroke-width="0.5">l</text>
<line x1="43.00" y1="585.42" x2="43.00" y2="663.66" stroke="#8c8c8c" stroke-width="0.8"/>
<line x1="40.80" y1="585.42" x2="43.00" y2="585.42" stroke="#8c8c8c" stroke-width="0.8"/>
<text x="37.20" y="588.30" font-size="8.0" text-anchor="end" textLength="16.04" lengthAdjust="spacingAndGlyphs">0.06</text>
<line x1="40.80" y1="604.98" x2="43.00" y2="604.98" stroke="#8c8c8c" stroke-width="0.8"/>
<text x="37.20" y="607.86" font-size="8.0" text-anchor="end" textLength="16.04" lengthAdjust="spacingAndGlyphs">0.04</text>
<line x1="40.80" y1="624.54" x2="43.00" y2="624.54" stroke="#8c8c8c" stroke-width="0.8"/>
<text x="37.20" y="627.42" font-size="8.0" text-anchor="end" textLength="16.04" lengthAdjust="spacingAndGlyphs">0.02</text>
<line x1="40.80" y1="644.10" x2="43.00" y2="644.10" stroke="#8c8c8c" stroke-width="0.8"/>
<text x="37.20" y="646.98" font-size="8.0" text-anchor="end" textLength="4.58" lengthAdjust="spacingAndGlyphs">0</text>
<line x1="40.80" y1="663.66" x2="43.00" y2="663.66" stroke="#8c8c8c" stroke-width="0.8"/>
<text x="37.20" y="666.54" font-size="8.0" text-anchor="end" textLength="18.78" lengthAdjust="spacingAndGlyphs">-0.02</text>
<line x1="43.00" y1="644.10" x2="162.90" y2="644.10" stroke="#8c8c8c" stroke-width="0.8"/>
<line x1="67.20" y1="644.10" x2="67.20" y2="646.30" stroke="#8c8c8c" stroke-width="0.8"/>
<text x="67.20" y="655.50" font-size="8.0" text-anchor="middle" textLength="4.58" lengthAdjust="spacingAndGlyphs">1</text>
<line x1="90.70" y1="644.10" x2="90.70" y2="646.30" stroke="#8c8c8c" stroke-width="0.8"/>
<text x="90.70" y="655.50" font-size="8.0" text-anchor="middle" textLength="4.58" lengthAdjust="spacingAndGlyphs">2</text>
<line x1="114.20" y1="644.10" x2="114.20" y2="646.30" stroke="#8c8c8c" stroke-width="0.8"/>
<text x="114.20" y="655.50" font-size="8.0" text-anchor="middle" textLength="4.58" lengthAdjust="spacingAndGlyphs">3</text>
<line x1="137.70" y1="644.10" x2="137.70" y2="646.30" stroke="#8c8c8c" stroke-width="0.8"/>
<text x="137.70" y="655.50" font-size="8.0" text-anchor="middle" textLength="4.58" lengthAdjust="spacingAndGlyphs">4</text>
<line x1="161.20" y1="644.10" x2="161.20" y2="646.30" stroke="#8c8c8c" stroke-width="0.8"/>
<text x="161.20" y="655.50" font-size="8.0" text-anchor="middle" textLength="4.58" lengthAdjust="spacingAndGlyphs">5</text>
<line x1="47.00" y1="666.80" x2="90.00" y2="666.80" stroke="#333" stroke-width="0.8"/>
<line x1="94.00" y1="666.80" x2="162.90" y2="666.80" stroke="#333" stroke-width="0.8"/>
<text x="68.70" y="675.60" font-size="6.9" text-anchor="middle">ND</text>
<text x="128.80" y="675.60" font-size="6.9" text-anchor="middle">HFD</text>
<text x="105.50" y="689.00" font-size="8.6" text-anchor="middle">Time (days)</text>
<text x="11.60" y="620.50" font-size="8.6" text-anchor="middle" transform="rotate(-90 11.60 620.50)">ΔEE (kcal hr<tspan dy="-3" font-size="5.5">−1</tspan><tspan dy="3">)</tspan></text>
<line x1="90.70" y1="637.25" x2="90.70" y2="648.99" stroke="#f4301a" stroke-width="0.7"/>
<line x1="88.70" y1="637.25" x2="92.70" y2="637.25" stroke="#f4301a" stroke-width="0.7"/>
<line x1="88.70" y1="648.99" x2="92.70" y2="648.99" stroke="#f4301a" stroke-width="0.7"/>
<line x1="161.20" y1="596.67" x2="161.20" y2="607.43" stroke="#f4301a" stroke-width="0.7"/>
<line x1="159.20" y1="596.67" x2="163.20" y2="596.67" stroke="#f4301a" stroke-width="0.7"/>
<line x1="159.20" y1="607.43" x2="163.20" y2="607.43" stroke="#f4301a" stroke-width="0.7"/>
<line x1="90.70" y1="641.65" x2="90.70" y2="645.57" stroke="#222" stroke-width="0.7"/>
<line x1="88.70" y1="641.65" x2="92.70" y2="641.65" stroke="#222" stroke-width="0.7"/>
<line x1="88.70" y1="645.57" x2="92.70" y2="645.57" stroke="#222" stroke-width="0.7"/>
<line x1="161.20" y1="617.69" x2="161.20" y2="623.56" stroke="#222" stroke-width="0.7"/>
<line x1="159.20" y1="617.69" x2="163.20" y2="617.69" stroke="#222" stroke-width="0.7"/>
<line x1="159.20" y1="623.56" x2="163.20" y2="623.56" stroke="#222" stroke-width="0.7"/>
<polyline points="43.70,644.10 90.70,643.61 161.20,620.63" fill="none" stroke="#111" stroke-width="1.0" stroke-linejoin="round"/>
<polyline points="43.70,643.61 90.70,642.93 161.20,602.05" fill="none" stroke="#f4301a" stroke-width="1.0" stroke-linejoin="round"/>
<circle cx="43.70" cy="643.61" r="1.6" fill="#f4301a"/>
<circle cx="90.70" cy="642.93" r="1.6" fill="#f4301a"/>
<circle cx="161.20" cy="602.05" r="1.6" fill="#f4301a"/>
<circle cx="43.70" cy="644.10" r="1.6" fill="#111"/>
<circle cx="90.70" cy="643.61" r="1.6" fill="#111"/>
<circle cx="161.20" cy="620.63" r="1.6" fill="#111"/>
<line x1="52.00" y1="590.70" x2="60.00" y2="590.70" stroke="#111" stroke-width="0.9"/>
<circle cx="56.00" cy="590.70" r="1.3" fill="#111"/>
<text x="65.20" y="593.20" font-size="6.9">CTL</text>
<line x1="52.00" y1="599.80" x2="60.00" y2="599.80" stroke="#f4301a" stroke-width="0.9"/>
<circle cx="56.00" cy="599.80" r="1.3" fill="#f4301a"/>
<text x="65.20" y="602.30" font-size="6.9">SANA</text>
<text x="79.70" y="627.80" font-size="6.9" textLength="27.2" lengthAdjust="spacingAndGlyphs"><tspan font-style="italic">P</tspan> = 0.89</text>
<text x="144.40" y="586.70" font-size="6.9" textLength="29.6" lengthAdjust="spacingAndGlyphs"><tspan font-style="italic">P</tspan> = 0.011</text>
<text x="228.00" y="576.20" font-size="12" font-weight="bold" fill="#000" stroke="#000" stroke-width="0.5">m</text>
<line x1="268.80" y1="588.06" x2="268.80" y2="665.90" stroke="#8c8c8c" stroke-width="0.8"/>
<line x1="266.60" y1="588.06" x2="268.80" y2="588.06" stroke="#8c8c8c" stroke-width="0.8"/>
<text x="263.00" y="590.94" font-size="8.0" text-anchor="end" textLength="11.45" lengthAdjust="spacingAndGlyphs">0.8</text>
<line x1="266.60" y1="607.52" x2="268.80" y2="607.52" stroke="#8c8c8c" stroke-width="0.8"/>
<text x="263.00" y="610.40" font-size="8.0" text-anchor="end" textLength="11.45" lengthAdjust="spacingAndGlyphs">0.6</text>
<line x1="266.60" y1="626.98" x2="268.80" y2="626.98" stroke="#8c8c8c" stroke-width="0.8"/>
<text x="263.00" y="629.86" font-size="8.0" text-anchor="end" textLength="11.45" lengthAdjust="spacingAndGlyphs">0.4</text>
<line x1="266.60" y1="646.44" x2="268.80" y2="646.44" stroke="#8c8c8c" stroke-width="0.8"/>
<text x="263.00" y="649.32" font-size="8.0" text-anchor="end" textLength="11.45" lengthAdjust="spacingAndGlyphs">0.2</text>
<line x1="266.60" y1="665.90" x2="268.80" y2="665.90" stroke="#8c8c8c" stroke-width="0.8"/>
<text x="263.00" y="668.78" font-size="8.0" text-anchor="end" textLength="4.58" lengthAdjust="spacingAndGlyphs">0</text>
<line x1="268.80" y1="665.90" x2="387.60" y2="665.90" stroke="#8c8c8c" stroke-width="0.8"/>
<line x1="268.80" y1="665.90" x2="268.80" y2="668.10" stroke="#8c8c8c" stroke-width="0.8"/>
<text x="268.80" y="677.36" font-size="8.0" text-anchor="middle" textLength="4.58" lengthAdjust="spacingAndGlyphs">0</text>
<line x1="285.70" y1="665.90" x2="285.70" y2="668.10" stroke="#8c8c8c" stroke-width="0.8"/>
<text x="285.70" y="677.36" font-size="8.0" text-anchor="middle" textLength="4.58" lengthAdjust="spacingAndGlyphs">1</text>
<line x1="302.60" y1="665.90" x2="302.60" y2="668.10" stroke="#8c8c8c" stroke-width="0.8"/>
<text x="302.60" y="677.36" font-size="8.0" text-anchor="middle" textLength="4.58" lengthAdjust="spacingAndGlyphs">2</text>
<line x1="319.50" y1="665.90" x2="319.50" y2="668.10" stroke="#8c8c8c" stroke-width="0.8"/>
<text x="319.50" y="677.36" font-size="8.0" text-anchor="middle" textLength="4.58" lengthAdjust="spacingAndGlyphs">3</text>
<line x1="336.40" y1="665.90" x2="336.40" y2="668.10" stroke="#8c8c8c" stroke-width="0.8"/>
<text x="336.40" y="677.36" font-size="8.0" text-anchor="middle" textLength="4.58" lengthAdjust="spacingAndGlyphs">4</text>
<line x1="353.30" y1="665.90" x2="353.30" y2="668.10" stroke="#8c8c8c" stroke-width="0.8"/>
<text x="353.30" y="677.36" font-size="8.0" text-anchor="middle" textLength="4.58" lengthAdjust="spacingAndGlyphs">5</text>
<line x1="370.20" y1="665.90" x2="370.20" y2="668.10" stroke="#8c8c8c" stroke-width="0.8"/>
<text x="370.20" y="677.36" font-size="8.0" text-anchor="middle" textLength="4.58" lengthAdjust="spacingAndGlyphs">6</text>
<line x1="387.10" y1="665.90" x2="387.10" y2="668.10" stroke="#8c8c8c" stroke-width="0.8"/>
<text x="387.10" y="677.36" font-size="8.0" text-anchor="middle" textLength="4.58" lengthAdjust="spacingAndGlyphs">7</text>
<text x="328.50" y="690.80" font-size="8.6" text-anchor="middle">Time (h)</text>
<text x="235.40" y="627.40" font-size="8.6" text-anchor="middle" transform="rotate(-90 235.40 627.40)">CL-induced EE</text>
<text x="245.00" y="627.40" font-size="8.6" text-anchor="middle" transform="rotate(-90 245.00 627.40)">(kcal h<tspan dy="-3" font-size="5.5">−1</tspan><tspan dy="3">)</tspan></text>
<polyline points="268.80,635.74 274.38,633.79 280.12,636.71 285.70,633.30 294.15,638.66 302.60,634.76 311.05,634.76 319.50,624.06 327.95,623.09 336.40,620.17 344.85,618.22 353.30,614.33 361.75,612.38 370.20,610.44 378.65,614.33 387.10,614.82" fill="none" stroke="#222" stroke-width="0.55" stroke-linejoin="round" stroke-dasharray="1.6,0.9"/>
<polyline points="268.80,639.63 274.38,637.68 280.12,640.60 285.70,637.20 294.15,642.55 302.60,636.71 311.05,636.71 319.50,631.85 327.95,632.82 336.40,629.90 344.85,627.95 353.30,624.06 361.75,620.17 370.20,618.22 378.65,616.28 387.10,616.76" fill="none" stroke="#222" stroke-width="0.55" stroke-linejoin="round" stroke-dasharray="1.6,0.9"/>
<polyline points="268.80,637.68 274.38,635.74 280.12,638.66 285.70,635.25 294.15,640.60 302.60,635.74 311.05,635.74 319.50,627.95 327.95,627.95 336.40,625.03 344.85,623.09 353.30,619.20 361.75,616.28 370.20,614.33 378.65,615.30 387.10,615.79" fill="none" stroke="#222" stroke-width="1.0" stroke-linejoin="round"/>
<line x1="268.80" y1="635.74" x2="268.80" y2="639.63" stroke="#222" stroke-width="0.6"/>
<line x1="267.60" y1="635.74" x2="270.00" y2="635.74" stroke="#222" stroke-width="0.5"/>
<line x1="267.60" y1="639.63" x2="270.00" y2="639.63" stroke="#222" stroke-width="0.5"/>
<line x1="274.38" y1="633.79" x2="274.38" y2="637.68" stroke="#222" stroke-width="0.6"/>
<line x1="273.18" y1="633.79" x2="275.58" y2="633.79" stroke="#222" stroke-width="0.5"/>
<line x1="273.18" y1="637.68" x2="275.58" y2="637.68" stroke="#222" stroke-width="0.5"/>
<line x1="280.12" y1="636.71" x2="280.12" y2="640.60" stroke="#222" stroke-width="0.6"/>
<line x1="278.92" y1="636.71" x2="281.32" y2="636.71" stroke="#222" stroke-width="0.5"/>
<line x1="278.92" y1="640.60" x2="281.32" y2="640.60" stroke="#222" stroke-width="0.5"/>
<line x1="285.70" y1="633.30" x2="285.70" y2="637.20" stroke="#222" stroke-width="0.6"/>
<line x1="284.50" y1="633.30" x2="286.90" y2="633.30" stroke="#222" stroke-width="0.5"/>
<line x1="284.50" y1="637.20" x2="286.90" y2="637.20" stroke="#222" stroke-width="0.5"/>
<line x1="294.15" y1="638.66" x2="294.15" y2="642.55" stroke="#222" stroke-width="0.6"/>
<line x1="292.95" y1="638.66" x2="295.35" y2="638.66" stroke="#222" stroke-width="0.5"/>
<line x1="292.95" y1="642.55" x2="295.35" y2="642.55" stroke="#222" stroke-width="0.5"/>
<line x1="302.60" y1="634.76" x2="302.60" y2="636.71" stroke="#222" stroke-width="0.6"/>
<line x1="301.40" y1="634.76" x2="303.80" y2="634.76" stroke="#222" stroke-width="0.5"/>
<line x1="301.40" y1="636.71" x2="303.80" y2="636.71" stroke="#222" stroke-width="0.5"/>
<line x1="311.05" y1="634.76" x2="311.05" y2="636.71" stroke="#222" stroke-width="0.6"/>
<line x1="309.85" y1="634.76" x2="312.25" y2="634.76" stroke="#222" stroke-width="0.5"/>
<line x1="309.85" y1="636.71" x2="312.25" y2="636.71" stroke="#222" stroke-width="0.5"/>
<line x1="319.50" y1="626.01" x2="319.50" y2="629.90" stroke="#222" stroke-width="0.6"/>
<line x1="318.30" y1="626.01" x2="320.70" y2="626.01" stroke="#222" stroke-width="0.5"/>
<line x1="318.30" y1="629.90" x2="320.70" y2="629.90" stroke="#222" stroke-width="0.5"/>
<line x1="327.95" y1="626.01" x2="327.95" y2="629.90" stroke="#222" stroke-width="0.6"/>
<line x1="326.75" y1="626.01" x2="329.15" y2="626.01" stroke="#222" stroke-width="0.5"/>
<line x1="326.75" y1="629.90" x2="329.15" y2="629.90" stroke="#222" stroke-width="0.5"/>
<line x1="336.40" y1="623.09" x2="336.40" y2="626.98" stroke="#222" stroke-width="0.6"/>
<line x1="335.20" y1="623.09" x2="337.60" y2="623.09" stroke="#222" stroke-width="0.5"/>
<line x1="335.20" y1="626.98" x2="337.60" y2="626.98" stroke="#222" stroke-width="0.5"/>
<line x1="344.85" y1="621.14" x2="344.85" y2="625.03" stroke="#222" stroke-width="0.6"/>
<line x1="343.65" y1="621.14" x2="346.05" y2="621.14" stroke="#222" stroke-width="0.5"/>
<line x1="343.65" y1="625.03" x2="346.05" y2="625.03" stroke="#222" stroke-width="0.5"/>
<line x1="353.30" y1="617.25" x2="353.30" y2="621.14" stroke="#222" stroke-width="0.6"/>
<line x1="352.10" y1="617.25" x2="354.50" y2="617.25" stroke="#222" stroke-width="0.5"/>
<line x1="352.10" y1="621.14" x2="354.50" y2="621.14" stroke="#222" stroke-width="0.5"/>
<line x1="361.75" y1="614.33" x2="361.75" y2="618.22" stroke="#222" stroke-width="0.6"/>
<line x1="360.55" y1="614.33" x2="362.95" y2="614.33" stroke="#222" stroke-width="0.5"/>
<line x1="360.55" y1="618.22" x2="362.95" y2="618.22" stroke="#222" stroke-width="0.5"/>
<line x1="370.20" y1="612.38" x2="370.20" y2="616.28" stroke="#222" stroke-width="0.6"/>
<line x1="369.00" y1="612.38" x2="371.40" y2="612.38" stroke="#222" stroke-width="0.5"/>
<line x1="369.00" y1="616.28" x2="371.40" y2="616.28" stroke="#222" stroke-width="0.5"/>
<line x1="378.65" y1="614.33" x2="378.65" y2="616.28" stroke="#222" stroke-width="0.6"/>
<line x1="377.45" y1="614.33" x2="379.85" y2="614.33" stroke="#222" stroke-width="0.5"/>
<line x1="377.45" y1="616.28" x2="379.85" y2="616.28" stroke="#222" stroke-width="0.5"/>
<line x1="387.10" y1="614.82" x2="387.10" y2="616.76" stroke="#222" stroke-width="0.6"/>
<line x1="385.90" y1="614.82" x2="388.30" y2="614.82" stroke="#222" stroke-width="0.5"/>
<line x1="385.90" y1="616.76" x2="388.30" y2="616.76" stroke="#222" stroke-width="0.5"/>
<polyline points="268.80,636.71 274.38,635.74 280.12,633.79 285.70,634.76 294.15,634.76 302.60,634.76 311.05,630.87 319.50,616.28 327.95,610.93 336.40,607.03 344.85,608.01 353.30,607.52 361.75,607.52 370.20,605.57 378.65,603.14 387.10,603.14" fill="none" stroke="#f04a30" stroke-width="0.55" stroke-linejoin="round" stroke-dasharray="1.6,0.9"/>
<polyline points="268.80,638.66 274.38,637.68 280.12,635.74 285.70,636.71 294.15,636.71 302.60,636.71 311.05,634.76 319.50,622.12 327.95,617.74 336.40,613.84 344.85,613.84 353.30,613.36 361.75,613.36 370.20,611.41 378.65,608.98 387.10,608.01" fill="none" stroke="#f04a30" stroke-width="0.55" stroke-linejoin="round" stroke-dasharray="1.6,0.9"/>
<polyline points="268.80,637.68 274.38,636.71 280.12,634.76 285.70,635.74 294.15,635.74 302.60,635.74 311.05,632.82 319.50,619.20 327.95,614.33 336.40,610.44 344.85,610.93 353.30,610.44 361.75,610.44 370.20,608.49 378.65,606.06 387.10,605.57" fill="none" stroke="#f04a30" stroke-width="1.0" stroke-linejoin="round"/>
<line x1="268.80" y1="636.71" x2="268.80" y2="638.66" stroke="#f04a30" stroke-width="0.6"/>
<line x1="267.60" y1="636.71" x2="270.00" y2="636.71" stroke="#f04a30" stroke-width="0.5"/>
<line x1="267.60" y1="638.66" x2="270.00" y2="638.66" stroke="#f04a30" stroke-width="0.5"/>
<line x1="274.38" y1="635.74" x2="274.38" y2="637.68" stroke="#f04a30" stroke-width="0.6"/>
<line x1="273.18" y1="635.74" x2="275.58" y2="635.74" stroke="#f04a30" stroke-width="0.5"/>
<line x1="273.18" y1="637.68" x2="275.58" y2="637.68" stroke="#f04a30" stroke-width="0.5"/>
<line x1="280.12" y1="633.79" x2="280.12" y2="635.74" stroke="#f04a30" stroke-width="0.6"/>
<line x1="278.92" y1="633.79" x2="281.32" y2="633.79" stroke="#f04a30" stroke-width="0.5"/>
<line x1="278.92" y1="635.74" x2="281.32" y2="635.74" stroke="#f04a30" stroke-width="0.5"/>
<line x1="285.70" y1="634.76" x2="285.70" y2="636.71" stroke="#f04a30" stroke-width="0.6"/>
<line x1="284.50" y1="634.76" x2="286.90" y2="634.76" stroke="#f04a30" stroke-width="0.5"/>
<line x1="284.50" y1="636.71" x2="286.90" y2="636.71" stroke="#f04a30" stroke-width="0.5"/>
<line x1="294.15" y1="634.76" x2="294.15" y2="636.71" stroke="#f04a30" stroke-width="0.6"/>
<line x1="292.95" y1="634.76" x2="295.35" y2="634.76" stroke="#f04a30" stroke-width="0.5"/>
<line x1="292.95" y1="636.71" x2="295.35" y2="636.71" stroke="#f04a30" stroke-width="0.5"/>
<line x1="302.60" y1="634.76" x2="302.60" y2="636.71" stroke="#f04a30" stroke-width="0.6"/>
<line x1="301.40" y1="634.76" x2="303.80" y2="634.76" stroke="#f04a30" stroke-width="0.5"/>
<line x1="301.40" y1="636.71" x2="303.80" y2="636.71" stroke="#f04a30" stroke-width="0.5"/>
<line x1="311.05" y1="630.87" x2="311.05" y2="634.76" stroke="#f04a30" stroke-width="0.6"/>
<line x1="309.85" y1="630.87" x2="312.25" y2="630.87" stroke="#f04a30" stroke-width="0.5"/>
<line x1="309.85" y1="634.76" x2="312.25" y2="634.76" stroke="#f04a30" stroke-width="0.5"/>
<line x1="319.50" y1="617.25" x2="319.50" y2="621.14" stroke="#f04a30" stroke-width="0.6"/>
<line x1="318.30" y1="617.25" x2="320.70" y2="617.25" stroke="#f04a30" stroke-width="0.5"/>
<line x1="318.30" y1="621.14" x2="320.70" y2="621.14" stroke="#f04a30" stroke-width="0.5"/>
<line x1="327.95" y1="612.38" x2="327.95" y2="616.28" stroke="#f04a30" stroke-width="0.6"/>
<line x1="326.75" y1="612.38" x2="329.15" y2="612.38" stroke="#f04a30" stroke-width="0.5"/>
<line x1="326.75" y1="616.28" x2="329.15" y2="616.28" stroke="#f04a30" stroke-width="0.5"/>
<line x1="336.40" y1="608.49" x2="336.40" y2="612.38" stroke="#f04a30" stroke-width="0.6"/>
<line x1="335.20" y1="608.49" x2="337.60" y2="608.49" stroke="#f04a30" stroke-width="0.5"/>
<line x1="335.20" y1="612.38" x2="337.60" y2="612.38" stroke="#f04a30" stroke-width="0.5"/>
<line x1="344.85" y1="608.98" x2="344.85" y2="612.87" stroke="#f04a30" stroke-width="0.6"/>
<line x1="343.65" y1="608.98" x2="346.05" y2="608.98" stroke="#f04a30" stroke-width="0.5"/>
<line x1="343.65" y1="612.87" x2="346.05" y2="612.87" stroke="#f04a30" stroke-width="0.5"/>
<line x1="353.30" y1="608.49" x2="353.30" y2="612.38" stroke="#f04a30" stroke-width="0.6"/>
<line x1="352.10" y1="608.49" x2="354.50" y2="608.49" stroke="#f04a30" stroke-width="0.5"/>
<line x1="352.10" y1="612.38" x2="354.50" y2="612.38" stroke="#f04a30" stroke-width="0.5"/>
<line x1="361.75" y1="608.49" x2="361.75" y2="612.38" stroke="#f04a30" stroke-width="0.6"/>
<line x1="360.55" y1="608.49" x2="362.95" y2="608.49" stroke="#f04a30" stroke-width="0.5"/>
<line x1="360.55" y1="612.38" x2="362.95" y2="612.38" stroke="#f04a30" stroke-width="0.5"/>
<line x1="370.20" y1="606.55" x2="370.20" y2="610.44" stroke="#f04a30" stroke-width="0.6"/>
<line x1="369.00" y1="606.55" x2="371.40" y2="606.55" stroke="#f04a30" stroke-width="0.5"/>
<line x1="369.00" y1="610.44" x2="371.40" y2="610.44" stroke="#f04a30" stroke-width="0.5"/>
<line x1="378.65" y1="604.11" x2="378.65" y2="608.01" stroke="#f04a30" stroke-width="0.6"/>
<line x1="377.45" y1="604.11" x2="379.85" y2="604.11" stroke="#f04a30" stroke-width="0.5"/>
<line x1="377.45" y1="608.01" x2="379.85" y2="608.01" stroke="#f04a30" stroke-width="0.5"/>
<line x1="387.10" y1="603.63" x2="387.10" y2="607.52" stroke="#f04a30" stroke-width="0.6"/>
<line x1="385.90" y1="603.63" x2="388.30" y2="603.63" stroke="#f04a30" stroke-width="0.5"/>
<line x1="385.90" y1="607.52" x2="388.30" y2="607.52" stroke="#f04a30" stroke-width="0.5"/>
<line x1="276.00" y1="580.60" x2="284.80" y2="580.60" stroke="#222" stroke-width="0.9"/>
<line x1="280.40" y1="578.00" x2="280.40" y2="583.20" stroke="#222" stroke-width="0.7"/>
<text x="290.00" y="583.10" font-size="6.9">HFD</text>
<line x1="276.00" y1="589.60" x2="284.80" y2="589.60" stroke="#f4301a" stroke-width="0.9"/>
<line x1="280.40" y1="587.00" x2="280.40" y2="592.20" stroke="#f4301a" stroke-width="0.7"/>
<text x="290.00" y="592.10" font-size="6.9">HFD + SANA</text>
<text x="446.00" y="575.50" font-size="12" font-weight="bold" fill="#000" stroke="#000" stroke-width="0.5">n</text>
<line x1="477.90" y1="590.70" x2="477.90" y2="666.10" stroke="#8c8c8c" stroke-width="0.8"/>
<line x1="475.70" y1="590.70" x2="477.90" y2="590.70" stroke="#8c8c8c" stroke-width="0.8"/>
<text x="472.10" y="593.58" font-size="8.0" text-anchor="end" textLength="11.45" lengthAdjust="spacingAndGlyphs">0.5</text>
<line x1="475.70" y1="605.78" x2="477.90" y2="605.78" stroke="#8c8c8c" stroke-width="0.8"/>
<text x="472.10" y="608.66" font-size="8.0" text-anchor="end" textLength="11.45" lengthAdjust="spacingAndGlyphs">0.4</text>
<line x1="475.70" y1="620.86" x2="477.90" y2="620.86" stroke="#8c8c8c" stroke-width="0.8"/>
<text x="472.10" y="623.74" font-size="8.0" text-anchor="end" textLength="11.45" lengthAdjust="spacingAndGlyphs">0.3</text>
<line x1="475.70" y1="635.94" x2="477.90" y2="635.94" stroke="#8c8c8c" stroke-width="0.8"/>
<text x="472.10" y="638.82" font-size="8.0" text-anchor="end" textLength="11.45" lengthAdjust="spacingAndGlyphs">0.2</text>
<line x1="475.70" y1="651.02" x2="477.90" y2="651.02" stroke="#8c8c8c" stroke-width="0.8"/>
<text x="472.10" y="653.90" font-size="8.0" text-anchor="end" textLength="11.45" lengthAdjust="spacingAndGlyphs">0.1</text>
<line x1="475.70" y1="666.10" x2="477.90" y2="666.10" stroke="#8c8c8c" stroke-width="0.8"/>
<text x="472.10" y="668.98" font-size="8.0" text-anchor="end" textLength="4.58" lengthAdjust="spacingAndGlyphs">0</text>
<line x1="477.90" y1="666.10" x2="592.00" y2="666.10" stroke="#8c8c8c" stroke-width="0.8"/>
<line x1="478.30" y1="666.10" x2="478.30" y2="668.30" stroke="#8c8c8c" stroke-width="0.8"/>
<text x="478.30" y="677.56" font-size="8.0" text-anchor="middle" textLength="9.16" lengthAdjust="spacingAndGlyphs">24</text>
<line x1="516.20" y1="666.10" x2="516.20" y2="668.30" stroke="#8c8c8c" stroke-width="0.8"/>
<text x="516.20" y="677.56" font-size="8.0" text-anchor="middle" textLength="9.16" lengthAdjust="spacingAndGlyphs">26</text>
<line x1="554.10" y1="666.10" x2="554.10" y2="668.30" stroke="#8c8c8c" stroke-width="0.8"/>
<text x="554.10" y="677.56" font-size="8.0" text-anchor="middle" textLength="9.16" lengthAdjust="spacingAndGlyphs">28</text>
<line x1="592.00" y1="666.10" x2="592.00" y2="668.30" stroke="#8c8c8c" stroke-width="0.8"/>
<text x="592.00" y="677.56" font-size="8.0" text-anchor="middle" textLength="9.16" lengthAdjust="spacingAndGlyphs">30</text>
<text x="534.80" y="690.50" font-size="8.6" text-anchor="middle">Weight (g)</text>
<text x="454.30" y="629.70" font-size="8.6" text-anchor="middle" transform="rotate(-90 454.30 629.70)">CL-induced EE (Kcal h<tspan dy="-3" font-size="5.5">−1</tspan><tspan dy="3">)</tspan></text>
<line x1="510.51" y1="613.62" x2="580.63" y2="597.94" stroke="#111" stroke-width="0.9"/>
<line x1="518.10" y1="594.47" x2="557.89" y2="597.94" stroke="#f03a22" stroke-width="0.9"/>
<circle cx="510.51" cy="612.26" r="1.45" fill="#111"/>
<circle cx="525.67" cy="618.30" r="1.45" fill="#111"/>
<circle cx="537.05" cy="603.52" r="1.45" fill="#111"/>
<circle cx="552.20" cy="597.94" r="1.45" fill="#111"/>
<circle cx="580.63" cy="602.46" r="1.45" fill="#111"/>
<circle cx="518.10" cy="594.92" r="1.45" fill="#f4301a"/>
<circle cx="521.88" cy="592.66" r="1.45" fill="#f4301a"/>
<circle cx="529.47" cy="592.66" r="1.45" fill="#f4301a"/>
<circle cx="531.36" cy="608.80" r="1.45" fill="#f4301a"/>
<circle cx="556.00" cy="595.68" r="1.45" fill="#f4301a"/>
<circle cx="557.89" cy="597.94" r="1.45" fill="#f4301a"/>
<text x="485.90" y="627.80" font-size="6.9" textLength="31.2" lengthAdjust="spacingAndGlyphs"><tspan font-style="italic">P</tspan> = 0.042</text>
<line x1="595.60" y1="585.80" x2="604.50" y2="585.80" stroke="#111" stroke-width="0.9"/>
<circle cx="600.00" cy="585.80" r="1.3" fill="#111"/>
<text x="608.10" y="588.30" font-size="6.9">HFD</text>
<line x1="595.60" y1="594.70" x2="604.50" y2="594.70" stroke="#f4301a" stroke-width="0.9"/>
<circle cx="600.00" cy="594.70" r="1.3" fill="#f4301a"/>
<text x="608.10" y="597.20" font-size="6.9">HFD + SANA</text>
<text x="228.40" y="710.50" font-size="12" font-weight="bold" fill="#000" stroke="#000" stroke-width="0.5">p</text>
<line x1="267.60" y1="721.40" x2="267.60" y2="755.20" stroke="#8c8c8c" stroke-width="0.8"/>
<line x1="267.60" y1="765.60" x2="267.60" y2="799.80" stroke="#8c8c8c" stroke-width="0.8"/>
<line x1="265.70" y1="753.90" x2="269.50" y2="758.10" stroke="#8c8c8c" stroke-width="0.8"/>
<line x1="265.70" y1="762.70" x2="269.50" y2="766.90" stroke="#8c8c8c" stroke-width="0.8"/>
<line x1="265.40" y1="721.40" x2="267.60" y2="721.40" stroke="#8c8c8c" stroke-width="0.8"/>
<text x="261.80" y="724.28" font-size="8.0" text-anchor="end" textLength="9.16" lengthAdjust="spacingAndGlyphs">35</text>
<line x1="265.40" y1="732.85" x2="267.60" y2="732.85" stroke="#8c8c8c" stroke-width="0.8"/>
<text x="261.80" y="735.73" font-size="8.0" text-anchor="end" textLength="9.16" lengthAdjust="spacingAndGlyphs">30</text>
<line x1="265.40" y1="744.30" x2="267.60" y2="744.30" stroke="#8c8c8c" stroke-width="0.8"/>
<text x="261.80" y="747.18" font-size="8.0" text-anchor="end" textLength="9.16" lengthAdjust="spacingAndGlyphs">25</text>
<line x1="265.40" y1="755.75" x2="267.60" y2="755.75" stroke="#8c8c8c" stroke-width="0.8"/>
<text x="261.80" y="758.63" font-size="8.0" text-anchor="end" textLength="9.16" lengthAdjust="spacingAndGlyphs">20</text>
<line x1="265.40" y1="764.80" x2="267.60" y2="764.80" stroke="#8c8c8c" stroke-width="0.8"/>
<text x="261.80" y="767.68" font-size="8.0" text-anchor="end" textLength="9.16" lengthAdjust="spacingAndGlyphs">20</text>
<line x1="265.40" y1="773.55" x2="267.60" y2="773.55" stroke="#8c8c8c" stroke-width="0.8"/>
<text x="261.80" y="776.43" font-size="8.0" text-anchor="end" textLength="9.16" lengthAdjust="spacingAndGlyphs">15</text>
<line x1="265.40" y1="782.30" x2="267.60" y2="782.30" stroke="#8c8c8c" stroke-width="0.8"/>
<text x="261.80" y="785.18" font-size="8.0" text-anchor="end" textLength="9.16" lengthAdjust="spacingAndGlyphs">10</text>
<line x1="265.40" y1="791.05" x2="267.60" y2="791.05" stroke="#8c8c8c" stroke-width="0.8"/>
<text x="261.80" y="793.93" font-size="8.0" text-anchor="end" textLength="4.58" lengthAdjust="spacingAndGlyphs">5</text>
<line x1="265.40" y1="799.80" x2="267.60" y2="799.80" stroke="#8c8c8c" stroke-width="0.8"/>
<text x="261.80" y="802.68" font-size="8.0" text-anchor="end" textLength="4.58" lengthAdjust="spacingAndGlyphs">0</text>
<line x1="267.60" y1="799.80" x2="387.00" y2="799.80" stroke="#8c8c8c" stroke-width="0.8"/>
<line x1="288.50" y1="799.80" x2="288.50" y2="802.00" stroke="#8c8c8c" stroke-width="0.8"/>
<line x1="327.80" y1="799.80" x2="327.80" y2="802.00" stroke="#8c8c8c" stroke-width="0.8"/>
<line x1="367.00" y1="799.80" x2="367.00" y2="802.00" stroke="#8c8c8c" stroke-width="0.8"/>
<path d="M276.20,755.7 V743.38 H286.00 V755.7" fill="none" stroke="#333" stroke-width="0.8"/>
<line x1="276.20" y1="764.80" x2="276.20" y2="799.80" stroke="#333" stroke-width="0.8"/>
<line x1="286.00" y1="764.80" x2="286.00" y2="799.80" stroke="#333" stroke-width="0.8"/>
<path d="M291.20,755.7 V739.95 H300.70 V755.7" fill="none" stroke="#f46a58" stroke-width="0.8"/>
<line x1="291.20" y1="764.80" x2="291.20" y2="799.80" stroke="#f46a58" stroke-width="0.8"/>
<line x1="300.70" y1="764.80" x2="300.70" y2="799.80" stroke="#f46a58" stroke-width="0.8"/>
<path d="M315.80,755.7 V743.61 H325.20 V755.7" fill="none" stroke="#333" stroke-width="0.8"/>
<line x1="315.80" y1="764.80" x2="315.80" y2="799.80" stroke="#333" stroke-width="0.8"/>
<line x1="325.20" y1="764.80" x2="325.20" y2="799.80" stroke="#333" stroke-width="0.8"/>
<path d="M330.10,755.7 V741.09 H339.80 V755.7" fill="none" stroke="#f46a58" stroke-width="0.8"/>
<line x1="330.10" y1="764.80" x2="330.10" y2="799.80" stroke="#f46a58" stroke-width="0.8"/>
<line x1="339.80" y1="764.80" x2="339.80" y2="799.80" stroke="#f46a58" stroke-width="0.8"/>
<path d="M354.7,799.8 V782.65 H366.1 V799.8" fill="none" stroke="#333" stroke-width="0.8"/>
<path d="M369.9,799.8 V780.90 H379.4 V799.8" fill="none" stroke="#f46a58" stroke-width="0.8"/>
<line x1="281.10" y1="741.55" x2="281.10" y2="745.22" stroke="#222" stroke-width="0.7"/>
<line x1="278.10" y1="741.55" x2="284.10" y2="741.55" stroke="#222" stroke-width="0.7"/>
<line x1="278.10" y1="745.22" x2="284.10" y2="745.22" stroke="#222" stroke-width="0.7"/>
<line x1="296.00" y1="737.66" x2="296.00" y2="742.24" stroke="#f4301a" stroke-width="0.7"/>
<line x1="293.00" y1="737.66" x2="299.00" y2="737.66" stroke="#f4301a" stroke-width="0.7"/>
<line x1="293.00" y1="742.24" x2="299.00" y2="742.24" stroke="#f4301a" stroke-width="0.7"/>
<line x1="320.50" y1="740.86" x2="320.50" y2="746.36" stroke="#222" stroke-width="0.7"/>
<line x1="317.50" y1="740.86" x2="323.50" y2="740.86" stroke="#222" stroke-width="0.7"/>
<line x1="317.50" y1="746.36" x2="323.50" y2="746.36" stroke="#222" stroke-width="0.7"/>
<line x1="335.00" y1="738.35" x2="335.00" y2="743.84" stroke="#f4301a" stroke-width="0.7"/>
<line x1="332.00" y1="738.35" x2="338.00" y2="738.35" stroke="#f4301a" stroke-width="0.7"/>
<line x1="332.00" y1="743.84" x2="338.00" y2="743.84" stroke="#f4301a" stroke-width="0.7"/>
<line x1="360.40" y1="782.12" x2="360.40" y2="783.17" stroke="#222" stroke-width="0.7"/>
<line x1="357.40" y1="782.12" x2="363.40" y2="782.12" stroke="#222" stroke-width="0.7"/>
<line x1="357.40" y1="783.17" x2="363.40" y2="783.17" stroke="#222" stroke-width="0.7"/>
<line x1="374.60" y1="780.02" x2="374.60" y2="781.77" stroke="#f4301a" stroke-width="0.7"/>
<line x1="371.60" y1="780.02" x2="377.60" y2="780.02" stroke="#f4301a" stroke-width="0.7"/>
<line x1="371.60" y1="781.77" x2="377.60" y2="781.77" stroke="#f4301a" stroke-width="0.7"/>
<circle cx="278.00" cy="739.26" r="1.5" fill="#111"/>
<circle cx="284.00" cy="742.01" r="1.5" fill="#111"/>
<circle cx="278.00" cy="744.76" r="1.5" fill="#111"/>
<circle cx="281.00" cy="743.84" r="1.5" fill="#111"/>
<circle cx="284.50" cy="743.61" r="1.5" fill="#111"/>
<circle cx="296.00" cy="732.39" r="1.5" fill="#f4301a"/>
<circle cx="293.50" cy="738.57" r="1.5" fill="#f4301a"/>
<circle cx="299.00" cy="737.89" r="1.5" fill="#f4301a"/>
<circle cx="293.50" cy="742.47" r="1.5" fill="#f4301a"/>
<circle cx="298.50" cy="742.47" r="1.5" fill="#f4301a"/>
<circle cx="320.50" cy="736.74" r="1.5" fill="#111"/>
<circle cx="317.50" cy="742.47" r="1.5" fill="#111"/>
<circle cx="323.50" cy="743.61" r="1.5" fill="#111"/>
<circle cx="320.50" cy="748.88" r="1.5" fill="#111"/>
<circle cx="318.50" cy="742.93" r="1.5" fill="#111"/>
<circle cx="335.00" cy="731.48" r="1.5" fill="#f4301a"/>
<circle cx="332.00" cy="742.01" r="1.5" fill="#f4301a"/>
<circle cx="335.00" cy="742.01" r="1.5" fill="#f4301a"/>
<circle cx="338.00" cy="742.01" r="1.5" fill="#f4301a"/>
<circle cx="356.50" cy="782.30" r="1.35" fill="#111"/>
<circle cx="358.50" cy="783.00" r="1.35" fill="#111"/>
<circle cx="360.50" cy="782.12" r="1.35" fill="#111"/>
<circle cx="362.50" cy="782.82" r="1.35" fill="#111"/>
<circle cx="364.50" cy="783.17" r="1.35" fill="#111"/>
<circle cx="371.50" cy="779.15" r="1.35" fill="#f4301a"/>
<circle cx="374.50" cy="780.55" r="1.35" fill="#f4301a"/>
<circle cx="377.50" cy="779.15" r="1.35" fill="#f4301a"/>
<circle cx="372.50" cy="782.30" r="1.35" fill="#f4301a"/>
<circle cx="376.50" cy="781.95" r="1.35" fill="#f4301a"/>
<text x="288.50" y="719.30" font-size="6.4" text-anchor="middle" textLength="16.6" lengthAdjust="spacingAndGlyphs">0.043</text>
<line x1="280.20" y1="720.70" x2="296.80" y2="720.70" stroke="#777" stroke-width="0.7"/>
<text x="328.50" y="719.30" font-size="6.4" text-anchor="middle" textLength="16.6" lengthAdjust="spacingAndGlyphs">0.075</text>
<line x1="320.20" y1="720.70" x2="336.80" y2="720.70" stroke="#777" stroke-width="0.7"/>
<text x="367.60" y="765.80" font-size="6.4" text-anchor="middle" textLength="13" lengthAdjust="spacingAndGlyphs">0.20</text>
<line x1="360.40" y1="767.10" x2="374.80" y2="767.10" stroke="#777" stroke-width="0.7"/>
<circle cx="372.60" cy="727.30" r="1.3" fill="#111"/>
<text x="378.60" y="729.80" font-size="6.9">HFD</text>
<circle cx="372.60" cy="736.00" r="1.3" fill="#f4301a"/>
<text x="378.60" y="738.50" font-size="6.9">HFD + SANA</text>
<text x="292.60" y="809.00" font-size="9.0" text-anchor="end" transform="rotate(-45 292.60 809.00)">Interscap.</text>
<text x="330.50" y="809.00" font-size="9.0" text-anchor="end" transform="rotate(-45 330.50 809.00)">Inguinal</text>
<text x="370.40" y="809.00" font-size="9.0" text-anchor="end" transform="rotate(-45 370.40 809.00)">Tail</text>
<text x="247.90" y="762.50" font-size="8.6" text-anchor="middle" transform="rotate(-90 247.90 762.50)">Surface temperature (°C)</text>
</svg></body></html>
